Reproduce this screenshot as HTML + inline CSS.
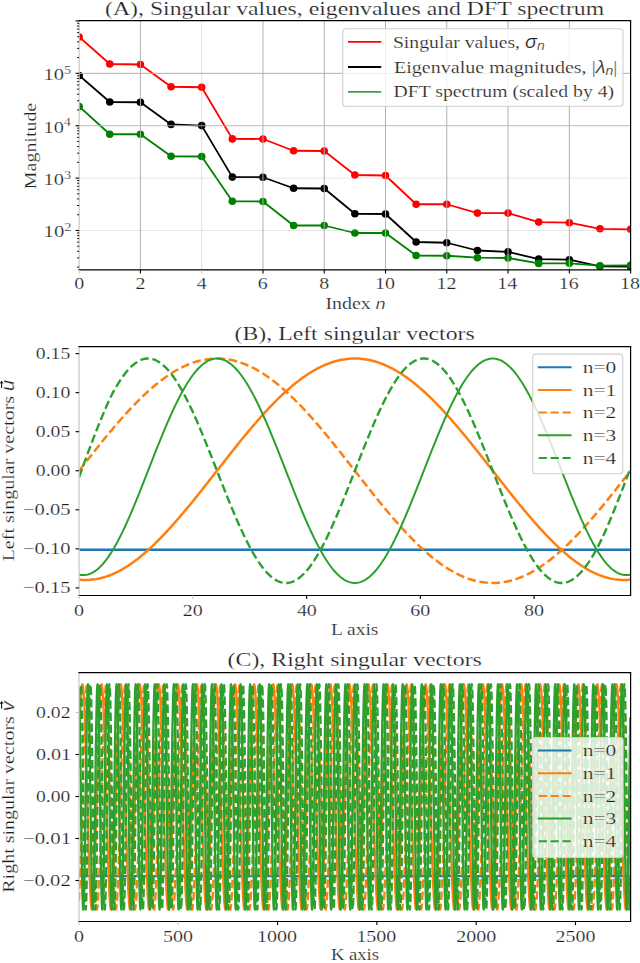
<!DOCTYPE html><html><head><meta charset="utf-8"><style>html,body{margin:0;padding:0;background:#fff;width:640px;height:963px;overflow:hidden}svg{display:block}text{font-family:'Liberation Serif', serif;fill:#1e1e1e;stroke:#fff;stroke-width:0.22px}</style></head><body>
<svg width="640" height="963" viewBox="0 0 640 963">
<defs><clipPath id="cA"><rect x="79.15" y="20.7" width="551.45" height="249.2"/></clipPath>
<clipPath id="cB"><rect x="79.1" y="346.6" width="551.5" height="248.9"/></clipPath>
<clipPath id="cC"><rect x="79" y="672.6" width="551.6" height="248.9"/></clipPath></defs>
<g clip-path="url(#cA)"><path d="M79.15 37 109.79 64 140.42 64.5 171.06 86.75 201.69 87.25 232.33 138.9 262.97 139 293.6 150.75 324.24 151 354.88 175 385.51 175.5 416.15 204.25 446.78 204.25 477.42 213.1 508.06 213.1 538.69 222.1 569.33 222.7 599.96 228.8 630.6 229.3" fill="none" stroke="#ff0000" stroke-width="1.8" stroke-linejoin="round" /><circle cx="79.15" cy="37" r="3.8" fill="#ff0000"/><circle cx="109.79" cy="64" r="3.8" fill="#ff0000"/><circle cx="140.42" cy="64.5" r="3.8" fill="#ff0000"/><circle cx="171.06" cy="86.75" r="3.8" fill="#ff0000"/><circle cx="201.69" cy="87.25" r="3.8" fill="#ff0000"/><circle cx="232.33" cy="138.9" r="3.8" fill="#ff0000"/><circle cx="262.97" cy="139" r="3.8" fill="#ff0000"/><circle cx="293.6" cy="150.75" r="3.8" fill="#ff0000"/><circle cx="324.24" cy="151" r="3.8" fill="#ff0000"/><circle cx="354.88" cy="175" r="3.8" fill="#ff0000"/><circle cx="385.51" cy="175.5" r="3.8" fill="#ff0000"/><circle cx="416.15" cy="204.25" r="3.8" fill="#ff0000"/><circle cx="446.78" cy="204.25" r="3.8" fill="#ff0000"/><circle cx="477.42" cy="213.1" r="3.8" fill="#ff0000"/><circle cx="508.06" cy="213.1" r="3.8" fill="#ff0000"/><circle cx="538.69" cy="222.1" r="3.8" fill="#ff0000"/><circle cx="569.33" cy="222.7" r="3.8" fill="#ff0000"/><circle cx="599.96" cy="228.8" r="3.8" fill="#ff0000"/><circle cx="630.6" cy="229.3" r="3.8" fill="#ff0000"/><path d="M79.15 75.5 109.79 102 140.42 102.25 171.06 124.4 201.69 125.6 232.33 177.1 262.97 177.25 293.6 188.25 324.24 188.5 354.88 213.75 385.51 214 416.15 242 446.78 242.75 477.42 250.5 508.06 251.9 538.69 259.1 569.33 259.7 599.96 266.3 630.6 266.6" fill="none" stroke="#000000" stroke-width="1.8" stroke-linejoin="round" /><circle cx="79.15" cy="75.5" r="3.8" fill="#000000"/><circle cx="109.79" cy="102" r="3.8" fill="#000000"/><circle cx="140.42" cy="102.25" r="3.8" fill="#000000"/><circle cx="171.06" cy="124.4" r="3.8" fill="#000000"/><circle cx="201.69" cy="125.6" r="3.8" fill="#000000"/><circle cx="232.33" cy="177.1" r="3.8" fill="#000000"/><circle cx="262.97" cy="177.25" r="3.8" fill="#000000"/><circle cx="293.6" cy="188.25" r="3.8" fill="#000000"/><circle cx="324.24" cy="188.5" r="3.8" fill="#000000"/><circle cx="354.88" cy="213.75" r="3.8" fill="#000000"/><circle cx="385.51" cy="214" r="3.8" fill="#000000"/><circle cx="416.15" cy="242" r="3.8" fill="#000000"/><circle cx="446.78" cy="242.75" r="3.8" fill="#000000"/><circle cx="477.42" cy="250.5" r="3.8" fill="#000000"/><circle cx="508.06" cy="251.9" r="3.8" fill="#000000"/><circle cx="538.69" cy="259.1" r="3.8" fill="#000000"/><circle cx="569.33" cy="259.7" r="3.8" fill="#000000"/><circle cx="599.96" cy="266.3" r="3.8" fill="#000000"/><circle cx="630.6" cy="266.6" r="3.8" fill="#000000"/><path d="M79.15 106.5 109.79 134.25 140.42 134.25 171.06 156.25 201.69 156.5 232.33 201.3 262.97 201.5 293.6 225.5 324.24 225.5 354.88 233 385.51 233 416.15 255.5 446.78 255.75 477.42 257.7 508.06 258 538.69 263.4 569.33 263.3 599.96 265.7 630.6 265.3" fill="none" stroke="#008000" stroke-width="1.8" stroke-linejoin="round" /><circle cx="79.15" cy="106.5" r="3.8" fill="#008000"/><circle cx="109.79" cy="134.25" r="3.8" fill="#008000"/><circle cx="140.42" cy="134.25" r="3.8" fill="#008000"/><circle cx="171.06" cy="156.25" r="3.8" fill="#008000"/><circle cx="201.69" cy="156.5" r="3.8" fill="#008000"/><circle cx="232.33" cy="201.3" r="3.8" fill="#008000"/><circle cx="262.97" cy="201.5" r="3.8" fill="#008000"/><circle cx="293.6" cy="225.5" r="3.8" fill="#008000"/><circle cx="324.24" cy="225.5" r="3.8" fill="#008000"/><circle cx="354.88" cy="233" r="3.8" fill="#008000"/><circle cx="385.51" cy="233" r="3.8" fill="#008000"/><circle cx="416.15" cy="255.5" r="3.8" fill="#008000"/><circle cx="446.78" cy="255.75" r="3.8" fill="#008000"/><circle cx="477.42" cy="257.7" r="3.8" fill="#008000"/><circle cx="508.06" cy="258" r="3.8" fill="#008000"/><circle cx="538.69" cy="263.4" r="3.8" fill="#008000"/><circle cx="569.33" cy="263.3" r="3.8" fill="#008000"/><circle cx="599.96" cy="265.7" r="3.8" fill="#008000"/><circle cx="630.6" cy="265.3" r="3.8" fill="#008000"/></g>
<g><line x1="140.42" y1="20.7" x2="140.42" y2="269.9" stroke="#b0b0b0" stroke-width="1" /><line x1="201.69" y1="20.7" x2="201.69" y2="269.9" stroke="#b0b0b0" stroke-width="1" stroke-opacity="0.4"/><line x1="262.97" y1="20.7" x2="262.97" y2="269.9" stroke="#b0b0b0" stroke-width="1" /><line x1="324.24" y1="20.7" x2="324.24" y2="269.9" stroke="#b0b0b0" stroke-width="1" /><line x1="385.51" y1="20.7" x2="385.51" y2="269.9" stroke="#b0b0b0" stroke-width="1" /><line x1="446.78" y1="20.7" x2="446.78" y2="269.9" stroke="#b0b0b0" stroke-width="1" /><line x1="508.06" y1="20.7" x2="508.06" y2="269.9" stroke="#b0b0b0" stroke-width="1" /><line x1="569.33" y1="20.7" x2="569.33" y2="269.9" stroke="#b0b0b0" stroke-width="1" /><line x1="79.15" y1="230.49" x2="630.6" y2="230.49" stroke="#b0b0b0" stroke-width="1" stroke-opacity="0.3"/><line x1="79.15" y1="178.11" x2="630.6" y2="178.11" stroke="#b0b0b0" stroke-width="1" stroke-opacity="0.3"/><line x1="79.15" y1="125.73" x2="630.6" y2="125.73" stroke="#b0b0b0" stroke-width="1" stroke-opacity="0.85"/><line x1="79.15" y1="73.35" x2="630.6" y2="73.35" stroke="#b0b0b0" stroke-width="1" stroke-opacity="1.0"/></g>
<line x1="79.15" y1="20.7" x2="79.15" y2="269.9" stroke="#c8c8c8" stroke-width="1.2" />
<line x1="78.55" y1="20.7" x2="631.2" y2="20.7" stroke="#000" stroke-width="1.2" />
<line x1="78.55" y1="269.9" x2="631.2" y2="269.9" stroke="#000" stroke-width="1.2" />
<line x1="630.6" y1="20.7" x2="630.6" y2="269.9" stroke="#000" stroke-width="1.2" />
<g><line x1="79.15" y1="269.9" x2="79.15" y2="273.5" stroke="#c8c8c8" stroke-width="1.1" /><line x1="140.42" y1="269.9" x2="140.42" y2="273.5" stroke="#000" stroke-width="1.1" /><line x1="201.69" y1="269.9" x2="201.69" y2="273.5" stroke="#c8c8c8" stroke-width="1.1" /><line x1="262.97" y1="269.9" x2="262.97" y2="273.5" stroke="#000" stroke-width="1.1" /><line x1="324.24" y1="269.9" x2="324.24" y2="273.5" stroke="#000" stroke-width="1.1" /><line x1="385.51" y1="269.9" x2="385.51" y2="273.5" stroke="#000" stroke-width="1.1" /><line x1="446.78" y1="269.9" x2="446.78" y2="273.5" stroke="#000" stroke-width="1.1" /><line x1="508.06" y1="269.9" x2="508.06" y2="273.5" stroke="#000" stroke-width="1.1" /><line x1="569.33" y1="269.9" x2="569.33" y2="273.5" stroke="#000" stroke-width="1.1" /><line x1="630.6" y1="269.9" x2="630.6" y2="273.5" stroke="#000" stroke-width="1.1" /><line x1="77.05" y1="267.1" x2="79.15" y2="267.1" stroke="#000" stroke-width="0.9" /><line x1="77.05" y1="257.88" x2="79.15" y2="257.88" stroke="#000" stroke-width="0.9" /><line x1="77.05" y1="251.33" x2="79.15" y2="251.33" stroke="#000" stroke-width="0.9" /><line x1="77.05" y1="246.26" x2="79.15" y2="246.26" stroke="#000" stroke-width="0.9" /><line x1="77.05" y1="242.11" x2="79.15" y2="242.11" stroke="#000" stroke-width="0.9" /><line x1="77.05" y1="238.6" x2="79.15" y2="238.6" stroke="#000" stroke-width="0.9" /><line x1="77.05" y1="235.57" x2="79.15" y2="235.57" stroke="#000" stroke-width="0.9" /><line x1="77.05" y1="232.89" x2="79.15" y2="232.89" stroke="#000" stroke-width="0.9" /><line x1="75.55" y1="230.49" x2="79.15" y2="230.49" stroke="#000" stroke-width="1.1" /><line x1="77.05" y1="214.72" x2="79.15" y2="214.72" stroke="#000" stroke-width="0.9" /><line x1="77.05" y1="205.5" x2="79.15" y2="205.5" stroke="#000" stroke-width="0.9" /><line x1="77.05" y1="198.95" x2="79.15" y2="198.95" stroke="#000" stroke-width="0.9" /><line x1="77.05" y1="193.88" x2="79.15" y2="193.88" stroke="#000" stroke-width="0.9" /><line x1="77.05" y1="189.73" x2="79.15" y2="189.73" stroke="#000" stroke-width="0.9" /><line x1="77.05" y1="186.22" x2="79.15" y2="186.22" stroke="#000" stroke-width="0.9" /><line x1="77.05" y1="183.19" x2="79.15" y2="183.19" stroke="#000" stroke-width="0.9" /><line x1="77.05" y1="180.51" x2="79.15" y2="180.51" stroke="#000" stroke-width="0.9" /><line x1="75.55" y1="178.11" x2="79.15" y2="178.11" stroke="#000" stroke-width="1.1" /><line x1="77.05" y1="162.34" x2="79.15" y2="162.34" stroke="#000" stroke-width="0.9" /><line x1="77.05" y1="153.12" x2="79.15" y2="153.12" stroke="#000" stroke-width="0.9" /><line x1="77.05" y1="146.57" x2="79.15" y2="146.57" stroke="#000" stroke-width="0.9" /><line x1="77.05" y1="141.5" x2="79.15" y2="141.5" stroke="#000" stroke-width="0.9" /><line x1="77.05" y1="137.35" x2="79.15" y2="137.35" stroke="#000" stroke-width="0.9" /><line x1="77.05" y1="133.84" x2="79.15" y2="133.84" stroke="#000" stroke-width="0.9" /><line x1="77.05" y1="130.81" x2="79.15" y2="130.81" stroke="#000" stroke-width="0.9" /><line x1="77.05" y1="128.13" x2="79.15" y2="128.13" stroke="#000" stroke-width="0.9" /><line x1="75.55" y1="125.73" x2="79.15" y2="125.73" stroke="#000" stroke-width="1.1" /><line x1="77.05" y1="109.96" x2="79.15" y2="109.96" stroke="#000" stroke-width="0.9" /><line x1="77.05" y1="100.74" x2="79.15" y2="100.74" stroke="#000" stroke-width="0.9" /><line x1="77.05" y1="94.19" x2="79.15" y2="94.19" stroke="#000" stroke-width="0.9" /><line x1="77.05" y1="89.12" x2="79.15" y2="89.12" stroke="#000" stroke-width="0.9" /><line x1="77.05" y1="84.97" x2="79.15" y2="84.97" stroke="#000" stroke-width="0.9" /><line x1="77.05" y1="81.46" x2="79.15" y2="81.46" stroke="#000" stroke-width="0.9" /><line x1="77.05" y1="78.43" x2="79.15" y2="78.43" stroke="#000" stroke-width="0.9" /><line x1="77.05" y1="75.75" x2="79.15" y2="75.75" stroke="#000" stroke-width="0.9" /><line x1="75.55" y1="73.35" x2="79.15" y2="73.35" stroke="#000" stroke-width="1.1" /><line x1="77.05" y1="57.58" x2="79.15" y2="57.58" stroke="#000" stroke-width="0.9" /><line x1="77.05" y1="48.36" x2="79.15" y2="48.36" stroke="#000" stroke-width="0.9" /><line x1="77.05" y1="41.81" x2="79.15" y2="41.81" stroke="#000" stroke-width="0.9" /><line x1="77.05" y1="36.74" x2="79.15" y2="36.74" stroke="#000" stroke-width="0.9" /><line x1="77.05" y1="32.59" x2="79.15" y2="32.59" stroke="#000" stroke-width="0.9" /><line x1="77.05" y1="29.08" x2="79.15" y2="29.08" stroke="#000" stroke-width="0.9" /><line x1="77.05" y1="26.05" x2="79.15" y2="26.05" stroke="#000" stroke-width="0.9" /><line x1="77.05" y1="23.37" x2="79.15" y2="23.37" stroke="#000" stroke-width="0.9" /><line x1="75.55" y1="20.97" x2="79.15" y2="20.97" stroke="#000" stroke-width="1.1" /></g>
<rect x="342.7" y="28.7" width="280.3" height="77.6" rx="3" ry="3" fill="#fff" fill-opacity="0.8" stroke="#d0d0d0" stroke-width="1.1"/>
<line x1="348" y1="41.9" x2="381.2" y2="41.9" stroke="#ff0000" stroke-width="1.9" />
<line x1="348" y1="67" x2="381.2" y2="67" stroke="#000000" stroke-width="1.9" />
<line x1="348" y1="91.9" x2="381.2" y2="91.9" stroke="#40a040" stroke-width="1.9" />
<g clip-path="url(#cB)"><path d="M79.1 549.79 80.94 549.79 82.78 549.79 84.61 549.79 86.45 549.79 88.29 549.79 90.13 549.79 91.97 549.79 93.81 549.79 95.64 549.79 97.48 549.79 99.32 549.79 101.16 549.79 103 549.79 104.84 549.79 106.67 549.79 108.51 549.79 110.35 549.79 112.19 549.79 114.03 549.79 115.87 549.79 117.7 549.79 119.54 549.79 121.38 549.79 123.22 549.79 125.06 549.79 126.9 549.79 128.73 549.79 130.57 549.79 132.41 549.79 134.25 549.79 136.09 549.79 137.93 549.79 139.76 549.79 141.6 549.79 143.44 549.79 145.28 549.79 147.12 549.79 148.96 549.79 150.8 549.79 152.63 549.79 154.47 549.79 156.31 549.79 158.15 549.79 159.99 549.79 161.82 549.79 163.66 549.79 165.5 549.79 167.34 549.79 169.18 549.79 171.02 549.79 172.86 549.79 174.69 549.79 176.53 549.79 178.37 549.79 180.21 549.79 182.05 549.79 183.88 549.79 185.72 549.79 187.56 549.79 189.4 549.79 191.24 549.79 193.08 549.79 194.91 549.79 196.75 549.79 198.59 549.79 200.43 549.79 202.27 549.79 204.11 549.79 205.94 549.79 207.78 549.79 209.62 549.79 211.46 549.79 213.3 549.79 215.14 549.79 216.97 549.79 218.81 549.79 220.65 549.79 222.49 549.79 224.33 549.79 226.17 549.79 228 549.79 229.84 549.79 231.68 549.79 233.52 549.79 235.36 549.79 237.2 549.79 239.03 549.79 240.87 549.79 242.71 549.79 244.55 549.79 246.39 549.79 248.23 549.79 250.06 549.79 251.9 549.79 253.74 549.79 255.58 549.79 257.42 549.79 259.26 549.79 261.1 549.79 262.93 549.79 264.77 549.79 266.61 549.79 268.45 549.79 270.29 549.79 272.12 549.79 273.96 549.79 275.8 549.79 277.64 549.79 279.48 549.79 281.32 549.79 283.15 549.79 284.99 549.79 286.83 549.79 288.67 549.79 290.51 549.79 292.35 549.79 294.19 549.79 296.02 549.79 297.86 549.79 299.7 549.79 301.54 549.79 303.38 549.79 305.21 549.79 307.05 549.79 308.89 549.79 310.73 549.79 312.57 549.79 314.41 549.79 316.25 549.79 318.08 549.79 319.92 549.79 321.76 549.79 323.6 549.79 325.44 549.79 327.27 549.79 329.11 549.79 330.95 549.79 332.79 549.79 334.63 549.79 336.47 549.79 338.3 549.79 340.14 549.79 341.98 549.79 343.82 549.79 345.66 549.79 347.5 549.79 349.34 549.79 351.17 549.79 353.01 549.79 354.85 549.79 356.69 549.79 358.53 549.79 360.37 549.79 362.2 549.79 364.04 549.79 365.88 549.79 367.72 549.79 369.56 549.79 371.39 549.79 373.23 549.79 375.07 549.79 376.91 549.79 378.75 549.79 380.59 549.79 382.43 549.79 384.26 549.79 386.1 549.79 387.94 549.79 389.78 549.79 391.62 549.79 393.45 549.79 395.29 549.79 397.13 549.79 398.97 549.79 400.81 549.79 402.65 549.79 404.49 549.79 406.32 549.79 408.16 549.79 410 549.79 411.84 549.79 413.68 549.79 415.51 549.79 417.35 549.79 419.19 549.79 421.03 549.79 422.87 549.79 424.71 549.79 426.54 549.79 428.38 549.79 430.22 549.79 432.06 549.79 433.9 549.79 435.74 549.79 437.58 549.79 439.41 549.79 441.25 549.79 443.09 549.79 444.93 549.79 446.77 549.79 448.61 549.79 450.44 549.79 452.28 549.79 454.12 549.79 455.96 549.79 457.8 549.79 459.63 549.79 461.47 549.79 463.31 549.79 465.15 549.79 466.99 549.79 468.83 549.79 470.66 549.79 472.5 549.79 474.34 549.79 476.18 549.79 478.02 549.79 479.86 549.79 481.69 549.79 483.53 549.79 485.37 549.79 487.21 549.79 489.05 549.79 490.89 549.79 492.73 549.79 494.56 549.79 496.4 549.79 498.24 549.79 500.08 549.79 501.92 549.79 503.75 549.79 505.59 549.79 507.43 549.79 509.27 549.79 511.11 549.79 512.95 549.79 514.78 549.79 516.62 549.79 518.46 549.79 520.3 549.79 522.14 549.79 523.98 549.79 525.82 549.79 527.65 549.79 529.49 549.79 531.33 549.79 533.17 549.79 535.01 549.79 536.85 549.79 538.68 549.79 540.52 549.79 542.36 549.79 544.2 549.79 546.04 549.79 547.88 549.79 549.71 549.79 551.55 549.79 553.39 549.79 555.23 549.79 557.07 549.79 558.9 549.79 560.74 549.79 562.58 549.79 564.42 549.79 566.26 549.79 568.1 549.79 569.93 549.79 571.77 549.79 573.61 549.79 575.45 549.79 577.29 549.79 579.13 549.79 580.97 549.79 582.8 549.79 584.64 549.79 586.48 549.79 588.32 549.79 590.16 549.79 592 549.79 593.83 549.79 595.67 549.79 597.51 549.79 599.35 549.79 601.19 549.79 603.02 549.79 604.86 549.79 606.7 549.79 608.54 549.79 610.38 549.79 612.22 549.79 614.06 549.79 615.89 549.79 617.73 549.79 619.57 549.79 621.41 549.79 623.25 549.79 625.09 549.79 626.92 549.79 628.76 549.79 630.6 549.79" fill="none" stroke="#1f77b4" stroke-width="2.4" stroke-linejoin="round"  stroke-linecap="butt"/><path d="M79.1 579.61 80.94 579.77 82.78 579.88 84.61 579.93 86.45 579.94 88.29 579.88 90.13 579.78 91.97 579.61 93.81 579.4 95.64 579.13 97.48 578.81 99.32 578.43 101.16 578 103 577.52 104.84 576.99 106.67 576.4 108.51 575.76 110.35 575.06 112.19 574.32 114.03 573.52 115.87 572.67 117.7 571.77 119.54 570.82 121.38 569.82 123.22 568.77 125.06 567.67 126.9 566.53 128.73 565.33 130.57 564.09 132.41 562.8 134.25 561.47 136.09 560.09 137.93 558.67 139.76 557.21 141.6 555.7 143.44 554.15 145.28 552.56 147.12 550.94 148.96 549.27 150.8 547.58 152.63 545.85 154.47 544.08 156.31 542.29 158.15 540.46 159.99 538.6 161.82 536.72 163.66 534.8 165.5 532.86 167.34 530.89 169.18 528.89 171.02 526.86 172.86 524.82 174.69 522.75 176.53 520.65 178.37 518.54 180.21 516.4 182.05 514.24 183.88 512.06 185.72 509.87 187.56 507.66 189.4 505.43 191.24 503.19 193.08 500.93 194.91 498.66 196.75 496.38 198.59 494.08 200.43 491.78 202.27 489.47 204.11 487.14 205.94 484.82 207.78 482.48 209.62 480.14 211.46 477.8 213.3 475.45 215.14 473.1 216.97 470.75 218.81 468.4 220.65 466.05 222.49 463.7 224.33 461.36 226.17 459.02 228 456.68 229.84 454.36 231.68 452.03 233.52 449.72 235.36 447.42 237.2 445.12 239.03 442.84 240.87 440.57 242.71 438.31 244.55 436.07 246.39 433.84 248.23 431.63 250.06 429.44 251.9 427.26 253.74 425.1 255.58 422.96 257.42 420.85 259.26 418.75 261.1 416.68 262.93 414.64 264.77 412.61 266.61 410.61 268.45 408.64 270.29 406.7 272.12 404.78 273.96 402.9 275.8 401.04 277.64 399.21 279.48 397.42 281.32 395.65 283.15 393.92 284.99 392.23 286.83 390.56 288.67 388.94 290.51 387.35 292.35 385.79 294.19 384.28 296.02 382.8 297.86 381.36 299.7 379.95 301.54 378.59 303.38 377.27 305.21 375.99 307.05 374.75 308.89 373.56 310.73 372.4 312.57 371.29 314.41 370.22 316.25 369.2 318.08 368.22 319.92 367.29 321.76 366.4 323.6 365.56 325.44 364.76 327.27 364.01 329.11 363.31 330.95 362.65 332.79 362.05 334.63 361.49 336.47 360.97 338.3 360.51 340.14 360.09 341.98 359.72 343.82 359.41 345.66 359.14 347.5 358.91 349.34 358.74 351.17 358.62 353.01 358.54 354.85 358.52 356.69 358.54 358.53 358.62 360.37 358.74 362.2 358.91 364.04 359.14 365.88 359.41 367.72 359.72 369.56 360.09 371.39 360.51 373.23 360.97 375.07 361.49 376.91 362.05 378.75 362.65 380.59 363.31 382.43 364.01 384.26 364.76 386.1 365.56 387.94 366.4 389.78 367.29 391.62 368.22 393.45 369.2 395.29 370.22 397.13 371.29 398.97 372.4 400.81 373.56 402.65 374.75 404.49 375.99 406.32 377.27 408.16 378.59 410 379.95 411.84 381.36 413.68 382.8 415.51 384.28 417.35 385.79 419.19 387.35 421.03 388.94 422.87 390.56 424.71 392.23 426.54 393.92 428.38 395.65 430.22 397.42 432.06 399.21 433.9 401.04 435.74 402.9 437.58 404.78 439.41 406.7 441.25 408.64 443.09 410.61 444.93 412.61 446.77 414.64 448.61 416.68 450.44 418.75 452.28 420.85 454.12 422.96 455.96 425.1 457.8 427.26 459.63 429.44 461.47 431.63 463.31 433.84 465.15 436.07 466.99 438.31 468.83 440.57 470.66 442.84 472.5 445.12 474.34 447.42 476.18 449.72 478.02 452.03 479.86 454.36 481.69 456.68 483.53 459.02 485.37 461.36 487.21 463.7 489.05 466.05 490.89 468.4 492.73 470.75 494.56 473.1 496.4 475.45 498.24 477.8 500.08 480.14 501.92 482.48 503.75 484.82 505.59 487.14 507.43 489.47 509.27 491.78 511.11 494.08 512.95 496.38 514.78 498.66 516.62 500.93 518.46 503.19 520.3 505.43 522.14 507.66 523.98 509.87 525.82 512.06 527.65 514.24 529.49 516.4 531.33 518.54 533.17 520.65 535.01 522.75 536.85 524.82 538.68 526.86 540.52 528.89 542.36 530.89 544.2 532.86 546.04 534.8 547.88 536.72 549.71 538.6 551.55 540.46 553.39 542.29 555.23 544.08 557.07 545.85 558.9 547.58 560.74 549.27 562.58 550.94 564.42 552.56 566.26 554.15 568.1 555.7 569.93 557.21 571.77 558.67 573.61 560.09 575.45 561.47 577.29 562.8 579.13 564.09 580.97 565.33 582.8 566.53 584.64 567.67 586.48 568.77 588.32 569.82 590.16 570.82 592 571.77 593.83 572.67 595.67 573.52 597.51 574.32 599.35 575.06 601.19 575.76 603.02 576.4 604.86 576.99 606.7 577.52 608.54 578 610.38 578.43 612.22 578.81 614.06 579.13 615.89 579.4 617.73 579.61 619.57 579.78 621.41 579.88 623.25 579.94 625.09 579.93 626.92 579.88 628.76 579.77 630.6 579.61" fill="none" stroke="#ff7f0e" stroke-width="2.5" stroke-linejoin="round"  stroke-linecap="butt"/><path d="M79.1 470.75 80.94 468.4 82.78 466.05 84.61 463.7 86.45 461.36 88.29 459.02 90.13 456.68 91.97 454.36 93.81 452.03 95.64 449.72 97.48 447.42 99.32 445.12 101.16 442.84 103 440.57 104.84 438.31 106.67 436.07 108.51 433.84 110.35 431.63 112.19 429.44 114.03 427.26 115.87 425.1 117.7 422.96 119.54 420.85 121.38 418.75 123.22 416.68 125.06 414.64 126.9 412.61 128.73 410.61 130.57 408.64 132.41 406.7 134.25 404.78 136.09 402.9 137.93 401.04 139.76 399.21 141.6 397.42 143.44 395.65 145.28 393.92 147.12 392.23 148.96 390.56 150.8 388.94 152.63 387.35 154.47 385.79 156.31 384.28 158.15 382.8 159.99 381.36 161.82 379.95 163.66 378.59 165.5 377.27 167.34 375.99 169.18 374.75 171.02 373.56 172.86 372.4 174.69 371.29 176.53 370.22 178.37 369.2 180.21 368.22 182.05 367.29 183.88 366.4 185.72 365.56 187.56 364.76 189.4 364.01 191.24 363.31 193.08 362.65 194.91 362.05 196.75 361.49 198.59 360.97 200.43 360.51 202.27 360.09 204.11 359.72 205.94 359.41 207.78 359.14 209.62 358.91 211.46 358.74 213.3 358.62 215.14 358.54 216.97 358.52 218.81 358.54 220.65 358.62 222.49 358.74 224.33 358.91 226.17 359.14 228 359.41 229.84 359.72 231.68 360.09 233.52 360.51 235.36 360.97 237.2 361.49 239.03 362.05 240.87 362.65 242.71 363.31 244.55 364.01 246.39 364.76 248.23 365.56 250.06 366.4 251.9 367.29 253.74 368.22 255.58 369.2 257.42 370.22 259.26 371.29 261.1 372.4 262.93 373.56 264.77 374.75 266.61 375.99 268.45 377.27 270.29 378.59 272.12 379.95 273.96 381.36 275.8 382.8 277.64 384.28 279.48 385.79 281.32 387.35 283.15 388.94 284.99 390.56 286.83 392.23 288.67 393.92 290.51 395.65 292.35 397.42 294.19 399.21 296.02 401.04 297.86 402.9 299.7 404.78 301.54 406.7 303.38 408.64 305.21 410.61 307.05 412.61 308.89 414.64 310.73 416.68 312.57 418.75 314.41 420.85 316.25 422.96 318.08 425.1 319.92 427.26 321.76 429.44 323.6 431.63 325.44 433.84 327.27 436.07 329.11 438.31 330.95 440.57 332.79 442.84 334.63 445.12 336.47 447.42 338.3 449.72 340.14 452.03 341.98 454.36 343.82 456.68 345.66 459.02 347.5 461.36 349.34 463.7 351.17 466.05 353.01 468.4 354.85 470.75 356.69 473.1 358.53 475.45 360.37 477.8 362.2 480.14 364.04 482.48 365.88 484.82 367.72 487.14 369.56 489.47 371.39 491.78 373.23 494.08 375.07 496.38 376.91 498.66 378.75 500.93 380.59 503.19 382.43 505.43 384.26 507.66 386.1 509.87 387.94 512.06 389.78 514.24 391.62 516.4 393.45 518.54 395.29 520.65 397.13 522.75 398.97 524.82 400.81 526.86 402.65 528.89 404.49 530.89 406.32 532.86 408.16 534.8 410 536.72 411.84 538.6 413.68 540.46 415.51 542.29 417.35 544.08 419.19 545.85 421.03 547.58 422.87 549.27 424.71 550.94 426.54 552.56 428.38 554.15 430.22 555.71 432.06 557.22 433.9 558.7 435.74 560.14 437.58 561.55 439.41 562.91 441.25 564.23 443.09 565.51 444.93 566.75 446.77 567.94 448.61 569.1 450.44 570.21 452.28 571.28 454.12 572.3 455.96 573.28 457.8 574.21 459.63 575.1 461.47 575.94 463.31 576.74 465.15 577.49 466.99 578.19 468.83 578.85 470.66 579.45 472.5 580.01 474.34 580.53 476.18 580.99 478.02 581.41 479.86 581.78 481.69 582.09 483.53 582.36 485.37 582.59 487.21 582.76 489.05 582.88 490.89 582.96 492.73 582.98 494.56 582.96 496.4 582.88 498.24 582.76 500.08 582.59 501.92 582.36 503.75 582.09 505.59 581.78 507.43 581.41 509.27 580.99 511.11 580.53 512.95 580.01 514.78 579.45 516.62 578.85 518.46 578.19 520.3 577.49 522.14 576.74 523.98 575.94 525.82 575.1 527.65 574.21 529.49 573.28 531.33 572.3 533.17 571.28 535.01 570.21 536.85 569.1 538.68 567.94 540.52 566.75 542.36 565.51 544.2 564.23 546.04 562.91 547.88 561.55 549.71 560.14 551.55 558.7 553.39 557.22 555.23 555.71 557.07 554.15 558.9 552.56 560.74 550.94 562.58 549.27 564.42 547.58 566.26 545.85 568.1 544.08 569.93 542.29 571.77 540.46 573.61 538.6 575.45 536.72 577.29 534.8 579.13 532.86 580.97 530.89 582.8 528.89 584.64 526.86 586.48 524.82 588.32 522.75 590.16 520.65 592 518.54 593.83 516.4 595.67 514.24 597.51 512.06 599.35 509.87 601.19 507.66 603.02 505.43 604.86 503.19 606.7 500.93 608.54 498.66 610.38 496.38 612.22 494.08 614.06 491.78 615.89 489.47 617.73 487.14 619.57 484.82 621.41 482.48 623.25 480.14 625.09 477.8 626.92 475.45 628.76 473.1 630.6 470.75" fill="none" stroke="#ff7f0e" stroke-width="2.5" stroke-linejoin="round" stroke-dasharray="8.5 3.7" stroke-linecap="butt"/><path d="M79.1 574.56 80.94 574.93 82.78 575.1 84.61 575.08 86.45 574.85 88.29 574.42 90.13 573.79 91.97 572.96 93.81 571.93 95.64 570.7 97.48 569.27 99.32 567.64 101.16 565.82 103 563.81 104.84 561.61 106.67 559.23 108.51 556.67 110.35 553.93 112.19 551.03 114.03 547.96 115.87 544.73 117.7 541.36 119.54 537.83 121.38 534.17 123.22 530.38 125.06 526.47 126.9 522.44 128.73 518.31 130.57 514.08 132.41 509.76 134.25 505.36 136.09 500.89 137.93 496.35 139.76 491.77 141.6 487.14 143.44 482.48 145.28 477.8 147.12 473.1 148.96 468.4 150.8 463.7 152.63 459.02 154.47 454.36 156.31 449.72 158.15 445.12 159.99 440.57 161.82 436.07 163.66 431.63 165.5 427.26 167.34 422.96 169.18 418.75 171.02 414.64 172.86 410.61 174.69 406.7 176.53 402.9 178.37 399.21 180.21 395.65 182.05 392.23 183.88 388.94 185.72 385.79 187.56 382.8 189.4 379.95 191.24 377.27 193.08 374.75 194.91 372.4 196.75 370.22 198.59 368.22 200.43 366.4 202.27 364.76 204.11 363.31 205.94 362.05 207.78 360.97 209.62 360.09 211.46 359.41 213.3 358.91 215.14 358.62 216.97 358.52 218.81 358.62 220.65 358.91 222.49 359.41 224.33 360.09 226.17 360.97 228 362.05 229.84 363.31 231.68 364.76 233.52 366.4 235.36 368.22 237.2 370.22 239.03 372.4 240.87 374.75 242.71 377.27 244.55 379.95 246.39 382.8 248.23 385.79 250.06 388.94 251.9 392.23 253.74 395.65 255.58 399.21 257.42 402.9 259.26 406.7 261.1 410.61 262.93 414.64 264.77 418.75 266.61 422.96 268.45 427.26 270.29 431.63 272.12 436.07 273.96 440.57 275.8 445.12 277.64 449.72 279.48 454.36 281.32 459.02 283.15 463.7 284.99 468.4 286.83 473.1 288.67 477.8 290.51 482.48 292.35 487.14 294.19 491.78 296.02 496.38 297.86 500.93 299.7 505.43 301.54 509.87 303.38 514.24 305.21 518.54 307.05 522.75 308.89 526.86 310.73 530.89 312.57 534.8 314.41 538.6 316.25 542.29 318.08 545.85 319.92 549.27 321.76 552.56 323.6 555.71 325.44 558.7 327.27 561.55 329.11 564.23 330.95 566.75 332.79 569.1 334.63 571.28 336.47 573.28 338.3 575.1 340.14 576.74 341.98 578.19 343.82 579.45 345.66 580.53 347.5 581.41 349.34 582.09 351.17 582.59 353.01 582.88 354.85 582.98 356.69 582.88 358.53 582.59 360.37 582.09 362.2 581.41 364.04 580.53 365.88 579.45 367.72 578.19 369.56 576.74 371.39 575.1 373.23 573.28 375.07 571.28 376.91 569.1 378.75 566.75 380.59 564.23 382.43 561.55 384.26 558.7 386.1 555.71 387.94 552.56 389.78 549.27 391.62 545.85 393.45 542.29 395.29 538.6 397.13 534.8 398.97 530.89 400.81 526.86 402.65 522.75 404.49 518.54 406.32 514.24 408.16 509.87 410 505.43 411.84 500.93 413.68 496.38 415.51 491.78 417.35 487.14 419.19 482.48 421.03 477.8 422.87 473.1 424.71 468.4 426.54 463.7 428.38 459.02 430.22 454.36 432.06 449.72 433.9 445.12 435.74 440.57 437.58 436.07 439.41 431.63 441.25 427.26 443.09 422.96 444.93 418.75 446.77 414.64 448.61 410.61 450.44 406.7 452.28 402.9 454.12 399.21 455.96 395.65 457.8 392.23 459.63 388.94 461.47 385.79 463.31 382.8 465.15 379.95 466.99 377.27 468.83 374.75 470.66 372.4 472.5 370.22 474.34 368.22 476.18 366.4 478.02 364.76 479.86 363.31 481.69 362.05 483.53 360.97 485.37 360.09 487.21 359.41 489.05 358.91 490.89 358.62 492.73 358.52 494.56 358.62 496.4 358.91 498.24 359.41 500.08 360.09 501.92 360.97 503.75 362.05 505.59 363.31 507.43 364.76 509.27 366.4 511.11 368.22 512.95 370.22 514.78 372.4 516.62 374.75 518.46 377.27 520.3 379.95 522.14 382.8 523.98 385.79 525.82 388.94 527.65 392.23 529.49 395.65 531.33 399.21 533.17 402.9 535.01 406.7 536.85 410.61 538.68 414.64 540.52 418.75 542.36 422.96 544.2 427.26 546.04 431.63 547.88 436.07 549.71 440.57 551.55 445.12 553.39 449.72 555.23 454.36 557.07 459.02 558.9 463.7 560.74 468.4 562.58 473.1 564.42 477.8 566.26 482.48 568.1 487.14 569.93 491.77 571.77 496.35 573.61 500.89 575.45 505.36 577.29 509.76 579.13 514.08 580.97 518.31 582.8 522.44 584.64 526.47 586.48 530.38 588.32 534.17 590.16 537.83 592 541.36 593.83 544.73 595.67 547.96 597.51 551.03 599.35 553.93 601.19 556.67 603.02 559.23 604.86 561.61 606.7 563.81 608.54 565.82 610.38 567.64 612.22 569.27 614.06 570.7 615.89 571.93 617.73 572.96 619.57 573.79 621.41 574.42 623.25 574.85 625.09 575.08 626.92 575.1 628.76 574.93 630.6 574.56" fill="none" stroke="#2ca02c" stroke-width="2" stroke-linejoin="round"  stroke-linecap="butt"/><path d="M79.1 477 80.94 471.95 82.78 466.91 84.61 461.89 86.45 456.89 88.29 451.93 90.13 447 91.97 442.13 93.81 437.31 95.64 432.56 97.48 427.88 99.32 423.28 101.16 418.77 103 414.35 104.84 410.03 106.67 405.82 108.51 401.73 110.35 397.76 112.19 393.92 114.03 390.56 115.87 387.35 117.7 384.28 119.54 381.36 121.38 378.59 123.22 375.99 125.06 373.56 126.9 371.29 128.73 369.2 130.57 367.29 132.41 365.56 134.25 364.01 136.09 362.65 137.93 361.49 139.76 360.51 141.6 359.72 143.44 359.14 145.28 358.74 147.12 358.54 148.96 358.54 150.8 358.74 152.63 359.14 154.47 359.72 156.31 360.51 158.15 361.49 159.99 362.65 161.82 364.01 163.66 365.56 165.5 367.29 167.34 369.2 169.18 371.29 171.02 373.56 172.86 375.99 174.69 378.59 176.53 381.36 178.37 384.28 180.21 387.35 182.05 390.56 183.88 393.92 185.72 397.42 187.56 401.04 189.4 404.78 191.24 408.64 193.08 412.61 194.91 416.68 196.75 420.85 198.59 425.1 200.43 429.44 202.27 433.84 204.11 438.31 205.94 442.84 207.78 447.42 209.62 452.03 211.46 456.68 213.3 461.36 215.14 466.05 216.97 470.75 218.81 475.45 220.65 480.14 222.49 484.82 224.33 489.47 226.17 494.08 228 498.66 229.84 503.19 231.68 507.66 233.52 512.06 235.36 516.4 237.2 520.65 239.03 524.82 240.87 528.89 242.71 532.86 244.55 536.72 246.39 540.46 248.23 544.08 250.06 547.58 251.9 550.94 253.74 554.15 255.58 557.22 257.42 560.14 259.26 562.91 261.1 565.51 262.93 567.94 264.77 570.21 266.61 572.3 268.45 574.21 270.29 575.94 272.12 577.49 273.96 578.85 275.8 580.01 277.64 580.99 279.48 581.78 281.32 582.36 283.15 582.76 284.99 582.96 286.83 582.96 288.67 582.76 290.51 582.36 292.35 581.78 294.19 580.99 296.02 580.01 297.86 578.85 299.7 577.49 301.54 575.94 303.38 574.21 305.21 572.3 307.05 570.21 308.89 567.94 310.73 565.51 312.57 562.91 314.41 560.14 316.25 557.22 318.08 554.15 319.92 550.94 321.76 547.58 323.6 544.08 325.44 540.46 327.27 536.72 329.11 532.86 330.95 528.89 332.79 524.82 334.63 520.65 336.47 516.4 338.3 512.06 340.14 507.66 341.98 503.19 343.82 498.66 345.66 494.08 347.5 489.47 349.34 484.82 351.17 480.14 353.01 475.45 354.85 470.75 356.69 466.05 358.53 461.36 360.37 456.68 362.2 452.03 364.04 447.42 365.88 442.84 367.72 438.31 369.56 433.84 371.39 429.44 373.23 425.1 375.07 420.85 376.91 416.68 378.75 412.61 380.59 408.64 382.43 404.78 384.26 401.04 386.1 397.42 387.94 393.92 389.78 390.56 391.62 387.35 393.45 384.28 395.29 381.36 397.13 378.59 398.97 375.99 400.81 373.56 402.65 371.29 404.49 369.2 406.32 367.29 408.16 365.56 410 364.01 411.84 362.65 413.68 361.49 415.51 360.51 417.35 359.72 419.19 359.14 421.03 358.74 422.87 358.54 424.71 358.54 426.54 358.74 428.38 359.14 430.22 359.72 432.06 360.51 433.9 361.49 435.74 362.65 437.58 364.01 439.41 365.56 441.25 367.29 443.09 369.2 444.93 371.29 446.77 373.56 448.61 375.99 450.44 378.59 452.28 381.36 454.12 384.28 455.96 387.35 457.8 390.56 459.63 393.92 461.47 397.42 463.31 401.04 465.15 404.78 466.99 408.64 468.83 412.61 470.66 416.68 472.5 420.85 474.34 425.1 476.18 429.44 478.02 433.84 479.86 438.31 481.69 442.84 483.53 447.42 485.37 452.03 487.21 456.68 489.05 461.36 490.89 466.05 492.73 470.75 494.56 475.45 496.4 480.14 498.24 484.82 500.08 489.47 501.92 494.08 503.75 498.66 505.59 503.19 507.43 507.66 509.27 512.06 511.11 516.4 512.95 520.65 514.78 524.82 516.62 528.89 518.46 532.86 520.3 536.72 522.14 540.46 523.98 544.08 525.82 547.58 527.65 550.94 529.49 554.15 531.33 557.22 533.17 560.14 535.01 562.91 536.85 565.51 538.68 567.94 540.52 570.21 542.36 572.3 544.2 574.21 546.04 575.94 547.88 577.49 549.71 578.85 551.55 580.01 553.39 580.99 555.23 581.78 557.07 582.36 558.9 582.76 560.74 582.96 562.58 582.96 564.42 582.76 566.26 582.36 568.1 581.78 569.93 580.99 571.77 580.01 573.61 578.85 575.45 577.49 577.29 575.94 579.13 574.21 580.97 572.3 582.8 570.21 584.64 567.94 586.48 565.51 588.32 562.91 590.16 560.14 592 557.22 593.83 554.15 595.67 550.94 597.51 547.58 599.35 543.91 601.19 540.11 603.02 536.2 604.86 532.16 606.7 528.02 608.54 523.78 610.38 519.44 612.22 515.01 614.06 510.5 615.89 505.92 617.73 501.28 619.57 496.58 621.41 491.83 623.25 487.04 625.09 482.21 626.92 477.36 628.76 472.5 630.6 467.63" fill="none" stroke="#2ca02c" stroke-width="2.4" stroke-linejoin="round" stroke-dasharray="8.5 3.7" stroke-linecap="butt"/></g>
<line x1="79.1" y1="346.6" x2="79.1" y2="595.5" stroke="#c8c8c8" stroke-width="1.2" />
<line x1="78.5" y1="346.6" x2="631.2" y2="346.6" stroke="#000" stroke-width="1.2" />
<line x1="78.5" y1="595.5" x2="631.2" y2="595.5" stroke="#000" stroke-width="1.2" />
<line x1="630.6" y1="346.6" x2="630.6" y2="595.5" stroke="#000" stroke-width="1.2" />
<g><line x1="79.1" y1="595.5" x2="79.1" y2="599.1" stroke="#c8c8c8" stroke-width="1.1" /><line x1="192.85" y1="595.5" x2="192.85" y2="599.1" stroke="#c8c8c8" stroke-width="1.1" /><line x1="306.6" y1="595.5" x2="306.6" y2="599.1" stroke="#000" stroke-width="1.1" /><line x1="420.35" y1="595.5" x2="420.35" y2="599.1" stroke="#000" stroke-width="1.1" /><line x1="534.1" y1="595.5" x2="534.1" y2="599.1" stroke="#000" stroke-width="1.1" /><line x1="75.5" y1="353.6" x2="79.1" y2="353.6" stroke="#000" stroke-width="1.1" /><line x1="75.5" y1="392.65" x2="79.1" y2="392.65" stroke="#000" stroke-width="1.1" /><line x1="75.5" y1="431.7" x2="79.1" y2="431.7" stroke="#000" stroke-width="1.1" /><line x1="75.5" y1="470.75" x2="79.1" y2="470.75" stroke="#000" stroke-width="1.1" /><line x1="75.5" y1="509.8" x2="79.1" y2="509.8" stroke="#000" stroke-width="1.1" /><line x1="75.5" y1="548.85" x2="79.1" y2="548.85" stroke="#000" stroke-width="1.1" /><line x1="75.5" y1="587.9" x2="79.1" y2="587.9" stroke="#000" stroke-width="1.1" /></g>
<rect x="532.75" y="354.1" width="90" height="119.65" rx="3" ry="3" fill="#fff" fill-opacity="0.8" stroke="#d0d0d0" stroke-width="1.1"/>
<line x1="537.8" y1="367.25" x2="571.6" y2="367.25" stroke="#1f77b4" stroke-width="2" />
<line x1="537.8" y1="389.9" x2="571.6" y2="389.9" stroke="#ff7f0e" stroke-width="2" />
<line x1="538.7" y1="412.6" x2="570.9" y2="412.6" stroke="#ff7f0e" stroke-width="2" stroke-dasharray="8.2 3.7"/>
<line x1="537.8" y1="435.3" x2="571.6" y2="435.3" stroke="#2ca02c" stroke-width="2" />
<line x1="538.7" y1="458" x2="570.9" y2="458" stroke="#2ca02c" stroke-width="2" stroke-dasharray="8.2 3.7"/>
<g clip-path="url(#cC)"><path d="M79 876.22 630.6 876.22" fill="none" stroke="#1f77b4" stroke-width="2.3" stroke-linejoin="round" /><path d="M78.9 753.46 79.1 746.76 79.3 740.27 79.5 734.02 79.69 728.04 79.89 722.36 80.09 717 80.29 711.98 80.49 707.32 80.69 703.05 80.89 699.18 81.09 695.72 81.28 692.7 81.48 690.13 81.68 688.01 81.88 686.36 82.08 685.19 82.28 684.49 82.48 684.27 82.67 684.54 82.87 685.28 83.07 686.51 83.27 688.21 83.47 690.37 83.67 692.99 83.87 696.05 84.06 699.55 84.26 703.46 84.46 707.77 84.66 712.47 84.86 717.52 85.06 722.92 85.26 728.63 85.46 734.63 85.65 740.91 85.85 747.42 86.05 754.14 86.25 761.05 86.45 768.11 86.65 775.29 86.85 782.56 87.04 789.9 87.24 797.27 87.44 804.63 87.64 811.97 87.84 819.23 88.04 826.41 88.24 833.45 88.43 840.34 88.63 847.04 88.83 853.53 89.03 859.78 89.23 865.76 89.43 871.44 89.63 876.8 89.83 881.82 90.02 886.48 90.22 890.75 90.42 894.62 90.62 898.08 90.82 901.1 91.02 903.67 91.22 905.79 91.41 907.44 91.61 908.61 91.81 909.31 92.01 909.53 92.21 909.26 92.41 908.52 92.61 907.29 92.8 905.59 93 903.43 93.2 900.81 93.4 897.75 93.6 894.25 93.8 890.34 94 886.03 94.2 881.33 94.39 876.28 94.59 870.88 94.79 865.17 94.99 859.17 95.19 852.89 95.39 846.38 95.59 839.66 95.78 832.75 95.98 825.69 96.18 818.51 96.38 811.24 96.58 803.9 96.78 796.53 96.98 789.17 97.17 781.83 97.37 774.57 97.57 767.39 97.77 760.35 97.97 753.46 98.17 746.76 98.37 740.27 98.57 734.02 98.76 728.04 98.96 722.36 99.16 717 99.36 711.98 99.56 707.32 99.76 703.05 99.96 699.18 100.15 695.72 100.35 692.7 100.55 690.13 100.75 688.01 100.95 686.36 101.15 685.19 101.35 684.49 101.54 684.27 101.74 684.54 101.94 685.28 102.14 686.51 102.34 688.21 102.54 690.37 102.74 692.99 102.94 696.05 103.13 699.55 103.33 703.46 103.53 707.77 103.73 712.47 103.93 717.52 104.13 722.92 104.33 728.63 104.52 734.63 104.72 740.91 104.92 747.42 105.12 754.14 105.32 761.05 105.52 768.11 105.72 775.29 105.92 782.56 106.11 789.9 106.31 797.27 106.51 804.63 106.71 811.97 106.91 819.23 107.11 826.41 107.31 833.45 107.5 840.34 107.7 847.04 107.9 853.53 108.1 859.78 108.3 865.76 108.5 871.44 108.7 876.8 108.89 881.82 109.09 886.48 109.29 890.75 109.49 894.62 109.69 898.08 109.89 901.1 110.09 903.67 110.29 905.79 110.48 907.44 110.68 908.61 110.88 909.31 111.08 909.53 111.28 909.26 111.48 908.52 111.68 907.29 111.87 905.59 112.07 903.43 112.27 900.81 112.47 897.75 112.67 894.25 112.87 890.34 113.07 886.03 113.26 881.33 113.46 876.28 113.66 870.88 113.86 865.17 114.06 859.17 114.26 852.89 114.46 846.38 114.66 839.66 114.85 832.75 115.05 825.69 115.25 818.51 115.45 811.24 115.65 803.9 115.85 796.53 116.05 789.17 116.24 781.83 116.44 774.57 116.64 767.39 116.84 760.35 117.04 753.46 117.24 746.76 117.44 740.27 117.63 734.02 117.83 728.04 118.03 722.36 118.23 717 118.43 711.98 118.63 707.32 118.83 703.05 119.03 699.18 119.22 695.72 119.42 692.7 119.62 690.13 119.82 688.01 120.02 686.36 120.22 685.19 120.42 684.49 120.61 684.27 120.81 684.54 121.01 685.28 121.21 686.51 121.41 688.21 121.61 690.37 121.81 692.99 122 696.05 122.2 699.55 122.4 703.46 122.6 707.77 122.8 712.47 123 717.52 123.2 722.92 123.4 728.63 123.59 734.63 123.79 740.91 123.99 747.42 124.19 754.14 124.39 761.05 124.59 768.11 124.79 775.29 124.98 782.56 125.18 789.9 125.38 797.27 125.58 804.63 125.78 811.97 125.98 819.23 126.18 826.41 126.37 833.45 126.57 840.34 126.77 847.04 126.97 853.53 127.17 859.78 127.37 865.76 127.57 871.44 127.77 876.8 127.96 881.82 128.16 886.48 128.36 890.75 128.56 894.62 128.76 898.08 128.96 901.1 129.16 903.67 129.35 905.79 129.55 907.44 129.75 908.61 129.95 909.31 130.15 909.53 130.35 909.26 130.55 908.52 130.75 907.29 130.94 905.59 131.14 903.43 131.34 900.81 131.54 897.75 131.74 894.25 131.94 890.34 132.14 886.03 132.33 881.33 132.53 876.28 132.73 870.88 132.93 865.17 133.13 859.17 133.33 852.89 133.53 846.38 133.72 839.66 133.92 832.75 134.12 825.69 134.32 818.51 134.52 811.24 134.72 803.9 134.92 796.53 135.12 789.17 135.31 781.83 135.51 774.57 135.71 767.39 135.91 760.35 136.11 753.46 136.31 746.76 136.51 740.27 136.7 734.02 136.9 728.04 137.1 722.36 137.3 717 137.5 711.98 137.7 707.32 137.9 703.05 138.09 699.18 138.29 695.72 138.49 692.7 138.69 690.13 138.89 688.01 139.09 686.36 139.29 685.19 139.49 684.49 139.68 684.27 139.88 684.54 140.08 685.28 140.28 686.51 140.48 688.21 140.68 690.37 140.88 692.99 141.07 696.05 141.27 699.55 141.47 703.46 141.67 707.77 141.87 712.47 142.07 717.52 142.27 722.92 142.46 728.63 142.66 734.63 142.86 740.91 143.06 747.42 143.26 754.14 143.46 761.05 143.66 768.11 143.86 775.29 144.05 782.56 144.25 789.9 144.45 797.27 144.65 804.63 144.85 811.97 145.05 819.23 145.25 826.41 145.44 833.45 145.64 840.34 145.84 847.04 146.04 853.53 146.24 859.78 146.44 865.76 146.64 871.44 146.83 876.8 147.03 881.82 147.23 886.48 147.43 890.75 147.63 894.62 147.83 898.08 148.03 901.1 148.23 903.67 148.42 905.79 148.62 907.44 148.82 908.61 149.02 909.31 149.22 909.53 149.42 909.26 149.62 908.52 149.81 907.29 150.01 905.59 150.21 903.43 150.41 900.81 150.61 897.75 150.81 894.25 151.01 890.34 151.2 886.03 151.4 881.33 151.6 876.28 151.8 870.88 152 865.17 152.2 859.17 152.4 852.89 152.6 846.38 152.79 839.66 152.99 832.75 153.19 825.69 153.39 818.51 153.59 811.24 153.79 803.9 153.99 796.53 154.18 789.17 154.38 781.83 154.58 774.57 154.78 767.39 154.98 760.35 155.18 753.46 155.38 746.76 155.58 740.27 155.77 734.02 155.97 728.04 156.17 722.36 156.37 717 156.57 711.98 156.77 707.32 156.97 703.05 157.16 699.18 157.36 695.72 157.56 692.7 157.76 690.13 157.96 688.01 158.16 686.36 158.36 685.19 158.55 684.49 158.75 684.27 158.95 684.54 159.15 685.28 159.35 686.51 159.55 688.21 159.75 690.37 159.95 692.99 160.14 696.05 160.34 699.55 160.54 703.46 160.74 707.77 160.94 712.47 161.14 717.52 161.34 722.92 161.53 728.63 161.73 734.63 161.93 740.91 162.13 747.42 162.33 754.14 162.53 761.05 162.73 768.11 162.92 775.29 163.12 782.56 163.32 789.9 163.52 797.27 163.72 804.63 163.92 811.97 164.12 819.23 164.32 826.41 164.51 833.45 164.71 840.34 164.91 847.04 165.11 853.53 165.31 859.78 165.51 865.76 165.71 871.44 165.9 876.8 166.1 881.82 166.3 886.48 166.5 890.75 166.7 894.62 166.9 898.08 167.1 901.1 167.29 903.67 167.49 905.79 167.69 907.44 167.89 908.61 168.09 909.31 168.29 909.53 168.49 909.26 168.69 908.52 168.88 907.29 169.08 905.59 169.28 903.43 169.48 900.81 169.68 897.75 169.88 894.25 170.08 890.34 170.27 886.03 170.47 881.33 170.67 876.28 170.87 870.88 171.07 865.17 171.27 859.17 171.47 852.89 171.66 846.38 171.86 839.66 172.06 832.75 172.26 825.69 172.46 818.51 172.66 811.24 172.86 803.9 173.06 796.53 173.25 789.17 173.45 781.83 173.65 774.57 173.85 767.39 174.05 760.35 174.25 753.46 174.45 746.76 174.64 740.27 174.84 734.02 175.04 728.04 175.24 722.36 175.44 717 175.64 711.98 175.84 707.32 176.03 703.05 176.23 699.18 176.43 695.72 176.63 692.7 176.83 690.13 177.03 688.01 177.23 686.36 177.43 685.19 177.62 684.49 177.82 684.27 178.02 684.54 178.22 685.28 178.42 686.51 178.62 688.21 178.82 690.37 179.01 692.99 179.21 696.05 179.41 699.55 179.61 703.46 179.81 707.77 180.01 712.47 180.21 717.52 180.41 722.92 180.6 728.63 180.8 734.63 181 740.91 181.2 747.42 181.4 754.14 181.6 761.05 181.8 768.11 181.99 775.29 182.19 782.56 182.39 789.9 182.59 797.27 182.79 804.63 182.99 811.97 183.19 819.23 183.38 826.41 183.58 833.45 183.78 840.34 183.98 847.04 184.18 853.53 184.38 859.78 184.58 865.76 184.78 871.44 184.97 876.8 185.17 881.82 185.37 886.48 185.57 890.75 185.77 894.62 185.97 898.08 186.17 901.1 186.36 903.67 186.56 905.79 186.76 907.44 186.96 908.61 187.16 909.31 187.36 909.53 187.56 909.26 187.75 908.52 187.95 907.29 188.15 905.59 188.35 903.43 188.55 900.81 188.75 897.75 188.95 894.25 189.15 890.34 189.34 886.03 189.54 881.33 189.74 876.28 189.94 870.88 190.14 865.17 190.34 859.17 190.54 852.89 190.73 846.38 190.93 839.66 191.13 832.75 191.33 825.69 191.53 818.51 191.73 811.24 191.93 803.9 192.12 796.53 192.32 789.17 192.52 781.83 192.72 774.57 192.92 767.39 193.12 760.35 193.32 753.46 193.52 746.76 193.71 740.27 193.91 734.02 194.11 728.04 194.31 722.36 194.51 717 194.71 711.98 194.91 707.32 195.1 703.05 195.3 699.18 195.5 695.72 195.7 692.7 195.9 690.13 196.1 688.01 196.3 686.36 196.49 685.19 196.69 684.49 196.89 684.27 197.09 684.54 197.29 685.28 197.49 686.51 197.69 688.21 197.89 690.37 198.08 692.99 198.28 696.05 198.48 699.55 198.68 703.46 198.88 707.77 199.08 712.47 199.28 717.52 199.47 722.92 199.67 728.63 199.87 734.63 200.07 740.91 200.27 747.42 200.47 754.14 200.67 761.05 200.86 768.11 201.06 775.29 201.26 782.56 201.46 789.9 201.66 797.27 201.86 804.63 202.06 811.97 202.26 819.23 202.45 826.41 202.65 833.45 202.85 840.34 203.05 847.04 203.25 853.53 203.45 859.78 203.65 865.76 203.84 871.44 204.04 876.8 204.24 881.82 204.44 886.48 204.64 890.75 204.84 894.62 205.04 898.08 205.24 901.1 205.43 903.67 205.63 905.79 205.83 907.44 206.03 908.61 206.23 909.31 206.43 909.53 206.63 909.26 206.82 908.52 207.02 907.29 207.22 905.59 207.42 903.43 207.62 900.81 207.82 897.75 208.02 894.25 208.21 890.34 208.41 886.03 208.61 881.33 208.81 876.28 209.01 870.88 209.21 865.17 209.41 859.17 209.61 852.89 209.8 846.38 210 839.66 210.2 832.75 210.4 825.69 210.6 818.51 210.8 811.24 211 803.9 211.19 796.53 211.39 789.17 211.59 781.83 211.79 774.57 211.99 767.39 212.19 760.35 212.39 753.46 212.58 746.76 212.78 740.27 212.98 734.02 213.18 728.04 213.38 722.36 213.58 717 213.78 711.98 213.98 707.32 214.17 703.05 214.37 699.18 214.57 695.72 214.77 692.7 214.97 690.13 215.17 688.01 215.37 686.36 215.56 685.19 215.76 684.49 215.96 684.27 216.16 684.54 216.36 685.28 216.56 686.51 216.76 688.21 216.95 690.37 217.15 692.99 217.35 696.05 217.55 699.55 217.75 703.46 217.95 707.77 218.15 712.47 218.35 717.52 218.54 722.92 218.74 728.63 218.94 734.63 219.14 740.91 219.34 747.42 219.54 754.14 219.74 761.05 219.93 768.11 220.13 775.29 220.33 782.56 220.53 789.9 220.73 797.27 220.93 804.63 221.13 811.97 221.32 819.23 221.52 826.41 221.72 833.45 221.92 840.34 222.12 847.04 222.32 853.53 222.52 859.78 222.72 865.76 222.91 871.44 223.11 876.8 223.31 881.82 223.51 886.48 223.71 890.75 223.91 894.62 224.11 898.08 224.3 901.1 224.5 903.67 224.7 905.79 224.9 907.44 225.1 908.61 225.3 909.31 225.5 909.53 225.69 909.26 225.89 908.52 226.09 907.29 226.29 905.59 226.49 903.43 226.69 900.81 226.89 897.75 227.09 894.25 227.28 890.34 227.48 886.03 227.68 881.33 227.88 876.28 228.08 870.88 228.28 865.17 228.48 859.17 228.67 852.89 228.87 846.38 229.07 839.66 229.27 832.75 229.47 825.69 229.67 818.51 229.87 811.24 230.07 803.9 230.26 796.53 230.46 789.17 230.66 781.83 230.86 774.57 231.06 767.39 231.26 760.35 231.46 753.46 231.65 746.76 231.85 740.27 232.05 734.02 232.25 728.04 232.45 722.36 232.65 717 232.85 711.98 233.04 707.32 233.24 703.05 233.44 699.18 233.64 695.72 233.84 692.7 234.04 690.13 234.24 688.01 234.44 686.36 234.63 685.19 234.83 684.49 235.03 684.27 235.23 684.54 235.43 685.28 235.63 686.51 235.83 688.21 236.02 690.37 236.22 692.99 236.42 696.05 236.62 699.55 236.82 703.46 237.02 707.77 237.22 712.47 237.41 717.52 237.61 722.92 237.81 728.63 238.01 734.63 238.21 740.91 238.41 747.42 238.61 754.14 238.81 761.05 239 768.11 239.2 775.29 239.4 782.56 239.6 789.9 239.8 797.27 240 804.63 240.2 811.97 240.39 819.23 240.59 826.41 240.79 833.45 240.99 840.34 241.19 847.04 241.39 853.53 241.59 859.78 241.78 865.76 241.98 871.44 242.18 876.8 242.38 881.82 242.58 886.48 242.78 890.75 242.98 894.62 243.18 898.08 243.37 901.1 243.57 903.67 243.77 905.79 243.97 907.44 244.17 908.61 244.37 909.31 244.57 909.53 244.76 909.26 244.96 908.52 245.16 907.29 245.36 905.59 245.56 903.43 245.76 900.81 245.96 897.75 246.15 894.25 246.35 890.34 246.55 886.03 246.75 881.33 246.95 876.28 247.15 870.88 247.35 865.17 247.55 859.17 247.74 852.89 247.94 846.38 248.14 839.66 248.34 832.75 248.54 825.69 248.74 818.51 248.94 811.24 249.13 803.9 249.33 796.53 249.53 789.17 249.73 781.83 249.93 774.57 250.13 767.39 250.33 760.35 250.52 753.46 250.72 746.76 250.92 740.27 251.12 734.02 251.32 728.04 251.52 722.36 251.72 717 251.92 711.98 252.11 707.32 252.31 703.05 252.51 699.18 252.71 695.72 252.91 692.7 253.11 690.13 253.31 688.01 253.5 686.36 253.7 685.19 253.9 684.49 254.1 684.27 254.3 684.54 254.5 685.28 254.7 686.51 254.9 688.21 255.09 690.37 255.29 692.99 255.49 696.05 255.69 699.55 255.89 703.46 256.09 707.77 256.29 712.47 256.48 717.52 256.68 722.92 256.88 728.63 257.08 734.63 257.28 740.91 257.48 747.42 257.68 754.14 257.87 761.05 258.07 768.11 258.27 775.29 258.47 782.56 258.67 789.9 258.87 797.27 259.07 804.63 259.27 811.97 259.46 819.23 259.66 826.41 259.86 833.45 260.06 840.34 260.26 847.04 260.46 853.53 260.66 859.78 260.85 865.76 261.05 871.44 261.25 876.8 261.45 881.82 261.65 886.48 261.85 890.75 262.05 894.62 262.24 898.08 262.44 901.1 262.64 903.67 262.84 905.79 263.04 907.44 263.24 908.61 263.44 909.31 263.64 909.53 263.83 909.26 264.03 908.52 264.23 907.29 264.43 905.59 264.63 903.43 264.83 900.81 265.03 897.75 265.22 894.25 265.42 890.34 265.62 886.03 265.82 881.33 266.02 876.28 266.22 870.88 266.42 865.17 266.61 859.17 266.81 852.89 267.01 846.38 267.21 839.66 267.41 832.75 267.61 825.69 267.81 818.51 268.01 811.24 268.2 803.9 268.4 796.53 268.6 789.17 268.8 781.83 269 774.57 269.2 767.39 269.4 760.35 269.59 753.46 269.79 746.76 269.99 740.27 270.19 734.02 270.39 728.04 270.59 722.36 270.79 717 270.98 711.98 271.18 707.32 271.38 703.05 271.58 699.18 271.78 695.72 271.98 692.7 272.18 690.13 272.38 688.01 272.57 686.36 272.77 685.19 272.97 684.49 273.17 684.27 273.37 684.54 273.57 685.28 273.77 686.51 273.96 688.21 274.16 690.37 274.36 692.99 274.56 696.05 274.76 699.55 274.96 703.46 275.16 707.77 275.35 712.47 275.55 717.52 275.75 722.92 275.95 728.63 276.15 734.63 276.35 740.91 276.55 747.42 276.75 754.14 276.94 761.05 277.14 768.11 277.34 775.29 277.54 782.56 277.74 789.9 277.94 797.27 278.14 804.63 278.33 811.97 278.53 819.23 278.73 826.41 278.93 833.45 279.13 840.34 279.33 847.04 279.53 853.53 279.73 859.78 279.92 865.76 280.12 871.44 280.32 876.8 280.52 881.82 280.72 886.48 280.92 890.75 281.12 894.62 281.31 898.08 281.51 901.1 281.71 903.67 281.91 905.79 282.11 907.44 282.31 908.61 282.51 909.31 282.7 909.53 282.9 909.26 283.1 908.52 283.3 907.29 283.5 905.59 283.7 903.43 283.9 900.81 284.1 897.75 284.29 894.25 284.49 890.34 284.69 886.03 284.89 881.33 285.09 876.28 285.29 870.88 285.49 865.17 285.68 859.17 285.88 852.89 286.08 846.38 286.28 839.66 286.48 832.75 286.68 825.69 286.88 818.51 287.07 811.24 287.27 803.9 287.47 796.53 287.67 789.17 287.87 781.83 288.07 774.57 288.27 767.39 288.47 760.35 288.66 753.46 288.86 746.76 289.06 740.27 289.26 734.02 289.46 728.04 289.66 722.36 289.86 717 290.05 711.98 290.25 707.32 290.45 703.05 290.65 699.18 290.85 695.72 291.05 692.7 291.25 690.13 291.44 688.01 291.64 686.36 291.84 685.19 292.04 684.49 292.24 684.27 292.44 684.54 292.64 685.28 292.84 686.51 293.03 688.21 293.23 690.37 293.43 692.99 293.63 696.05 293.83 699.55 294.03 703.46 294.23 707.77 294.42 712.47 294.62 717.52 294.82 722.92 295.02 728.63 295.22 734.63 295.42 740.91 295.62 747.42 295.81 754.14 296.01 761.05 296.21 768.11 296.41 775.29 296.61 782.56 296.81 789.9 297.01 797.27 297.21 804.63 297.4 811.97 297.6 819.23 297.8 826.41 298 833.45 298.2 840.34 298.4 847.04 298.6 853.53 298.79 859.78 298.99 865.76 299.19 871.44 299.39 876.8 299.59 881.82 299.79 886.48 299.99 890.75 300.18 894.62 300.38 898.08 300.58 901.1 300.78 903.67 300.98 905.79 301.18 907.44 301.38 908.61 301.58 909.31 301.77 909.53 301.97 909.26 302.17 908.52 302.37 907.29 302.57 905.59 302.77 903.43 302.97 900.81 303.16 897.75 303.36 894.25 303.56 890.34 303.76 886.03 303.96 881.33 304.16 876.28 304.36 870.88 304.56 865.17 304.75 859.17 304.95 852.89 305.15 846.38 305.35 839.66 305.55 832.75 305.75 825.69 305.95 818.51 306.14 811.24 306.34 803.9 306.54 796.53 306.74 789.17 306.94 781.83 307.14 774.57 307.34 767.39 307.53 760.35 307.73 753.46 307.93 746.76 308.13 740.27 308.33 734.02 308.53 728.04 308.73 722.36 308.93 717 309.12 711.98 309.32 707.32 309.52 703.05 309.72 699.18 309.92 695.72 310.12 692.7 310.32 690.13 310.51 688.01 310.71 686.36 310.91 685.19 311.11 684.49 311.31 684.27 311.51 684.54 311.71 685.28 311.9 686.51 312.1 688.21 312.3 690.37 312.5 692.99 312.7 696.05 312.9 699.55 313.1 703.46 313.3 707.77 313.49 712.47 313.69 717.52 313.89 722.92 314.09 728.63 314.29 734.63 314.49 740.91 314.69 747.42 314.88 754.14 315.08 761.05 315.28 768.11 315.48 775.29 315.68 782.56 315.88 789.9 316.08 797.27 316.27 804.63 316.47 811.97 316.67 819.23 316.87 826.41 317.07 833.45 317.27 840.34 317.47 847.04 317.67 853.53 317.86 859.78 318.06 865.76 318.26 871.44 318.46 876.8 318.66 881.82 318.86 886.48 319.06 890.75 319.25 894.62 319.45 898.08 319.65 901.1 319.85 903.67 320.05 905.79 320.25 907.44 320.45 908.61 320.64 909.31 320.84 909.53 321.04 909.26 321.24 908.52 321.44 907.29 321.64 905.59 321.84 903.43 322.04 900.81 322.23 897.75 322.43 894.25 322.63 890.34 322.83 886.03 323.03 881.33 323.23 876.28 323.43 870.88 323.62 865.17 323.82 859.17 324.02 852.89 324.22 846.38 324.42 839.66 324.62 832.75 324.82 825.69 325.01 818.51 325.21 811.24 325.41 803.9 325.61 796.53 325.81 789.17 326.01 781.83 326.21 774.57 326.41 767.39 326.6 760.35 326.8 753.46 327 746.76 327.2 740.27 327.4 734.02 327.6 728.04 327.8 722.36 327.99 717 328.19 711.98 328.39 707.32 328.59 703.05 328.79 699.18 328.99 695.72 329.19 692.7 329.39 690.13 329.58 688.01 329.78 686.36 329.98 685.19 330.18 684.49 330.38 684.27 330.58 684.54 330.78 685.28 330.97 686.51 331.17 688.21 331.37 690.37 331.57 692.99 331.77 696.05 331.97 699.55 332.17 703.46 332.36 707.77 332.56 712.47 332.76 717.52 332.96 722.92 333.16 728.63 333.36 734.63 333.56 740.91 333.76 747.42 333.95 754.14 334.15 761.05 334.35 768.11 334.55 775.29 334.75 782.56 334.95 789.9 335.15 797.27 335.34 804.63 335.54 811.97 335.74 819.23 335.94 826.41 336.14 833.45 336.34 840.34 336.54 847.04 336.73 853.53 336.93 859.78 337.13 865.76 337.33 871.44 337.53 876.8 337.73 881.82 337.93 886.48 338.13 890.75 338.32 894.62 338.52 898.08 338.72 901.1 338.92 903.67 339.12 905.79 339.32 907.44 339.52 908.61 339.71 909.31 339.91 909.53 340.11 909.26 340.31 908.52 340.51 907.29 340.71 905.59 340.91 903.43 341.1 900.81 341.3 897.75 341.5 894.25 341.7 890.34 341.9 886.03 342.1 881.33 342.3 876.28 342.5 870.88 342.69 865.17 342.89 859.17 343.09 852.89 343.29 846.38 343.49 839.66 343.69 832.75 343.89 825.69 344.08 818.51 344.28 811.24 344.48 803.9 344.68 796.53 344.88 789.17 345.08 781.83 345.28 774.57 345.47 767.39 345.67 760.35 345.87 753.46 346.07 746.76 346.27 740.27 346.47 734.02 346.67 728.04 346.87 722.36 347.06 717 347.26 711.98 347.46 707.32 347.66 703.05 347.86 699.18 348.06 695.72 348.26 692.7 348.45 690.13 348.65 688.01 348.85 686.36 349.05 685.19 349.25 684.49 349.45 684.27 349.65 684.54 349.84 685.28 350.04 686.51 350.24 688.21 350.44 690.37 350.64 692.99 350.84 696.05 351.04 699.55 351.24 703.46 351.43 707.77 351.63 712.47 351.83 717.52 352.03 722.92 352.23 728.63 352.43 734.63 352.63 740.91 352.82 747.42 353.02 754.14 353.22 761.05 353.42 768.11 353.62 775.29 353.82 782.56 354.02 789.9 354.22 797.27 354.41 804.63 354.61 811.97 354.81 819.23 355.01 826.41 355.21 833.45 355.41 840.34 355.61 847.04 355.8 853.53 356 859.78 356.2 865.76 356.4 871.44 356.6 876.8 356.8 881.82 357 886.48 357.19 890.75 357.39 894.62 357.59 898.08 357.79 901.1 357.99 903.67 358.19 905.79 358.39 907.44 358.59 908.61 358.78 909.31 358.98 909.53 359.18 909.26 359.38 908.52 359.58 907.29 359.78 905.59 359.98 903.43 360.17 900.81 360.37 897.75 360.57 894.25 360.77 890.34 360.97 886.03 361.17 881.33 361.37 876.28 361.56 870.88 361.76 865.17 361.96 859.17 362.16 852.89 362.36 846.38 362.56 839.66 362.76 832.75 362.96 825.69 363.15 818.51 363.35 811.24 363.55 803.9 363.75 796.53 363.95 789.17 364.15 781.83 364.35 774.57 364.54 767.39 364.74 760.35 364.94 753.46 365.14 746.76 365.34 740.27 365.54 734.02 365.74 728.04 365.93 722.36 366.13 717 366.33 711.98 366.53 707.32 366.73 703.05 366.93 699.18 367.13 695.72 367.33 692.7 367.52 690.13 367.72 688.01 367.92 686.36 368.12 685.19 368.32 684.49 368.52 684.27 368.72 684.54 368.91 685.28 369.11 686.51 369.31 688.21 369.51 690.37 369.71 692.99 369.91 696.05 370.11 699.55 370.3 703.46 370.5 707.77 370.7 712.47 370.9 717.52 371.1 722.92 371.3 728.63 371.5 734.63 371.7 740.91 371.89 747.42 372.09 754.14 372.29 761.05 372.49 768.11 372.69 775.29 372.89 782.56 373.09 789.9 373.28 797.27 373.48 804.63 373.68 811.97 373.88 819.23 374.08 826.41 374.28 833.45 374.48 840.34 374.67 847.04 374.87 853.53 375.07 859.78 375.27 865.76 375.47 871.44 375.67 876.8 375.87 881.82 376.07 886.48 376.26 890.75 376.46 894.62 376.66 898.08 376.86 901.1 377.06 903.67 377.26 905.79 377.46 907.44 377.65 908.61 377.85 909.31 378.05 909.53 378.25 909.26 378.45 908.52 378.65 907.29 378.85 905.59 379.05 903.43 379.24 900.81 379.44 897.75 379.64 894.25 379.84 890.34 380.04 886.03 380.24 881.33 380.44 876.28 380.63 870.88 380.83 865.17 381.03 859.17 381.23 852.89 381.43 846.38 381.63 839.66 381.83 832.75 382.02 825.69 382.22 818.51 382.42 811.24 382.62 803.9 382.82 796.53 383.02 789.17 383.22 781.83 383.42 774.57 383.61 767.39 383.81 760.35 384.01 753.46 384.21 746.76 384.41 740.27 384.61 734.02 384.81 728.04 385 722.36 385.2 717 385.4 711.98 385.6 707.32 385.8 703.05 386 699.18 386.2 695.72 386.39 692.7 386.59 690.13 386.79 688.01 386.99 686.36 387.19 685.19 387.39 684.49 387.59 684.27 387.79 684.54 387.98 685.28 388.18 686.51 388.38 688.21 388.58 690.37 388.78 692.99 388.98 696.05 389.18 699.55 389.37 703.46 389.57 707.77 389.77 712.47 389.97 717.52 390.17 722.92 390.37 728.63 390.57 734.63 390.76 740.91 390.96 747.42 391.16 754.14 391.36 761.05 391.56 768.11 391.76 775.29 391.96 782.56 392.16 789.9 392.35 797.27 392.55 804.63 392.75 811.97 392.95 819.23 393.15 826.41 393.35 833.45 393.55 840.34 393.74 847.04 393.94 853.53 394.14 859.78 394.34 865.76 394.54 871.44 394.74 876.8 394.94 881.82 395.13 886.48 395.33 890.75 395.53 894.62 395.73 898.08 395.93 901.1 396.13 903.67 396.33 905.79 396.53 907.44 396.72 908.61 396.92 909.31 397.12 909.53 397.32 909.26 397.52 908.52 397.72 907.29 397.92 905.59 398.11 903.43 398.31 900.81 398.51 897.75 398.71 894.25 398.91 890.34 399.11 886.03 399.31 881.33 399.5 876.28 399.7 870.88 399.9 865.17 400.1 859.17 400.3 852.89 400.5 846.38 400.7 839.66 400.9 832.75 401.09 825.69 401.29 818.51 401.49 811.24 401.69 803.9 401.89 796.53 402.09 789.17 402.29 781.83 402.48 774.57 402.68 767.39 402.88 760.35 403.08 753.46 403.28 746.76 403.48 740.27 403.68 734.02 403.88 728.04 404.07 722.36 404.27 717 404.47 711.98 404.67 707.32 404.87 703.05 405.07 699.18 405.27 695.72 405.46 692.7 405.66 690.13 405.86 688.01 406.06 686.36 406.26 685.19 406.46 684.49 406.66 684.27 406.85 684.54 407.05 685.28 407.25 686.51 407.45 688.21 407.65 690.37 407.85 692.99 408.05 696.05 408.25 699.55 408.44 703.46 408.64 707.77 408.84 712.47 409.04 717.52 409.24 722.92 409.44 728.63 409.64 734.63 409.83 740.91 410.03 747.42 410.23 754.14 410.43 761.05 410.63 768.11 410.83 775.29 411.03 782.56 411.22 789.9 411.42 797.27 411.62 804.63 411.82 811.97 412.02 819.23 412.22 826.41 412.42 833.45 412.62 840.34 412.81 847.04 413.01 853.53 413.21 859.78 413.41 865.76 413.61 871.44 413.81 876.8 414.01 881.82 414.2 886.48 414.4 890.75 414.6 894.62 414.8 898.08 415 901.1 415.2 903.67 415.4 905.79 415.59 907.44 415.79 908.61 415.99 909.31 416.19 909.53 416.39 909.26 416.59 908.52 416.79 907.29 416.99 905.59 417.18 903.43 417.38 900.81 417.58 897.75 417.78 894.25 417.98 890.34 418.18 886.03 418.38 881.33 418.57 876.28 418.77 870.88 418.97 865.17 419.17 859.17 419.37 852.89 419.57 846.38 419.77 839.66 419.96 832.75 420.16 825.69 420.36 818.51 420.56 811.24 420.76 803.9 420.96 796.53 421.16 789.17 421.36 781.83 421.55 774.57 421.75 767.39 421.95 760.35 422.15 753.46 422.35 746.76 422.55 740.27 422.75 734.02 422.94 728.04 423.14 722.36 423.34 717 423.54 711.98 423.74 707.32 423.94 703.05 424.14 699.18 424.33 695.72 424.53 692.7 424.73 690.13 424.93 688.01 425.13 686.36 425.33 685.19 425.53 684.49 425.73 684.27 425.92 684.54 426.12 685.28 426.32 686.51 426.52 688.21 426.72 690.37 426.92 692.99 427.12 696.05 427.31 699.55 427.51 703.46 427.71 707.77 427.91 712.47 428.11 717.52 428.31 722.92 428.51 728.63 428.71 734.63 428.9 740.91 429.1 747.42 429.3 754.14 429.5 761.05 429.7 768.11 429.9 775.29 430.1 782.56 430.29 789.9 430.49 797.27 430.69 804.63 430.89 811.97 431.09 819.23 431.29 826.41 431.49 833.45 431.68 840.34 431.88 847.04 432.08 853.53 432.28 859.78 432.48 865.76 432.68 871.44 432.88 876.8 433.08 881.82 433.27 886.48 433.47 890.75 433.67 894.62 433.87 898.08 434.07 901.1 434.27 903.67 434.47 905.79 434.66 907.44 434.86 908.61 435.06 909.31 435.26 909.53 435.46 909.26 435.66 908.52 435.86 907.29 436.05 905.59 436.25 903.43 436.45 900.81 436.65 897.75 436.85 894.25 437.05 890.34 437.25 886.03 437.45 881.33 437.64 876.28 437.84 870.88 438.04 865.17 438.24 859.17 438.44 852.89 438.64 846.38 438.84 839.66 439.03 832.75 439.23 825.69 439.43 818.51 439.63 811.24 439.83 803.9 440.03 796.53 440.23 789.17 440.42 781.83 440.62 774.57 440.82 767.39 441.02 760.35 441.22 753.46 441.42 746.76 441.62 740.27 441.82 734.02 442.01 728.04 442.21 722.36 442.41 717 442.61 711.98 442.81 707.32 443.01 703.05 443.21 699.18 443.4 695.72 443.6 692.7 443.8 690.13 444 688.01 444.2 686.36 444.4 685.19 444.6 684.49 444.79 684.27 444.99 684.54 445.19 685.28 445.39 686.51 445.59 688.21 445.79 690.37 445.99 692.99 446.19 696.05 446.38 699.55 446.58 703.46 446.78 707.77 446.98 712.47 447.18 717.52 447.38 722.92 447.58 728.63 447.77 734.63 447.97 740.91 448.17 747.42 448.37 754.14 448.57 761.05 448.77 768.11 448.97 775.29 449.16 782.56 449.36 789.9 449.56 797.27 449.76 804.63 449.96 811.97 450.16 819.23 450.36 826.41 450.56 833.45 450.75 840.34 450.95 847.04 451.15 853.53 451.35 859.78 451.55 865.76 451.75 871.44 451.95 876.8 452.14 881.82 452.34 886.48 452.54 890.75 452.74 894.62 452.94 898.08 453.14 901.1 453.34 903.67 453.54 905.79 453.73 907.44 453.93 908.61 454.13 909.31 454.33 909.53 454.53 909.26 454.73 908.52 454.93 907.29 455.12 905.59 455.32 903.43 455.52 900.81 455.72 897.75 455.92 894.25 456.12 890.34 456.32 886.03 456.51 881.33 456.71 876.28 456.91 870.88 457.11 865.17 457.31 859.17 457.51 852.89 457.71 846.38 457.91 839.66 458.1 832.75 458.3 825.69 458.5 818.51 458.7 811.24 458.9 803.9 459.1 796.53 459.3 789.17 459.49 781.83 459.69 774.57 459.89 767.39 460.09 760.35 460.29 753.46 460.49 746.76 460.69 740.27 460.88 734.02 461.08 728.04 461.28 722.36 461.48 717 461.68 711.98 461.88 707.32 462.08 703.05 462.28 699.18 462.47 695.72 462.67 692.7 462.87 690.13 463.07 688.01 463.27 686.36 463.47 685.19 463.67 684.49 463.86 684.27 464.06 684.54 464.26 685.28 464.46 686.51 464.66 688.21 464.86 690.37 465.06 692.99 465.25 696.05 465.45 699.55 465.65 703.46 465.85 707.77 466.05 712.47 466.25 717.52 466.45 722.92 466.65 728.63 466.84 734.63 467.04 740.91 467.24 747.42 467.44 754.14 467.64 761.05 467.84 768.11 468.04 775.29 468.23 782.56 468.43 789.9 468.63 797.27 468.83 804.63 469.03 811.97 469.23 819.23 469.43 826.41 469.62 833.45 469.82 840.34 470.02 847.04 470.22 853.53 470.42 859.78 470.62 865.76 470.82 871.44 471.02 876.8 471.21 881.82 471.41 886.48 471.61 890.75 471.81 894.62 472.01 898.08 472.21 901.1 472.41 903.67 472.6 905.79 472.8 907.44 473 908.61 473.2 909.31 473.4 909.53 473.6 909.26 473.8 908.52 473.99 907.29 474.19 905.59 474.39 903.43 474.59 900.81 474.79 897.75 474.99 894.25 475.19 890.34 475.39 886.03 475.58 881.33 475.78 876.28 475.98 870.88 476.18 865.17 476.38 859.17 476.58 852.89 476.78 846.38 476.97 839.66 477.17 832.75 477.37 825.69 477.57 818.51 477.77 811.24 477.97 803.9 478.17 796.53 478.37 789.17 478.56 781.83 478.76 774.57 478.96 767.39 479.16 760.35 479.36 753.46 479.56 746.76 479.76 740.27 479.95 734.02 480.15 728.04 480.35 722.36 480.55 717 480.75 711.98 480.95 707.32 481.15 703.05 481.34 699.18 481.54 695.72 481.74 692.7 481.94 690.13 482.14 688.01 482.34 686.36 482.54 685.19 482.74 684.49 482.93 684.27 483.13 684.54 483.33 685.28 483.53 686.51 483.73 688.21 483.93 690.37 484.13 692.99 484.32 696.05 484.52 699.55 484.72 703.46 484.92 707.77 485.12 712.47 485.32 717.52 485.52 722.92 485.71 728.63 485.91 734.63 486.11 740.91 486.31 747.42 486.51 754.14 486.71 761.05 486.91 768.11 487.11 775.29 487.3 782.56 487.5 789.9 487.7 797.27 487.9 804.63 488.1 811.97 488.3 819.23 488.5 826.41 488.69 833.45 488.89 840.34 489.09 847.04 489.29 853.53 489.49 859.78 489.69 865.76 489.89 871.44 490.08 876.8 490.28 881.82 490.48 886.48 490.68 890.75 490.88 894.62 491.08 898.08 491.28 901.1 491.48 903.67 491.67 905.79 491.87 907.44 492.07 908.61 492.27 909.31 492.47 909.53 492.67 909.26 492.87 908.52 493.06 907.29 493.26 905.59 493.46 903.43 493.66 900.81 493.86 897.75 494.06 894.25 494.26 890.34 494.45 886.03 494.65 881.33 494.85 876.28 495.05 870.88 495.25 865.17 495.45 859.17 495.65 852.89 495.85 846.38 496.04 839.66 496.24 832.75 496.44 825.69 496.64 818.51 496.84 811.24 497.04 803.9 497.24 796.53 497.43 789.17 497.63 781.83 497.83 774.57 498.03 767.39 498.23 760.35 498.43 753.46 498.63 746.76 498.82 740.27 499.02 734.02 499.22 728.04 499.42 722.36 499.62 717 499.82 711.98 500.02 707.32 500.22 703.05 500.41 699.18 500.61 695.72 500.81 692.7 501.01 690.13 501.21 688.01 501.41 686.36 501.61 685.19 501.8 684.49 502 684.27 502.2 684.54 502.4 685.28 502.6 686.51 502.8 688.21 503 690.37 503.2 692.99 503.39 696.05 503.59 699.55 503.79 703.46 503.99 707.77 504.19 712.47 504.39 717.52 504.59 722.92 504.78 728.63 504.98 734.63 505.18 740.91 505.38 747.42 505.58 754.14 505.78 761.05 505.98 768.11 506.17 775.29 506.37 782.56 506.57 789.9 506.77 797.27 506.97 804.63 507.17 811.97 507.37 819.23 507.57 826.41 507.76 833.45 507.96 840.34 508.16 847.04 508.36 853.53 508.56 859.78 508.76 865.76 508.96 871.44 509.15 876.8 509.35 881.82 509.55 886.48 509.75 890.75 509.95 894.62 510.15 898.08 510.35 901.1 510.54 903.67 510.74 905.79 510.94 907.44 511.14 908.61 511.34 909.31 511.54 909.53 511.74 909.26 511.94 908.52 512.13 907.29 512.33 905.59 512.53 903.43 512.73 900.81 512.93 897.75 513.13 894.25 513.33 890.34 513.52 886.03 513.72 881.33 513.92 876.28 514.12 870.88 514.32 865.17 514.52 859.17 514.72 852.89 514.91 846.38 515.11 839.66 515.31 832.75 515.51 825.69 515.71 818.51 515.91 811.24 516.11 803.9 516.31 796.53 516.5 789.17 516.7 781.83 516.9 774.57 517.1 767.39 517.3 760.35 517.5 753.46 517.7 746.76 517.89 740.27 518.09 734.02 518.29 728.04 518.49 722.36 518.69 717 518.89 711.98 519.09 707.32 519.28 703.05 519.48 699.18 519.68 695.72 519.88 692.7 520.08 690.13 520.28 688.01 520.48 686.36 520.68 685.19 520.87 684.49 521.07 684.27 521.27 684.54 521.47 685.28 521.67 686.51 521.87 688.21 522.07 690.37 522.26 692.99 522.46 696.05 522.66 699.55 522.86 703.46 523.06 707.77 523.26 712.47 523.46 717.52 523.65 722.92 523.85 728.63 524.05 734.63 524.25 740.91 524.45 747.42 524.65 754.14 524.85 761.05 525.05 768.11 525.24 775.29 525.44 782.56 525.64 789.9 525.84 797.27 526.04 804.63 526.24 811.97 526.44 819.23 526.63 826.41 526.83 833.45 527.03 840.34 527.23 847.04 527.43 853.53 527.63 859.78 527.83 865.76 528.03 871.44 528.22 876.8 528.42 881.82 528.62 886.48 528.82 890.75 529.02 894.62 529.22 898.08 529.42 901.1 529.61 903.67 529.81 905.79 530.01 907.44 530.21 908.61 530.41 909.31 530.61 909.53 530.81 909.26 531 908.52 531.2 907.29 531.4 905.59 531.6 903.43 531.8 900.81 532 897.75 532.2 894.25 532.4 890.34 532.59 886.03 532.79 881.33 532.99 876.28 533.19 870.88 533.39 865.17 533.59 859.17 533.79 852.89 533.98 846.38 534.18 839.66 534.38 832.75 534.58 825.69 534.78 818.51 534.98 811.24 535.18 803.9 535.37 796.53 535.57 789.17 535.77 781.83 535.97 774.57 536.17 767.39 536.37 760.35 536.57 753.46 536.77 746.76 536.96 740.27 537.16 734.02 537.36 728.04 537.56 722.36 537.76 717 537.96 711.98 538.16 707.32 538.35 703.05 538.55 699.18 538.75 695.72 538.95 692.7 539.15 690.13 539.35 688.01 539.55 686.36 539.74 685.19 539.94 684.49 540.14 684.27 540.34 684.54 540.54 685.28 540.74 686.51 540.94 688.21 541.14 690.37 541.33 692.99 541.53 696.05 541.73 699.55 541.93 703.46 542.13 707.77 542.33 712.47 542.53 717.52 542.72 722.92 542.92 728.63 543.12 734.63 543.32 740.91 543.52 747.42 543.72 754.14 543.92 761.05 544.11 768.11 544.31 775.29 544.51 782.56 544.71 789.9 544.91 797.27 545.11 804.63 545.31 811.97 545.51 819.23 545.7 826.41 545.9 833.45 546.1 840.34 546.3 847.04 546.5 853.53 546.7 859.78 546.9 865.76 547.09 871.44 547.29 876.8 547.49 881.82 547.69 886.48 547.89 890.75 548.09 894.62 548.29 898.08 548.48 901.1 548.68 903.67 548.88 905.79 549.08 907.44 549.28 908.61 549.48 909.31 549.68 909.53 549.88 909.26 550.07 908.52 550.27 907.29 550.47 905.59 550.67 903.43 550.87 900.81 551.07 897.75 551.27 894.25 551.46 890.34 551.66 886.03 551.86 881.33 552.06 876.28 552.26 870.88 552.46 865.17 552.66 859.17 552.86 852.89 553.05 846.38 553.25 839.66 553.45 832.75 553.65 825.69 553.85 818.51 554.05 811.24 554.25 803.9 554.44 796.53 554.64 789.17 554.84 781.83 555.04 774.57 555.24 767.39 555.44 760.35 555.64 753.46 555.83 746.76 556.03 740.27 556.23 734.02 556.43 728.04 556.63 722.36 556.83 717 557.03 711.98 557.23 707.32 557.42 703.05 557.62 699.18 557.82 695.72 558.02 692.7 558.22 690.13 558.42 688.01 558.62 686.36 558.81 685.19 559.01 684.49 559.21 684.27 559.41 684.54 559.61 685.28 559.81 686.51 560.01 688.21 560.2 690.37 560.4 692.99 560.6 696.05 560.8 699.55 561 703.46 561.2 707.77 561.4 712.47 561.6 717.52 561.79 722.92 561.99 728.63 562.19 734.63 562.39 740.91 562.59 747.42 562.79 754.14 562.99 761.05 563.18 768.11 563.38 775.29 563.58 782.56 563.78 789.9 563.98 797.27 564.18 804.63 564.38 811.97 564.57 819.23 564.77 826.41 564.97 833.45 565.17 840.34 565.37 847.04 565.57 853.53 565.77 859.78 565.97 865.76 566.16 871.44 566.36 876.8 566.56 881.82 566.76 886.48 566.96 890.75 567.16 894.62 567.36 898.08 567.55 901.1 567.75 903.67 567.95 905.79 568.15 907.44 568.35 908.61 568.55 909.31 568.75 909.53 568.94 909.26 569.14 908.52 569.34 907.29 569.54 905.59 569.74 903.43 569.94 900.81 570.14 897.75 570.34 894.25 570.53 890.34 570.73 886.03 570.93 881.33 571.13 876.28 571.33 870.88 571.53 865.17 571.73 859.17 571.92 852.89 572.12 846.38 572.32 839.66 572.52 832.75 572.72 825.69 572.92 818.51 573.12 811.24 573.31 803.9 573.51 796.53 573.71 789.17 573.91 781.83 574.11 774.57 574.31 767.39 574.51 760.35 574.71 753.46 574.9 746.76 575.1 740.27 575.3 734.02 575.5 728.04 575.7 722.36 575.9 717 576.1 711.98 576.29 707.32 576.49 703.05 576.69 699.18 576.89 695.72 577.09 692.7 577.29 690.13 577.49 688.01 577.69 686.36 577.88 685.19 578.08 684.49 578.28 684.27 578.48 684.54 578.68 685.28 578.88 686.51 579.08 688.21 579.27 690.37 579.47 692.99 579.67 696.05 579.87 699.55 580.07 703.46 580.27 707.77 580.47 712.47 580.66 717.52 580.86 722.92 581.06 728.63 581.26 734.63 581.46 740.91 581.66 747.42 581.86 754.14 582.06 761.05 582.25 768.11 582.45 775.29 582.65 782.56 582.85 789.9 583.05 797.27 583.25 804.63 583.45 811.97 583.64 819.23 583.84 826.41 584.04 833.45 584.24 840.34 584.44 847.04 584.64 853.53 584.84 859.78 585.03 865.76 585.23 871.44 585.43 876.8 585.63 881.82 585.83 886.48 586.03 890.75 586.23 894.62 586.43 898.08 586.62 901.1 586.82 903.67 587.02 905.79 587.22 907.44 587.42 908.61 587.62 909.31 587.82 909.53 588.01 909.26 588.21 908.52 588.41 907.29 588.61 905.59 588.81 903.43 589.01 900.81 589.21 897.75 589.4 894.25 589.6 890.34 589.8 886.03 590 881.33 590.2 876.28 590.4 870.88 590.6 865.17 590.8 859.17 590.99 852.89 591.19 846.38 591.39 839.66 591.59 832.75 591.79 825.69 591.99 818.51 592.19 811.24 592.38 803.9 592.58 796.53 592.78 789.17 592.98 781.83 593.18 774.57 593.38 767.39 593.58 760.35 593.77 753.46 593.97 746.76 594.17 740.27 594.37 734.02 594.57 728.04 594.77 722.36 594.97 717 595.17 711.98 595.36 707.32 595.56 703.05 595.76 699.18 595.96 695.72 596.16 692.7 596.36 690.13 596.56 688.01 596.75 686.36 596.95 685.19 597.15 684.49 597.35 684.27 597.55 684.54 597.75 685.28 597.95 686.51 598.14 688.21 598.34 690.37 598.54 692.99 598.74 696.05 598.94 699.55 599.14 703.46 599.34 707.77 599.54 712.47 599.73 717.52 599.93 722.92 600.13 728.63 600.33 734.63 600.53 740.91 600.73 747.42 600.93 754.14 601.12 761.05 601.32 768.11 601.52 775.29 601.72 782.56 601.92 789.9 602.12 797.27 602.32 804.63 602.52 811.97 602.71 819.23 602.91 826.41 603.11 833.45 603.31 840.34 603.51 847.04 603.71 853.53 603.91 859.78 604.1 865.76 604.3 871.44 604.5 876.8 604.7 881.82 604.9 886.48 605.1 890.75 605.3 894.62 605.49 898.08 605.69 901.1 605.89 903.67 606.09 905.79 606.29 907.44 606.49 908.61 606.69 909.31 606.89 909.53 607.08 909.26 607.28 908.52 607.48 907.29 607.68 905.59 607.88 903.43 608.08 900.81 608.28 897.75 608.47 894.25 608.67 890.34 608.87 886.03 609.07 881.33 609.27 876.28 609.47 870.88 609.67 865.17 609.86 859.17 610.06 852.89 610.26 846.38 610.46 839.66 610.66 832.75 610.86 825.69 611.06 818.51 611.26 811.24 611.45 803.9 611.65 796.53 611.85 789.17 612.05 781.83 612.25 774.57 612.45 767.39 612.65 760.35 612.84 753.46 613.04 746.76 613.24 740.27 613.44 734.02 613.64 728.04 613.84 722.36 614.04 717 614.23 711.98 614.43 707.32 614.63 703.05 614.83 699.18 615.03 695.72 615.23 692.7 615.43 690.13 615.63 688.01 615.82 686.36 616.02 685.19 616.22 684.49 616.42 684.27 616.62 684.54 616.82 685.28 617.02 686.51 617.21 688.21 617.41 690.37 617.61 692.99 617.81 696.05 618.01 699.55 618.21 703.46 618.41 707.77 618.6 712.47 618.8 717.52 619 722.92 619.2 728.63 619.4 734.63 619.6 740.91 619.8 747.42 620 754.14 620.19 761.05 620.39 768.11 620.59 775.29 620.79 782.56 620.99 789.9 621.19 797.27 621.39 804.63 621.58 811.97 621.78 819.23 621.98 826.41 622.18 833.45 622.38 840.34 622.58 847.04 622.78 853.53 622.97 859.78 623.17 865.76 623.37 871.44 623.57 876.8 623.77 881.82 623.97 886.48 624.17 890.75 624.37 894.62 624.56 898.08 624.76 901.1 624.96 903.67 625.16 905.79 625.36 907.44 625.56 908.61 625.76 909.31 625.95 909.53 626.15 909.26 626.35 908.52 626.55 907.29 626.75 905.59 626.95 903.43 627.15 900.81 627.35 897.75 627.54 894.25 627.74 890.34 627.94 886.03 628.14 881.33 628.34 876.28 628.54 870.88 628.74 865.17 628.93 859.17 629.13 852.89 629.33 846.38 629.53 839.66 629.73 832.75 629.93 825.69 630.13 818.51 630.32 811.24" fill="none" stroke="#ff7f0e" stroke-width="2.3" stroke-linejoin="round" /><path d="M78.9 900.81 79.1 897.75 79.3 894.25 79.5 890.34 79.69 886.03 79.89 881.33 80.09 876.28 80.29 870.88 80.49 865.17 80.69 859.17 80.89 852.89 81.09 846.38 81.28 839.66 81.48 832.75 81.68 825.69 81.88 818.51 82.08 811.24 82.28 803.9 82.48 796.53 82.67 789.17 82.87 781.83 83.07 774.57 83.27 767.39 83.47 760.35 83.67 753.46 83.87 746.76 84.06 740.27 84.26 734.02 84.46 728.04 84.66 722.36 84.86 717 85.06 711.98 85.26 707.32 85.46 703.05 85.65 699.18 85.85 695.72 86.05 692.7 86.25 690.13 86.45 688.01 86.65 686.36 86.85 685.19 87.04 684.49 87.24 684.27 87.44 684.54 87.64 685.28 87.84 686.51 88.04 688.21 88.24 690.37 88.43 692.99 88.63 696.05 88.83 699.55 89.03 703.46 89.23 707.77 89.43 712.47 89.63 717.52 89.83 722.92 90.02 728.63 90.22 734.63 90.42 740.91 90.62 747.42 90.82 754.14 91.02 761.05 91.22 768.11 91.41 775.29 91.61 782.56 91.81 789.9 92.01 797.27 92.21 804.63 92.41 811.97 92.61 819.23 92.8 826.41 93 833.45 93.2 840.34 93.4 847.04 93.6 853.53 93.8 859.78 94 865.76 94.2 871.44 94.39 876.8 94.59 881.82 94.79 886.48 94.99 890.75 95.19 894.62 95.39 898.08 95.59 901.1 95.78 903.67 95.98 905.79 96.18 907.44 96.38 908.61 96.58 909.31 96.78 909.53 96.98 909.26 97.17 908.52 97.37 907.29 97.57 905.59 97.77 903.43 97.97 900.81 98.17 897.75 98.37 894.25 98.57 890.34 98.76 886.03 98.96 881.33 99.16 876.28 99.36 870.88 99.56 865.17 99.76 859.17 99.96 852.89 100.15 846.38 100.35 839.66 100.55 832.75 100.75 825.69 100.95 818.51 101.15 811.24 101.35 803.9 101.54 796.53 101.74 789.17 101.94 781.83 102.14 774.57 102.34 767.39 102.54 760.35 102.74 753.46 102.94 746.76 103.13 740.27 103.33 734.02 103.53 728.04 103.73 722.36 103.93 717 104.13 711.98 104.33 707.32 104.52 703.05 104.72 699.18 104.92 695.72 105.12 692.7 105.32 690.13 105.52 688.01 105.72 686.36 105.92 685.19 106.11 684.49 106.31 684.27 106.51 684.54 106.71 685.28 106.91 686.51 107.11 688.21 107.31 690.37 107.5 692.99 107.7 696.05 107.9 699.55 108.1 703.46 108.3 707.77 108.5 712.47 108.7 717.52 108.89 722.92 109.09 728.63 109.29 734.63 109.49 740.91 109.69 747.42 109.89 754.14 110.09 761.05 110.29 768.11 110.48 775.29 110.68 782.56 110.88 789.9 111.08 797.27 111.28 804.63 111.48 811.97 111.68 819.23 111.87 826.41 112.07 833.45 112.27 840.34 112.47 847.04 112.67 853.53 112.87 859.78 113.07 865.76 113.26 871.44 113.46 876.8 113.66 881.82 113.86 886.48 114.06 890.75 114.26 894.62 114.46 898.08 114.66 901.1 114.85 903.67 115.05 905.79 115.25 907.44 115.45 908.61 115.65 909.31 115.85 909.53 116.05 909.26 116.24 908.52 116.44 907.29 116.64 905.59 116.84 903.43 117.04 900.81 117.24 897.75 117.44 894.25 117.63 890.34 117.83 886.03 118.03 881.33 118.23 876.28 118.43 870.88 118.63 865.17 118.83 859.17 119.03 852.89 119.22 846.38 119.42 839.66 119.62 832.75 119.82 825.69 120.02 818.51 120.22 811.24 120.42 803.9 120.61 796.53 120.81 789.17 121.01 781.83 121.21 774.57 121.41 767.39 121.61 760.35 121.81 753.46 122 746.76 122.2 740.27 122.4 734.02 122.6 728.04 122.8 722.36 123 717 123.2 711.98 123.4 707.32 123.59 703.05 123.79 699.18 123.99 695.72 124.19 692.7 124.39 690.13 124.59 688.01 124.79 686.36 124.98 685.19 125.18 684.49 125.38 684.27 125.58 684.54 125.78 685.28 125.98 686.51 126.18 688.21 126.37 690.37 126.57 692.99 126.77 696.05 126.97 699.55 127.17 703.46 127.37 707.77 127.57 712.47 127.77 717.52 127.96 722.92 128.16 728.63 128.36 734.63 128.56 740.91 128.76 747.42 128.96 754.14 129.16 761.05 129.35 768.11 129.55 775.29 129.75 782.56 129.95 789.9 130.15 797.27 130.35 804.63 130.55 811.97 130.75 819.23 130.94 826.41 131.14 833.45 131.34 840.34 131.54 847.04 131.74 853.53 131.94 859.78 132.14 865.76 132.33 871.44 132.53 876.8 132.73 881.82 132.93 886.48 133.13 890.75 133.33 894.62 133.53 898.08 133.72 901.1 133.92 903.67 134.12 905.79 134.32 907.44 134.52 908.61 134.72 909.31 134.92 909.53 135.12 909.26 135.31 908.52 135.51 907.29 135.71 905.59 135.91 903.43 136.11 900.81 136.31 897.75 136.51 894.25 136.7 890.34 136.9 886.03 137.1 881.33 137.3 876.28 137.5 870.88 137.7 865.17 137.9 859.17 138.09 852.89 138.29 846.38 138.49 839.66 138.69 832.75 138.89 825.69 139.09 818.51 139.29 811.24 139.49 803.9 139.68 796.53 139.88 789.17 140.08 781.83 140.28 774.57 140.48 767.39 140.68 760.35 140.88 753.46 141.07 746.76 141.27 740.27 141.47 734.02 141.67 728.04 141.87 722.36 142.07 717 142.27 711.98 142.46 707.32 142.66 703.05 142.86 699.18 143.06 695.72 143.26 692.7 143.46 690.13 143.66 688.01 143.86 686.36 144.05 685.19 144.25 684.49 144.45 684.27 144.65 684.54 144.85 685.28 145.05 686.51 145.25 688.21 145.44 690.37 145.64 692.99 145.84 696.05 146.04 699.55 146.24 703.46 146.44 707.77 146.64 712.47 146.83 717.52 147.03 722.92 147.23 728.63 147.43 734.63 147.63 740.91 147.83 747.42 148.03 754.14 148.23 761.05 148.42 768.11 148.62 775.29 148.82 782.56 149.02 789.9 149.22 797.27 149.42 804.63 149.62 811.97 149.81 819.23 150.01 826.41 150.21 833.45 150.41 840.34 150.61 847.04 150.81 853.53 151.01 859.78 151.2 865.76 151.4 871.44 151.6 876.8 151.8 881.82 152 886.48 152.2 890.75 152.4 894.62 152.6 898.08 152.79 901.1 152.99 903.67 153.19 905.79 153.39 907.44 153.59 908.61 153.79 909.31 153.99 909.53 154.18 909.26 154.38 908.52 154.58 907.29 154.78 905.59 154.98 903.43 155.18 900.81 155.38 897.75 155.58 894.25 155.77 890.34 155.97 886.03 156.17 881.33 156.37 876.28 156.57 870.88 156.77 865.17 156.97 859.17 157.16 852.89 157.36 846.38 157.56 839.66 157.76 832.75 157.96 825.69 158.16 818.51 158.36 811.24 158.55 803.9 158.75 796.53 158.95 789.17 159.15 781.83 159.35 774.57 159.55 767.39 159.75 760.35 159.95 753.46 160.14 746.76 160.34 740.27 160.54 734.02 160.74 728.04 160.94 722.36 161.14 717 161.34 711.98 161.53 707.32 161.73 703.05 161.93 699.18 162.13 695.72 162.33 692.7 162.53 690.13 162.73 688.01 162.92 686.36 163.12 685.19 163.32 684.49 163.52 684.27 163.72 684.54 163.92 685.28 164.12 686.51 164.32 688.21 164.51 690.37 164.71 692.99 164.91 696.05 165.11 699.55 165.31 703.46 165.51 707.77 165.71 712.47 165.9 717.52 166.1 722.92 166.3 728.63 166.5 734.63 166.7 740.91 166.9 747.42 167.1 754.14 167.29 761.05 167.49 768.11 167.69 775.29 167.89 782.56 168.09 789.9 168.29 797.27 168.49 804.63 168.69 811.97 168.88 819.23 169.08 826.41 169.28 833.45 169.48 840.34 169.68 847.04 169.88 853.53 170.08 859.78 170.27 865.76 170.47 871.44 170.67 876.8 170.87 881.82 171.07 886.48 171.27 890.75 171.47 894.62 171.66 898.08 171.86 901.1 172.06 903.67 172.26 905.79 172.46 907.44 172.66 908.61 172.86 909.31 173.06 909.53 173.25 909.26 173.45 908.52 173.65 907.29 173.85 905.59 174.05 903.43 174.25 900.81 174.45 897.75 174.64 894.25 174.84 890.34 175.04 886.03 175.24 881.33 175.44 876.28 175.64 870.88 175.84 865.17 176.03 859.17 176.23 852.89 176.43 846.38 176.63 839.66 176.83 832.75 177.03 825.69 177.23 818.51 177.43 811.24 177.62 803.9 177.82 796.53 178.02 789.17 178.22 781.83 178.42 774.57 178.62 767.39 178.82 760.35 179.01 753.46 179.21 746.76 179.41 740.27 179.61 734.02 179.81 728.04 180.01 722.36 180.21 717 180.41 711.98 180.6 707.32 180.8 703.05 181 699.18 181.2 695.72 181.4 692.7 181.6 690.13 181.8 688.01 181.99 686.36 182.19 685.19 182.39 684.49 182.59 684.27 182.79 684.54 182.99 685.28 183.19 686.51 183.38 688.21 183.58 690.37 183.78 692.99 183.98 696.05 184.18 699.55 184.38 703.46 184.58 707.77 184.78 712.47 184.97 717.52 185.17 722.92 185.37 728.63 185.57 734.63 185.77 740.91 185.97 747.42 186.17 754.14 186.36 761.05 186.56 768.11 186.76 775.29 186.96 782.56 187.16 789.9 187.36 797.27 187.56 804.63 187.75 811.97 187.95 819.23 188.15 826.41 188.35 833.45 188.55 840.34 188.75 847.04 188.95 853.53 189.15 859.78 189.34 865.76 189.54 871.44 189.74 876.8 189.94 881.82 190.14 886.48 190.34 890.75 190.54 894.62 190.73 898.08 190.93 901.1 191.13 903.67 191.33 905.79 191.53 907.44 191.73 908.61 191.93 909.31 192.12 909.53 192.32 909.26 192.52 908.52 192.72 907.29 192.92 905.59 193.12 903.43 193.32 900.81 193.52 897.75 193.71 894.25 193.91 890.34 194.11 886.03 194.31 881.33 194.51 876.28 194.71 870.88 194.91 865.17 195.1 859.17 195.3 852.89 195.5 846.38 195.7 839.66 195.9 832.75 196.1 825.69 196.3 818.51 196.49 811.24 196.69 803.9 196.89 796.53 197.09 789.17 197.29 781.83 197.49 774.57 197.69 767.39 197.89 760.35 198.08 753.46 198.28 746.76 198.48 740.27 198.68 734.02 198.88 728.04 199.08 722.36 199.28 717 199.47 711.98 199.67 707.32 199.87 703.05 200.07 699.18 200.27 695.72 200.47 692.7 200.67 690.13 200.86 688.01 201.06 686.36 201.26 685.19 201.46 684.49 201.66 684.27 201.86 684.54 202.06 685.28 202.26 686.51 202.45 688.21 202.65 690.37 202.85 692.99 203.05 696.05 203.25 699.55 203.45 703.46 203.65 707.77 203.84 712.47 204.04 717.52 204.24 722.92 204.44 728.63 204.64 734.63 204.84 740.91 205.04 747.42 205.24 754.14 205.43 761.05 205.63 768.11 205.83 775.29 206.03 782.56 206.23 789.9 206.43 797.27 206.63 804.63 206.82 811.97 207.02 819.23 207.22 826.41 207.42 833.45 207.62 840.34 207.82 847.04 208.02 853.53 208.21 859.78 208.41 865.76 208.61 871.44 208.81 876.8 209.01 881.82 209.21 886.48 209.41 890.75 209.61 894.62 209.8 898.08 210 901.1 210.2 903.67 210.4 905.79 210.6 907.44 210.8 908.61 211 909.31 211.19 909.53 211.39 909.26 211.59 908.52 211.79 907.29 211.99 905.59 212.19 903.43 212.39 900.81 212.58 897.75 212.78 894.25 212.98 890.34 213.18 886.03 213.38 881.33 213.58 876.28 213.78 870.88 213.98 865.17 214.17 859.17 214.37 852.89 214.57 846.38 214.77 839.66 214.97 832.75 215.17 825.69 215.37 818.51 215.56 811.24 215.76 803.9 215.96 796.53 216.16 789.17 216.36 781.83 216.56 774.57 216.76 767.39 216.95 760.35 217.15 753.46 217.35 746.76 217.55 740.27 217.75 734.02 217.95 728.04 218.15 722.36 218.35 717 218.54 711.98 218.74 707.32 218.94 703.05 219.14 699.18 219.34 695.72 219.54 692.7 219.74 690.13 219.93 688.01 220.13 686.36 220.33 685.19 220.53 684.49 220.73 684.27 220.93 684.54 221.13 685.28 221.32 686.51 221.52 688.21 221.72 690.37 221.92 692.99 222.12 696.05 222.32 699.55 222.52 703.46 222.72 707.77 222.91 712.47 223.11 717.52 223.31 722.92 223.51 728.63 223.71 734.63 223.91 740.91 224.11 747.42 224.3 754.14 224.5 761.05 224.7 768.11 224.9 775.29 225.1 782.56 225.3 789.9 225.5 797.27 225.69 804.63 225.89 811.97 226.09 819.23 226.29 826.41 226.49 833.45 226.69 840.34 226.89 847.04 227.09 853.53 227.28 859.78 227.48 865.76 227.68 871.44 227.88 876.8 228.08 881.82 228.28 886.48 228.48 890.75 228.67 894.62 228.87 898.08 229.07 901.1 229.27 903.67 229.47 905.79 229.67 907.44 229.87 908.61 230.07 909.31 230.26 909.53 230.46 909.26 230.66 908.52 230.86 907.29 231.06 905.59 231.26 903.43 231.46 900.81 231.65 897.75 231.85 894.25 232.05 890.34 232.25 886.03 232.45 881.33 232.65 876.28 232.85 870.88 233.04 865.17 233.24 859.17 233.44 852.89 233.64 846.38 233.84 839.66 234.04 832.75 234.24 825.69 234.44 818.51 234.63 811.24 234.83 803.9 235.03 796.53 235.23 789.17 235.43 781.83 235.63 774.57 235.83 767.39 236.02 760.35 236.22 753.46 236.42 746.76 236.62 740.27 236.82 734.02 237.02 728.04 237.22 722.36 237.41 717 237.61 711.98 237.81 707.32 238.01 703.05 238.21 699.18 238.41 695.72 238.61 692.7 238.81 690.13 239 688.01 239.2 686.36 239.4 685.19 239.6 684.49 239.8 684.27 240 684.54 240.2 685.28 240.39 686.51 240.59 688.21 240.79 690.37 240.99 692.99 241.19 696.05 241.39 699.55 241.59 703.46 241.78 707.77 241.98 712.47 242.18 717.52 242.38 722.92 242.58 728.63 242.78 734.63 242.98 740.91 243.18 747.42 243.37 754.14 243.57 761.05 243.77 768.11 243.97 775.29 244.17 782.56 244.37 789.9 244.57 797.27 244.76 804.63 244.96 811.97 245.16 819.23 245.36 826.41 245.56 833.45 245.76 840.34 245.96 847.04 246.15 853.53 246.35 859.78 246.55 865.76 246.75 871.44 246.95 876.8 247.15 881.82 247.35 886.48 247.55 890.75 247.74 894.62 247.94 898.08 248.14 901.1 248.34 903.67 248.54 905.79 248.74 907.44 248.94 908.61 249.13 909.31 249.33 909.53 249.53 909.26 249.73 908.52 249.93 907.29 250.13 905.59 250.33 903.43 250.52 900.81 250.72 897.75 250.92 894.25 251.12 890.34 251.32 886.03 251.52 881.33 251.72 876.28 251.92 870.88 252.11 865.17 252.31 859.17 252.51 852.89 252.71 846.38 252.91 839.66 253.11 832.75 253.31 825.69 253.5 818.51 253.7 811.24 253.9 803.9 254.1 796.53 254.3 789.17 254.5 781.83 254.7 774.57 254.9 767.39 255.09 760.35 255.29 753.46 255.49 746.76 255.69 740.27 255.89 734.02 256.09 728.04 256.29 722.36 256.48 717 256.68 711.98 256.88 707.32 257.08 703.05 257.28 699.18 257.48 695.72 257.68 692.7 257.87 690.13 258.07 688.01 258.27 686.36 258.47 685.19 258.67 684.49 258.87 684.27 259.07 684.54 259.27 685.28 259.46 686.51 259.66 688.21 259.86 690.37 260.06 692.99 260.26 696.05 260.46 699.55 260.66 703.46 260.85 707.77 261.05 712.47 261.25 717.52 261.45 722.92 261.65 728.63 261.85 734.63 262.05 740.91 262.24 747.42 262.44 754.14 262.64 761.05 262.84 768.11 263.04 775.29 263.24 782.56 263.44 789.9 263.64 797.27 263.83 804.63 264.03 811.97 264.23 819.23 264.43 826.41 264.63 833.45 264.83 840.34 265.03 847.04 265.22 853.53 265.42 859.78 265.62 865.76 265.82 871.44 266.02 876.8 266.22 881.82 266.42 886.48 266.61 890.75 266.81 894.62 267.01 898.08 267.21 901.1 267.41 903.67 267.61 905.79 267.81 907.44 268.01 908.61 268.2 909.31 268.4 909.53 268.6 909.26 268.8 908.52 269 907.29 269.2 905.59 269.4 903.43 269.59 900.81 269.79 897.75 269.99 894.25 270.19 890.34 270.39 886.03 270.59 881.33 270.79 876.28 270.98 870.88 271.18 865.17 271.38 859.17 271.58 852.89 271.78 846.38 271.98 839.66 272.18 832.75 272.38 825.69 272.57 818.51 272.77 811.24 272.97 803.9 273.17 796.53 273.37 789.17 273.57 781.83 273.77 774.57 273.96 767.39 274.16 760.35 274.36 753.46 274.56 746.76 274.76 740.27 274.96 734.02 275.16 728.04 275.35 722.36 275.55 717 275.75 711.98 275.95 707.32 276.15 703.05 276.35 699.18 276.55 695.72 276.75 692.7 276.94 690.13 277.14 688.01 277.34 686.36 277.54 685.19 277.74 684.49 277.94 684.27 278.14 684.54 278.33 685.28 278.53 686.51 278.73 688.21 278.93 690.37 279.13 692.99 279.33 696.05 279.53 699.55 279.73 703.46 279.92 707.77 280.12 712.47 280.32 717.52 280.52 722.92 280.72 728.63 280.92 734.63 281.12 740.91 281.31 747.42 281.51 754.14 281.71 761.05 281.91 768.11 282.11 775.29 282.31 782.56 282.51 789.9 282.7 797.27 282.9 804.63 283.1 811.97 283.3 819.23 283.5 826.41 283.7 833.45 283.9 840.34 284.1 847.04 284.29 853.53 284.49 859.78 284.69 865.76 284.89 871.44 285.09 876.8 285.29 881.82 285.49 886.48 285.68 890.75 285.88 894.62 286.08 898.08 286.28 901.1 286.48 903.67 286.68 905.79 286.88 907.44 287.07 908.61 287.27 909.31 287.47 909.53 287.67 909.26 287.87 908.52 288.07 907.29 288.27 905.59 288.47 903.43 288.66 900.81 288.86 897.75 289.06 894.25 289.26 890.34 289.46 886.03 289.66 881.33 289.86 876.28 290.05 870.88 290.25 865.17 290.45 859.17 290.65 852.89 290.85 846.38 291.05 839.66 291.25 832.75 291.44 825.69 291.64 818.51 291.84 811.24 292.04 803.9 292.24 796.53 292.44 789.17 292.64 781.83 292.84 774.57 293.03 767.39 293.23 760.35 293.43 753.46 293.63 746.76 293.83 740.27 294.03 734.02 294.23 728.04 294.42 722.36 294.62 717 294.82 711.98 295.02 707.32 295.22 703.05 295.42 699.18 295.62 695.72 295.81 692.7 296.01 690.13 296.21 688.01 296.41 686.36 296.61 685.19 296.81 684.49 297.01 684.27 297.21 684.54 297.4 685.28 297.6 686.51 297.8 688.21 298 690.37 298.2 692.99 298.4 696.05 298.6 699.55 298.79 703.46 298.99 707.77 299.19 712.47 299.39 717.52 299.59 722.92 299.79 728.63 299.99 734.63 300.18 740.91 300.38 747.42 300.58 754.14 300.78 761.05 300.98 768.11 301.18 775.29 301.38 782.56 301.58 789.9 301.77 797.27 301.97 804.63 302.17 811.97 302.37 819.23 302.57 826.41 302.77 833.45 302.97 840.34 303.16 847.04 303.36 853.53 303.56 859.78 303.76 865.76 303.96 871.44 304.16 876.8 304.36 881.82 304.56 886.48 304.75 890.75 304.95 894.62 305.15 898.08 305.35 901.1 305.55 903.67 305.75 905.79 305.95 907.44 306.14 908.61 306.34 909.31 306.54 909.53 306.74 909.26 306.94 908.52 307.14 907.29 307.34 905.59 307.53 903.43 307.73 900.81 307.93 897.75 308.13 894.25 308.33 890.34 308.53 886.03 308.73 881.33 308.93 876.28 309.12 870.88 309.32 865.17 309.52 859.17 309.72 852.89 309.92 846.38 310.12 839.66 310.32 832.75 310.51 825.69 310.71 818.51 310.91 811.24 311.11 803.9 311.31 796.53 311.51 789.17 311.71 781.83 311.9 774.57 312.1 767.39 312.3 760.35 312.5 753.46 312.7 746.76 312.9 740.27 313.1 734.02 313.3 728.04 313.49 722.36 313.69 717 313.89 711.98 314.09 707.32 314.29 703.05 314.49 699.18 314.69 695.72 314.88 692.7 315.08 690.13 315.28 688.01 315.48 686.36 315.68 685.19 315.88 684.49 316.08 684.27 316.27 684.54 316.47 685.28 316.67 686.51 316.87 688.21 317.07 690.37 317.27 692.99 317.47 696.05 317.67 699.55 317.86 703.46 318.06 707.77 318.26 712.47 318.46 717.52 318.66 722.92 318.86 728.63 319.06 734.63 319.25 740.91 319.45 747.42 319.65 754.14 319.85 761.05 320.05 768.11 320.25 775.29 320.45 782.56 320.64 789.9 320.84 797.27 321.04 804.63 321.24 811.97 321.44 819.23 321.64 826.41 321.84 833.45 322.04 840.34 322.23 847.04 322.43 853.53 322.63 859.78 322.83 865.76 323.03 871.44 323.23 876.8 323.43 881.82 323.62 886.48 323.82 890.75 324.02 894.62 324.22 898.08 324.42 901.1 324.62 903.67 324.82 905.79 325.01 907.44 325.21 908.61 325.41 909.31 325.61 909.53 325.81 909.26 326.01 908.52 326.21 907.29 326.41 905.59 326.6 903.43 326.8 900.81 327 897.75 327.2 894.25 327.4 890.34 327.6 886.03 327.8 881.33 327.99 876.28 328.19 870.88 328.39 865.17 328.59 859.17 328.79 852.89 328.99 846.38 329.19 839.66 329.39 832.75 329.58 825.69 329.78 818.51 329.98 811.24 330.18 803.9 330.38 796.53 330.58 789.17 330.78 781.83 330.97 774.57 331.17 767.39 331.37 760.35 331.57 753.46 331.77 746.76 331.97 740.27 332.17 734.02 332.36 728.04 332.56 722.36 332.76 717 332.96 711.98 333.16 707.32 333.36 703.05 333.56 699.18 333.76 695.72 333.95 692.7 334.15 690.13 334.35 688.01 334.55 686.36 334.75 685.19 334.95 684.49 335.15 684.27 335.34 684.54 335.54 685.28 335.74 686.51 335.94 688.21 336.14 690.37 336.34 692.99 336.54 696.05 336.73 699.55 336.93 703.46 337.13 707.77 337.33 712.47 337.53 717.52 337.73 722.92 337.93 728.63 338.13 734.63 338.32 740.91 338.52 747.42 338.72 754.14 338.92 761.05 339.12 768.11 339.32 775.29 339.52 782.56 339.71 789.9 339.91 797.27 340.11 804.63 340.31 811.97 340.51 819.23 340.71 826.41 340.91 833.45 341.1 840.34 341.3 847.04 341.5 853.53 341.7 859.78 341.9 865.76 342.1 871.44 342.3 876.8 342.5 881.82 342.69 886.48 342.89 890.75 343.09 894.62 343.29 898.08 343.49 901.1 343.69 903.67 343.89 905.79 344.08 907.44 344.28 908.61 344.48 909.31 344.68 909.53 344.88 909.26 345.08 908.52 345.28 907.29 345.47 905.59 345.67 903.43 345.87 900.81 346.07 897.75 346.27 894.25 346.47 890.34 346.67 886.03 346.87 881.33 347.06 876.28 347.26 870.88 347.46 865.17 347.66 859.17 347.86 852.89 348.06 846.38 348.26 839.66 348.45 832.75 348.65 825.69 348.85 818.51 349.05 811.24 349.25 803.9 349.45 796.53 349.65 789.17 349.84 781.83 350.04 774.57 350.24 767.39 350.44 760.35 350.64 753.46 350.84 746.76 351.04 740.27 351.24 734.02 351.43 728.04 351.63 722.36 351.83 717 352.03 711.98 352.23 707.32 352.43 703.05 352.63 699.18 352.82 695.72 353.02 692.7 353.22 690.13 353.42 688.01 353.62 686.36 353.82 685.19 354.02 684.49 354.22 684.27 354.41 684.54 354.61 685.28 354.81 686.51 355.01 688.21 355.21 690.37 355.41 692.99 355.61 696.05 355.8 699.55 356 703.46 356.2 707.77 356.4 712.47 356.6 717.52 356.8 722.92 357 728.63 357.19 734.63 357.39 740.91 357.59 747.42 357.79 754.14 357.99 761.05 358.19 768.11 358.39 775.29 358.59 782.56 358.78 789.9 358.98 797.27 359.18 804.63 359.38 811.97 359.58 819.23 359.78 826.41 359.98 833.45 360.17 840.34 360.37 847.04 360.57 853.53 360.77 859.78 360.97 865.76 361.17 871.44 361.37 876.8 361.56 881.82 361.76 886.48 361.96 890.75 362.16 894.62 362.36 898.08 362.56 901.1 362.76 903.67 362.96 905.79 363.15 907.44 363.35 908.61 363.55 909.31 363.75 909.53 363.95 909.26 364.15 908.52 364.35 907.29 364.54 905.59 364.74 903.43 364.94 900.81 365.14 897.75 365.34 894.25 365.54 890.34 365.74 886.03 365.93 881.33 366.13 876.28 366.33 870.88 366.53 865.17 366.73 859.17 366.93 852.89 367.13 846.38 367.33 839.66 367.52 832.75 367.72 825.69 367.92 818.51 368.12 811.24 368.32 803.9 368.52 796.53 368.72 789.17 368.91 781.83 369.11 774.57 369.31 767.39 369.51 760.35 369.71 753.46 369.91 746.76 370.11 740.27 370.3 734.02 370.5 728.04 370.7 722.36 370.9 717 371.1 711.98 371.3 707.32 371.5 703.05 371.7 699.18 371.89 695.72 372.09 692.7 372.29 690.13 372.49 688.01 372.69 686.36 372.89 685.19 373.09 684.49 373.28 684.27 373.48 684.54 373.68 685.28 373.88 686.51 374.08 688.21 374.28 690.37 374.48 692.99 374.67 696.05 374.87 699.55 375.07 703.46 375.27 707.77 375.47 712.47 375.67 717.52 375.87 722.92 376.07 728.63 376.26 734.63 376.46 740.91 376.66 747.42 376.86 754.14 377.06 761.05 377.26 768.11 377.46 775.29 377.65 782.56 377.85 789.9 378.05 797.27 378.25 804.63 378.45 811.97 378.65 819.23 378.85 826.41 379.05 833.45 379.24 840.34 379.44 847.04 379.64 853.53 379.84 859.78 380.04 865.76 380.24 871.44 380.44 876.8 380.63 881.82 380.83 886.48 381.03 890.75 381.23 894.62 381.43 898.08 381.63 901.1 381.83 903.67 382.02 905.79 382.22 907.44 382.42 908.61 382.62 909.31 382.82 909.53 383.02 909.26 383.22 908.52 383.42 907.29 383.61 905.59 383.81 903.43 384.01 900.81 384.21 897.75 384.41 894.25 384.61 890.34 384.81 886.03 385 881.33 385.2 876.28 385.4 870.88 385.6 865.17 385.8 859.17 386 852.89 386.2 846.38 386.39 839.66 386.59 832.75 386.79 825.69 386.99 818.51 387.19 811.24 387.39 803.9 387.59 796.53 387.79 789.17 387.98 781.83 388.18 774.57 388.38 767.39 388.58 760.35 388.78 753.46 388.98 746.76 389.18 740.27 389.37 734.02 389.57 728.04 389.77 722.36 389.97 717 390.17 711.98 390.37 707.32 390.57 703.05 390.76 699.18 390.96 695.72 391.16 692.7 391.36 690.13 391.56 688.01 391.76 686.36 391.96 685.19 392.16 684.49 392.35 684.27 392.55 684.54 392.75 685.28 392.95 686.51 393.15 688.21 393.35 690.37 393.55 692.99 393.74 696.05 393.94 699.55 394.14 703.46 394.34 707.77 394.54 712.47 394.74 717.52 394.94 722.92 395.13 728.63 395.33 734.63 395.53 740.91 395.73 747.42 395.93 754.14 396.13 761.05 396.33 768.11 396.53 775.29 396.72 782.56 396.92 789.9 397.12 797.27 397.32 804.63 397.52 811.97 397.72 819.23 397.92 826.41 398.11 833.45 398.31 840.34 398.51 847.04 398.71 853.53 398.91 859.78 399.11 865.76 399.31 871.44 399.5 876.8 399.7 881.82 399.9 886.48 400.1 890.75 400.3 894.62 400.5 898.08 400.7 901.1 400.9 903.67 401.09 905.79 401.29 907.44 401.49 908.61 401.69 909.31 401.89 909.53 402.09 909.26 402.29 908.52 402.48 907.29 402.68 905.59 402.88 903.43 403.08 900.81 403.28 897.75 403.48 894.25 403.68 890.34 403.88 886.03 404.07 881.33 404.27 876.28 404.47 870.88 404.67 865.17 404.87 859.17 405.07 852.89 405.27 846.38 405.46 839.66 405.66 832.75 405.86 825.69 406.06 818.51 406.26 811.24 406.46 803.9 406.66 796.53 406.85 789.17 407.05 781.83 407.25 774.57 407.45 767.39 407.65 760.35 407.85 753.46 408.05 746.76 408.25 740.27 408.44 734.02 408.64 728.04 408.84 722.36 409.04 717 409.24 711.98 409.44 707.32 409.64 703.05 409.83 699.18 410.03 695.72 410.23 692.7 410.43 690.13 410.63 688.01 410.83 686.36 411.03 685.19 411.22 684.49 411.42 684.27 411.62 684.54 411.82 685.28 412.02 686.51 412.22 688.21 412.42 690.37 412.62 692.99 412.81 696.05 413.01 699.55 413.21 703.46 413.41 707.77 413.61 712.47 413.81 717.52 414.01 722.92 414.2 728.63 414.4 734.63 414.6 740.91 414.8 747.42 415 754.14 415.2 761.05 415.4 768.11 415.59 775.29 415.79 782.56 415.99 789.9 416.19 797.27 416.39 804.63 416.59 811.97 416.79 819.23 416.99 826.41 417.18 833.45 417.38 840.34 417.58 847.04 417.78 853.53 417.98 859.78 418.18 865.76 418.38 871.44 418.57 876.8 418.77 881.82 418.97 886.48 419.17 890.75 419.37 894.62 419.57 898.08 419.77 901.1 419.96 903.67 420.16 905.79 420.36 907.44 420.56 908.61 420.76 909.31 420.96 909.53 421.16 909.26 421.36 908.52 421.55 907.29 421.75 905.59 421.95 903.43 422.15 900.81 422.35 897.75 422.55 894.25 422.75 890.34 422.94 886.03 423.14 881.33 423.34 876.28 423.54 870.88 423.74 865.17 423.94 859.17 424.14 852.89 424.33 846.38 424.53 839.66 424.73 832.75 424.93 825.69 425.13 818.51 425.33 811.24 425.53 803.9 425.73 796.53 425.92 789.17 426.12 781.83 426.32 774.57 426.52 767.39 426.72 760.35 426.92 753.46 427.12 746.76 427.31 740.27 427.51 734.02 427.71 728.04 427.91 722.36 428.11 717 428.31 711.98 428.51 707.32 428.71 703.05 428.9 699.18 429.1 695.72 429.3 692.7 429.5 690.13 429.7 688.01 429.9 686.36 430.1 685.19 430.29 684.49 430.49 684.27 430.69 684.54 430.89 685.28 431.09 686.51 431.29 688.21 431.49 690.37 431.68 692.99 431.88 696.05 432.08 699.55 432.28 703.46 432.48 707.77 432.68 712.47 432.88 717.52 433.08 722.92 433.27 728.63 433.47 734.63 433.67 740.91 433.87 747.42 434.07 754.14 434.27 761.05 434.47 768.11 434.66 775.29 434.86 782.56 435.06 789.9 435.26 797.27 435.46 804.63 435.66 811.97 435.86 819.23 436.05 826.41 436.25 833.45 436.45 840.34 436.65 847.04 436.85 853.53 437.05 859.78 437.25 865.76 437.45 871.44 437.64 876.8 437.84 881.82 438.04 886.48 438.24 890.75 438.44 894.62 438.64 898.08 438.84 901.1 439.03 903.67 439.23 905.79 439.43 907.44 439.63 908.61 439.83 909.31 440.03 909.53 440.23 909.26 440.42 908.52 440.62 907.29 440.82 905.59 441.02 903.43 441.22 900.81 441.42 897.75 441.62 894.25 441.82 890.34 442.01 886.03 442.21 881.33 442.41 876.28 442.61 870.88 442.81 865.17 443.01 859.17 443.21 852.89 443.4 846.38 443.6 839.66 443.8 832.75 444 825.69 444.2 818.51 444.4 811.24 444.6 803.9 444.79 796.53 444.99 789.17 445.19 781.83 445.39 774.57 445.59 767.39 445.79 760.35 445.99 753.46 446.19 746.76 446.38 740.27 446.58 734.02 446.78 728.04 446.98 722.36 447.18 717 447.38 711.98 447.58 707.32 447.77 703.05 447.97 699.18 448.17 695.72 448.37 692.7 448.57 690.13 448.77 688.01 448.97 686.36 449.16 685.19 449.36 684.49 449.56 684.27 449.76 684.54 449.96 685.28 450.16 686.51 450.36 688.21 450.56 690.37 450.75 692.99 450.95 696.05 451.15 699.55 451.35 703.46 451.55 707.77 451.75 712.47 451.95 717.52 452.14 722.92 452.34 728.63 452.54 734.63 452.74 740.91 452.94 747.42 453.14 754.14 453.34 761.05 453.54 768.11 453.73 775.29 453.93 782.56 454.13 789.9 454.33 797.27 454.53 804.63 454.73 811.97 454.93 819.23 455.12 826.41 455.32 833.45 455.52 840.34 455.72 847.04 455.92 853.53 456.12 859.78 456.32 865.76 456.51 871.44 456.71 876.8 456.91 881.82 457.11 886.48 457.31 890.75 457.51 894.62 457.71 898.08 457.91 901.1 458.1 903.67 458.3 905.79 458.5 907.44 458.7 908.61 458.9 909.31 459.1 909.53 459.3 909.26 459.49 908.52 459.69 907.29 459.89 905.59 460.09 903.43 460.29 900.81 460.49 897.75 460.69 894.25 460.88 890.34 461.08 886.03 461.28 881.33 461.48 876.28 461.68 870.88 461.88 865.17 462.08 859.17 462.28 852.89 462.47 846.38 462.67 839.66 462.87 832.75 463.07 825.69 463.27 818.51 463.47 811.24 463.67 803.9 463.86 796.53 464.06 789.17 464.26 781.83 464.46 774.57 464.66 767.39 464.86 760.35 465.06 753.46 465.25 746.76 465.45 740.27 465.65 734.02 465.85 728.04 466.05 722.36 466.25 717 466.45 711.98 466.65 707.32 466.84 703.05 467.04 699.18 467.24 695.72 467.44 692.7 467.64 690.13 467.84 688.01 468.04 686.36 468.23 685.19 468.43 684.49 468.63 684.27 468.83 684.54 469.03 685.28 469.23 686.51 469.43 688.21 469.62 690.37 469.82 692.99 470.02 696.05 470.22 699.55 470.42 703.46 470.62 707.77 470.82 712.47 471.02 717.52 471.21 722.92 471.41 728.63 471.61 734.63 471.81 740.91 472.01 747.42 472.21 754.14 472.41 761.05 472.6 768.11 472.8 775.29 473 782.56 473.2 789.9 473.4 797.27 473.6 804.63 473.8 811.97 473.99 819.23 474.19 826.41 474.39 833.45 474.59 840.34 474.79 847.04 474.99 853.53 475.19 859.78 475.39 865.76 475.58 871.44 475.78 876.8 475.98 881.82 476.18 886.48 476.38 890.75 476.58 894.62 476.78 898.08 476.97 901.1 477.17 903.67 477.37 905.79 477.57 907.44 477.77 908.61 477.97 909.31 478.17 909.53 478.37 909.26 478.56 908.52 478.76 907.29 478.96 905.59 479.16 903.43 479.36 900.81 479.56 897.75 479.76 894.25 479.95 890.34 480.15 886.03 480.35 881.33 480.55 876.28 480.75 870.88 480.95 865.17 481.15 859.17 481.34 852.89 481.54 846.38 481.74 839.66 481.94 832.75 482.14 825.69 482.34 818.51 482.54 811.24 482.74 803.9 482.93 796.53 483.13 789.17 483.33 781.83 483.53 774.57 483.73 767.39 483.93 760.35 484.13 753.46 484.32 746.76 484.52 740.27 484.72 734.02 484.92 728.04 485.12 722.36 485.32 717 485.52 711.98 485.71 707.32 485.91 703.05 486.11 699.18 486.31 695.72 486.51 692.7 486.71 690.13 486.91 688.01 487.11 686.36 487.3 685.19 487.5 684.49 487.7 684.27 487.9 684.54 488.1 685.28 488.3 686.51 488.5 688.21 488.69 690.37 488.89 692.99 489.09 696.05 489.29 699.55 489.49 703.46 489.69 707.77 489.89 712.47 490.08 717.52 490.28 722.92 490.48 728.63 490.68 734.63 490.88 740.91 491.08 747.42 491.28 754.14 491.48 761.05 491.67 768.11 491.87 775.29 492.07 782.56 492.27 789.9 492.47 797.27 492.67 804.63 492.87 811.97 493.06 819.23 493.26 826.41 493.46 833.45 493.66 840.34 493.86 847.04 494.06 853.53 494.26 859.78 494.45 865.76 494.65 871.44 494.85 876.8 495.05 881.82 495.25 886.48 495.45 890.75 495.65 894.62 495.85 898.08 496.04 901.1 496.24 903.67 496.44 905.79 496.64 907.44 496.84 908.61 497.04 909.31 497.24 909.53 497.43 909.26 497.63 908.52 497.83 907.29 498.03 905.59 498.23 903.43 498.43 900.81 498.63 897.75 498.82 894.25 499.02 890.34 499.22 886.03 499.42 881.33 499.62 876.28 499.82 870.88 500.02 865.17 500.22 859.17 500.41 852.89 500.61 846.38 500.81 839.66 501.01 832.75 501.21 825.69 501.41 818.51 501.61 811.24 501.8 803.9 502 796.53 502.2 789.17 502.4 781.83 502.6 774.57 502.8 767.39 503 760.35 503.2 753.46 503.39 746.76 503.59 740.27 503.79 734.02 503.99 728.04 504.19 722.36 504.39 717 504.59 711.98 504.78 707.32 504.98 703.05 505.18 699.18 505.38 695.72 505.58 692.7 505.78 690.13 505.98 688.01 506.17 686.36 506.37 685.19 506.57 684.49 506.77 684.27 506.97 684.54 507.17 685.28 507.37 686.51 507.57 688.21 507.76 690.37 507.96 692.99 508.16 696.05 508.36 699.55 508.56 703.46 508.76 707.77 508.96 712.47 509.15 717.52 509.35 722.92 509.55 728.63 509.75 734.63 509.95 740.91 510.15 747.42 510.35 754.14 510.54 761.05 510.74 768.11 510.94 775.29 511.14 782.56 511.34 789.9 511.54 797.27 511.74 804.63 511.94 811.97 512.13 819.23 512.33 826.41 512.53 833.45 512.73 840.34 512.93 847.04 513.13 853.53 513.33 859.78 513.52 865.76 513.72 871.44 513.92 876.8 514.12 881.82 514.32 886.48 514.52 890.75 514.72 894.62 514.91 898.08 515.11 901.1 515.31 903.67 515.51 905.79 515.71 907.44 515.91 908.61 516.11 909.31 516.31 909.53 516.5 909.26 516.7 908.52 516.9 907.29 517.1 905.59 517.3 903.43 517.5 900.81 517.7 897.75 517.89 894.25 518.09 890.34 518.29 886.03 518.49 881.33 518.69 876.28 518.89 870.88 519.09 865.17 519.28 859.17 519.48 852.89 519.68 846.38 519.88 839.66 520.08 832.75 520.28 825.69 520.48 818.51 520.68 811.24 520.87 803.9 521.07 796.53 521.27 789.17 521.47 781.83 521.67 774.57 521.87 767.39 522.07 760.35 522.26 753.46 522.46 746.76 522.66 740.27 522.86 734.02 523.06 728.04 523.26 722.36 523.46 717 523.65 711.98 523.85 707.32 524.05 703.05 524.25 699.18 524.45 695.72 524.65 692.7 524.85 690.13 525.05 688.01 525.24 686.36 525.44 685.19 525.64 684.49 525.84 684.27 526.04 684.54 526.24 685.28 526.44 686.51 526.63 688.21 526.83 690.37 527.03 692.99 527.23 696.05 527.43 699.55 527.63 703.46 527.83 707.77 528.03 712.47 528.22 717.52 528.42 722.92 528.62 728.63 528.82 734.63 529.02 740.91 529.22 747.42 529.42 754.14 529.61 761.05 529.81 768.11 530.01 775.29 530.21 782.56 530.41 789.9 530.61 797.27 530.81 804.63 531 811.97 531.2 819.23 531.4 826.41 531.6 833.45 531.8 840.34 532 847.04 532.2 853.53 532.4 859.78 532.59 865.76 532.79 871.44 532.99 876.8 533.19 881.82 533.39 886.48 533.59 890.75 533.79 894.62 533.98 898.08 534.18 901.1 534.38 903.67 534.58 905.79 534.78 907.44 534.98 908.61 535.18 909.31 535.37 909.53 535.57 909.26 535.77 908.52 535.97 907.29 536.17 905.59 536.37 903.43 536.57 900.81 536.77 897.75 536.96 894.25 537.16 890.34 537.36 886.03 537.56 881.33 537.76 876.28 537.96 870.88 538.16 865.17 538.35 859.17 538.55 852.89 538.75 846.38 538.95 839.66 539.15 832.75 539.35 825.69 539.55 818.51 539.74 811.24 539.94 803.9 540.14 796.53 540.34 789.17 540.54 781.83 540.74 774.57 540.94 767.39 541.14 760.35 541.33 753.46 541.53 746.76 541.73 740.27 541.93 734.02 542.13 728.04 542.33 722.36 542.53 717 542.72 711.98 542.92 707.32 543.12 703.05 543.32 699.18 543.52 695.72 543.72 692.7 543.92 690.13 544.11 688.01 544.31 686.36 544.51 685.19 544.71 684.49 544.91 684.27 545.11 684.54 545.31 685.28 545.51 686.51 545.7 688.21 545.9 690.37 546.1 692.99 546.3 696.05 546.5 699.55 546.7 703.46 546.9 707.77 547.09 712.47 547.29 717.52 547.49 722.92 547.69 728.63 547.89 734.63 548.09 740.91 548.29 747.42 548.48 754.14 548.68 761.05 548.88 768.11 549.08 775.29 549.28 782.56 549.48 789.9 549.68 797.27 549.88 804.63 550.07 811.97 550.27 819.23 550.47 826.41 550.67 833.45 550.87 840.34 551.07 847.04 551.27 853.53 551.46 859.78 551.66 865.76 551.86 871.44 552.06 876.8 552.26 881.82 552.46 886.48 552.66 890.75 552.86 894.62 553.05 898.08 553.25 901.1 553.45 903.67 553.65 905.79 553.85 907.44 554.05 908.61 554.25 909.31 554.44 909.53 554.64 909.26 554.84 908.52 555.04 907.29 555.24 905.59 555.44 903.43 555.64 900.81 555.83 897.75 556.03 894.25 556.23 890.34 556.43 886.03 556.63 881.33 556.83 876.28 557.03 870.88 557.23 865.17 557.42 859.17 557.62 852.89 557.82 846.38 558.02 839.66 558.22 832.75 558.42 825.69 558.62 818.51 558.81 811.24 559.01 803.9 559.21 796.53 559.41 789.17 559.61 781.83 559.81 774.57 560.01 767.39 560.2 760.35 560.4 753.46 560.6 746.76 560.8 740.27 561 734.02 561.2 728.04 561.4 722.36 561.6 717 561.79 711.98 561.99 707.32 562.19 703.05 562.39 699.18 562.59 695.72 562.79 692.7 562.99 690.13 563.18 688.01 563.38 686.36 563.58 685.19 563.78 684.49 563.98 684.27 564.18 684.54 564.38 685.28 564.57 686.51 564.77 688.21 564.97 690.37 565.17 692.99 565.37 696.05 565.57 699.55 565.77 703.46 565.97 707.77 566.16 712.47 566.36 717.52 566.56 722.92 566.76 728.63 566.96 734.63 567.16 740.91 567.36 747.42 567.55 754.14 567.75 761.05 567.95 768.11 568.15 775.29 568.35 782.56 568.55 789.9 568.75 797.27 568.94 804.63 569.14 811.97 569.34 819.23 569.54 826.41 569.74 833.45 569.94 840.34 570.14 847.04 570.34 853.53 570.53 859.78 570.73 865.76 570.93 871.44 571.13 876.8 571.33 881.82 571.53 886.48 571.73 890.75 571.92 894.62 572.12 898.08 572.32 901.1 572.52 903.67 572.72 905.79 572.92 907.44 573.12 908.61 573.31 909.31 573.51 909.53 573.71 909.26 573.91 908.52 574.11 907.29 574.31 905.59 574.51 903.43 574.71 900.81 574.9 897.75 575.1 894.25 575.3 890.34 575.5 886.03 575.7 881.33 575.9 876.28 576.1 870.88 576.29 865.17 576.49 859.17 576.69 852.89 576.89 846.38 577.09 839.66 577.29 832.75 577.49 825.69 577.69 818.51 577.88 811.24 578.08 803.9 578.28 796.53 578.48 789.17 578.68 781.83 578.88 774.57 579.08 767.39 579.27 760.35 579.47 753.46 579.67 746.76 579.87 740.27 580.07 734.02 580.27 728.04 580.47 722.36 580.66 717 580.86 711.98 581.06 707.32 581.26 703.05 581.46 699.18 581.66 695.72 581.86 692.7 582.06 690.13 582.25 688.01 582.45 686.36 582.65 685.19 582.85 684.49 583.05 684.27 583.25 684.54 583.45 685.28 583.64 686.51 583.84 688.21 584.04 690.37 584.24 692.99 584.44 696.05 584.64 699.55 584.84 703.46 585.03 707.77 585.23 712.47 585.43 717.52 585.63 722.92 585.83 728.63 586.03 734.63 586.23 740.91 586.43 747.42 586.62 754.14 586.82 761.05 587.02 768.11 587.22 775.29 587.42 782.56 587.62 789.9 587.82 797.27 588.01 804.63 588.21 811.97 588.41 819.23 588.61 826.41 588.81 833.45 589.01 840.34 589.21 847.04 589.4 853.53 589.6 859.78 589.8 865.76 590 871.44 590.2 876.8 590.4 881.82 590.6 886.48 590.8 890.75 590.99 894.62 591.19 898.08 591.39 901.1 591.59 903.67 591.79 905.79 591.99 907.44 592.19 908.61 592.38 909.31 592.58 909.53 592.78 909.26 592.98 908.52 593.18 907.29 593.38 905.59 593.58 903.43 593.77 900.81 593.97 897.75 594.17 894.25 594.37 890.34 594.57 886.03 594.77 881.33 594.97 876.28 595.17 870.88 595.36 865.17 595.56 859.17 595.76 852.89 595.96 846.38 596.16 839.66 596.36 832.75 596.56 825.69 596.75 818.51 596.95 811.24 597.15 803.9 597.35 796.53 597.55 789.17 597.75 781.83 597.95 774.57 598.14 767.39 598.34 760.35 598.54 753.46 598.74 746.76 598.94 740.27 599.14 734.02 599.34 728.04 599.54 722.36 599.73 717 599.93 711.98 600.13 707.32 600.33 703.05 600.53 699.18 600.73 695.72 600.93 692.7 601.12 690.13 601.32 688.01 601.52 686.36 601.72 685.19 601.92 684.49 602.12 684.27 602.32 684.54 602.52 685.28 602.71 686.51 602.91 688.21 603.11 690.37 603.31 692.99 603.51 696.05 603.71 699.55 603.91 703.46 604.1 707.77 604.3 712.47 604.5 717.52 604.7 722.92 604.9 728.63 605.1 734.63 605.3 740.91 605.49 747.42 605.69 754.14 605.89 761.05 606.09 768.11 606.29 775.29 606.49 782.56 606.69 789.9 606.89 797.27 607.08 804.63 607.28 811.97 607.48 819.23 607.68 826.41 607.88 833.45 608.08 840.34 608.28 847.04 608.47 853.53 608.67 859.78 608.87 865.76 609.07 871.44 609.27 876.8 609.47 881.82 609.67 886.48 609.86 890.75 610.06 894.62 610.26 898.08 610.46 901.1 610.66 903.67 610.86 905.79 611.06 907.44 611.26 908.61 611.45 909.31 611.65 909.53 611.85 909.26 612.05 908.52 612.25 907.29 612.45 905.59 612.65 903.43 612.84 900.81 613.04 897.75 613.24 894.25 613.44 890.34 613.64 886.03 613.84 881.33 614.04 876.28 614.23 870.88 614.43 865.17 614.63 859.17 614.83 852.89 615.03 846.38 615.23 839.66 615.43 832.75 615.63 825.69 615.82 818.51 616.02 811.24 616.22 803.9 616.42 796.53 616.62 789.17 616.82 781.83 617.02 774.57 617.21 767.39 617.41 760.35 617.61 753.46 617.81 746.76 618.01 740.27 618.21 734.02 618.41 728.04 618.6 722.36 618.8 717 619 711.98 619.2 707.32 619.4 703.05 619.6 699.18 619.8 695.72 620 692.7 620.19 690.13 620.39 688.01 620.59 686.36 620.79 685.19 620.99 684.49 621.19 684.27 621.39 684.54 621.58 685.28 621.78 686.51 621.98 688.21 622.18 690.37 622.38 692.99 622.58 696.05 622.78 699.55 622.97 703.46 623.17 707.77 623.37 712.47 623.57 717.52 623.77 722.92 623.97 728.63 624.17 734.63 624.37 740.91 624.56 747.42 624.76 754.14 624.96 761.05 625.16 768.11 625.36 775.29 625.56 782.56 625.76 789.9 625.95 797.27 626.15 804.63 626.35 811.97 626.55 819.23 626.75 826.41 626.95 833.45 627.15 840.34 627.35 847.04 627.54 853.53 627.74 859.78 627.94 865.76 628.14 871.44 628.34 876.8 628.54 881.82 628.74 886.48 628.93 890.75 629.13 894.62 629.33 898.08 629.53 901.1 629.73 903.67 629.93 905.79 630.13 907.44 630.32 908.61" fill="none" stroke="#ff7f0e" stroke-width="2.3" stroke-linejoin="round" stroke-dasharray="8.5 3.7"/><path d="M78.9 688.11 79.1 692.85 79.3 699.36 79.5 707.55 79.69 717.26 79.89 728.34 80.09 740.59 80.29 753.8 80.49 767.75 80.69 782.2 80.89 796.9 81.09 811.6 81.28 826.05 81.48 840 81.68 853.21 81.88 865.46 82.08 876.54 82.28 886.25 82.48 894.44 82.67 900.95 82.87 905.69 83.07 908.56 83.27 909.53 83.47 908.56 83.67 905.69 83.87 900.95 84.06 894.44 84.26 886.25 84.46 876.54 84.66 865.46 84.86 853.21 85.06 840 85.26 826.05 85.46 811.6 85.65 796.9 85.85 782.2 86.05 767.75 86.25 753.8 86.45 740.59 86.65 728.34 86.85 717.26 87.04 707.55 87.24 699.36 87.44 692.85 87.64 688.11 87.84 685.24 88.04 684.27 88.24 685.24 88.43 688.11 88.63 692.85 88.83 699.36 89.03 707.55 89.23 717.26 89.43 728.34 89.63 740.59 89.83 753.8 90.02 767.75 90.22 782.2 90.42 796.9 90.62 811.6 90.82 826.05 91.02 840 91.22 853.21 91.41 865.46 91.61 876.54 91.81 886.25 92.01 894.44 92.21 900.95 92.41 905.69 92.61 908.56 92.8 909.53 93 908.56 93.2 905.69 93.4 900.95 93.6 894.44 93.8 886.25 94 876.54 94.2 865.46 94.39 853.21 94.59 840 94.79 826.05 94.99 811.6 95.19 796.9 95.39 782.2 95.59 767.75 95.78 753.8 95.98 740.59 96.18 728.34 96.38 717.26 96.58 707.55 96.78 699.36 96.98 692.85 97.17 688.11 97.37 685.24 97.57 684.27 97.77 685.24 97.97 688.11 98.17 692.85 98.37 699.36 98.57 707.55 98.76 717.26 98.96 728.34 99.16 740.59 99.36 753.8 99.56 767.75 99.76 782.2 99.96 796.9 100.15 811.6 100.35 826.05 100.55 840 100.75 853.21 100.95 865.46 101.15 876.54 101.35 886.25 101.54 894.44 101.74 900.95 101.94 905.69 102.14 908.56 102.34 909.53 102.54 908.56 102.74 905.69 102.94 900.95 103.13 894.44 103.33 886.25 103.53 876.54 103.73 865.46 103.93 853.21 104.13 840 104.33 826.05 104.52 811.6 104.72 796.9 104.92 782.2 105.12 767.75 105.32 753.8 105.52 740.59 105.72 728.34 105.92 717.26 106.11 707.55 106.31 699.36 106.51 692.85 106.71 688.11 106.91 685.24 107.11 684.27 107.31 685.24 107.5 688.11 107.7 692.85 107.9 699.36 108.1 707.55 108.3 717.26 108.5 728.34 108.7 740.59 108.89 753.8 109.09 767.75 109.29 782.2 109.49 796.9 109.69 811.6 109.89 826.05 110.09 840 110.29 853.21 110.48 865.46 110.68 876.54 110.88 886.25 111.08 894.44 111.28 900.95 111.48 905.69 111.68 908.56 111.87 909.53 112.07 908.56 112.27 905.69 112.47 900.95 112.67 894.44 112.87 886.25 113.07 876.54 113.26 865.46 113.46 853.21 113.66 840 113.86 826.05 114.06 811.6 114.26 796.9 114.46 782.2 114.66 767.75 114.85 753.8 115.05 740.59 115.25 728.34 115.45 717.26 115.65 707.55 115.85 699.36 116.05 692.85 116.24 688.11 116.44 685.24 116.64 684.27 116.84 685.24 117.04 688.11 117.24 692.85 117.44 699.36 117.63 707.55 117.83 717.26 118.03 728.34 118.23 740.59 118.43 753.8 118.63 767.75 118.83 782.2 119.03 796.9 119.22 811.6 119.42 826.05 119.62 840 119.82 853.21 120.02 865.46 120.22 876.54 120.42 886.25 120.61 894.44 120.81 900.95 121.01 905.69 121.21 908.56 121.41 909.53 121.61 908.56 121.81 905.69 122 900.95 122.2 894.44 122.4 886.25 122.6 876.54 122.8 865.46 123 853.21 123.2 840 123.4 826.05 123.59 811.6 123.79 796.9 123.99 782.2 124.19 767.75 124.39 753.8 124.59 740.59 124.79 728.34 124.98 717.26 125.18 707.55 125.38 699.36 125.58 692.85 125.78 688.11 125.98 685.24 126.18 684.27 126.37 685.24 126.57 688.11 126.77 692.85 126.97 699.36 127.17 707.55 127.37 717.26 127.57 728.34 127.77 740.59 127.96 753.8 128.16 767.75 128.36 782.2 128.56 796.9 128.76 811.6 128.96 826.05 129.16 840 129.35 853.21 129.55 865.46 129.75 876.54 129.95 886.25 130.15 894.44 130.35 900.95 130.55 905.69 130.75 908.56 130.94 909.53 131.14 908.56 131.34 905.69 131.54 900.95 131.74 894.44 131.94 886.25 132.14 876.54 132.33 865.46 132.53 853.21 132.73 840 132.93 826.05 133.13 811.6 133.33 796.9 133.53 782.2 133.72 767.75 133.92 753.8 134.12 740.59 134.32 728.34 134.52 717.26 134.72 707.55 134.92 699.36 135.12 692.85 135.31 688.11 135.51 685.24 135.71 684.27 135.91 685.24 136.11 688.11 136.31 692.85 136.51 699.36 136.7 707.55 136.9 717.26 137.1 728.34 137.3 740.59 137.5 753.8 137.7 767.75 137.9 782.2 138.09 796.9 138.29 811.6 138.49 826.05 138.69 840 138.89 853.21 139.09 865.46 139.29 876.54 139.49 886.25 139.68 894.44 139.88 900.95 140.08 905.69 140.28 908.56 140.48 909.53 140.68 908.56 140.88 905.69 141.07 900.95 141.27 894.44 141.47 886.25 141.67 876.54 141.87 865.46 142.07 853.21 142.27 840 142.46 826.05 142.66 811.6 142.86 796.9 143.06 782.2 143.26 767.75 143.46 753.8 143.66 740.59 143.86 728.34 144.05 717.26 144.25 707.55 144.45 699.36 144.65 692.85 144.85 688.11 145.05 685.24 145.25 684.27 145.44 685.24 145.64 688.11 145.84 692.85 146.04 699.36 146.24 707.55 146.44 717.26 146.64 728.34 146.83 740.59 147.03 753.8 147.23 767.75 147.43 782.2 147.63 796.9 147.83 811.6 148.03 826.05 148.23 840 148.42 853.21 148.62 865.46 148.82 876.54 149.02 886.25 149.22 894.44 149.42 900.95 149.62 905.69 149.81 908.56 150.01 909.53 150.21 908.56 150.41 905.69 150.61 900.95 150.81 894.44 151.01 886.25 151.2 876.54 151.4 865.46 151.6 853.21 151.8 840 152 826.05 152.2 811.6 152.4 796.9 152.6 782.2 152.79 767.75 152.99 753.8 153.19 740.59 153.39 728.34 153.59 717.26 153.79 707.55 153.99 699.36 154.18 692.85 154.38 688.11 154.58 685.24 154.78 684.27 154.98 685.24 155.18 688.11 155.38 692.85 155.58 699.36 155.77 707.55 155.97 717.26 156.17 728.34 156.37 740.59 156.57 753.8 156.77 767.75 156.97 782.2 157.16 796.9 157.36 811.6 157.56 826.05 157.76 840 157.96 853.21 158.16 865.46 158.36 876.54 158.55 886.25 158.75 894.44 158.95 900.95 159.15 905.69 159.35 908.56 159.55 909.53 159.75 908.56 159.95 905.69 160.14 900.95 160.34 894.44 160.54 886.25 160.74 876.54 160.94 865.46 161.14 853.21 161.34 840 161.53 826.05 161.73 811.6 161.93 796.9 162.13 782.2 162.33 767.75 162.53 753.8 162.73 740.59 162.92 728.34 163.12 717.26 163.32 707.55 163.52 699.36 163.72 692.85 163.92 688.11 164.12 685.24 164.32 684.27 164.51 685.24 164.71 688.11 164.91 692.85 165.11 699.36 165.31 707.55 165.51 717.26 165.71 728.34 165.9 740.59 166.1 753.8 166.3 767.75 166.5 782.2 166.7 796.9 166.9 811.6 167.1 826.05 167.29 840 167.49 853.21 167.69 865.46 167.89 876.54 168.09 886.25 168.29 894.44 168.49 900.95 168.69 905.69 168.88 908.56 169.08 909.53 169.28 908.56 169.48 905.69 169.68 900.95 169.88 894.44 170.08 886.25 170.27 876.54 170.47 865.46 170.67 853.21 170.87 840 171.07 826.05 171.27 811.6 171.47 796.9 171.66 782.2 171.86 767.75 172.06 753.8 172.26 740.59 172.46 728.34 172.66 717.26 172.86 707.55 173.06 699.36 173.25 692.85 173.45 688.11 173.65 685.24 173.85 684.27 174.05 685.24 174.25 688.11 174.45 692.85 174.64 699.36 174.84 707.55 175.04 717.26 175.24 728.34 175.44 740.59 175.64 753.8 175.84 767.75 176.03 782.2 176.23 796.9 176.43 811.6 176.63 826.05 176.83 840 177.03 853.21 177.23 865.46 177.43 876.54 177.62 886.25 177.82 894.44 178.02 900.95 178.22 905.69 178.42 908.56 178.62 909.53 178.82 908.56 179.01 905.69 179.21 900.95 179.41 894.44 179.61 886.25 179.81 876.54 180.01 865.46 180.21 853.21 180.41 840 180.6 826.05 180.8 811.6 181 796.9 181.2 782.2 181.4 767.75 181.6 753.8 181.8 740.59 181.99 728.34 182.19 717.26 182.39 707.55 182.59 699.36 182.79 692.85 182.99 688.11 183.19 685.24 183.38 684.27 183.58 685.24 183.78 688.11 183.98 692.85 184.18 699.36 184.38 707.55 184.58 717.26 184.78 728.34 184.97 740.59 185.17 753.8 185.37 767.75 185.57 782.2 185.77 796.9 185.97 811.6 186.17 826.05 186.36 840 186.56 853.21 186.76 865.46 186.96 876.54 187.16 886.25 187.36 894.44 187.56 900.95 187.75 905.69 187.95 908.56 188.15 909.53 188.35 908.56 188.55 905.69 188.75 900.95 188.95 894.44 189.15 886.25 189.34 876.54 189.54 865.46 189.74 853.21 189.94 840 190.14 826.05 190.34 811.6 190.54 796.9 190.73 782.2 190.93 767.75 191.13 753.8 191.33 740.59 191.53 728.34 191.73 717.26 191.93 707.55 192.12 699.36 192.32 692.85 192.52 688.11 192.72 685.24 192.92 684.27 193.12 685.24 193.32 688.11 193.52 692.85 193.71 699.36 193.91 707.55 194.11 717.26 194.31 728.34 194.51 740.59 194.71 753.8 194.91 767.75 195.1 782.2 195.3 796.9 195.5 811.6 195.7 826.05 195.9 840 196.1 853.21 196.3 865.46 196.49 876.54 196.69 886.25 196.89 894.44 197.09 900.95 197.29 905.69 197.49 908.56 197.69 909.53 197.89 908.56 198.08 905.69 198.28 900.95 198.48 894.44 198.68 886.25 198.88 876.54 199.08 865.46 199.28 853.21 199.47 840 199.67 826.05 199.87 811.6 200.07 796.9 200.27 782.2 200.47 767.75 200.67 753.8 200.86 740.59 201.06 728.34 201.26 717.26 201.46 707.55 201.66 699.36 201.86 692.85 202.06 688.11 202.26 685.24 202.45 684.27 202.65 685.24 202.85 688.11 203.05 692.85 203.25 699.36 203.45 707.55 203.65 717.26 203.84 728.34 204.04 740.59 204.24 753.8 204.44 767.75 204.64 782.2 204.84 796.9 205.04 811.6 205.24 826.05 205.43 840 205.63 853.21 205.83 865.46 206.03 876.54 206.23 886.25 206.43 894.44 206.63 900.95 206.82 905.69 207.02 908.56 207.22 909.53 207.42 908.56 207.62 905.69 207.82 900.95 208.02 894.44 208.21 886.25 208.41 876.54 208.61 865.46 208.81 853.21 209.01 840 209.21 826.05 209.41 811.6 209.61 796.9 209.8 782.2 210 767.75 210.2 753.8 210.4 740.59 210.6 728.34 210.8 717.26 211 707.55 211.19 699.36 211.39 692.85 211.59 688.11 211.79 685.24 211.99 684.27 212.19 685.24 212.39 688.11 212.58 692.85 212.78 699.36 212.98 707.55 213.18 717.26 213.38 728.34 213.58 740.59 213.78 753.8 213.98 767.75 214.17 782.2 214.37 796.9 214.57 811.6 214.77 826.05 214.97 840 215.17 853.21 215.37 865.46 215.56 876.54 215.76 886.25 215.96 894.44 216.16 900.95 216.36 905.69 216.56 908.56 216.76 909.53 216.95 908.56 217.15 905.69 217.35 900.95 217.55 894.44 217.75 886.25 217.95 876.54 218.15 865.46 218.35 853.21 218.54 840 218.74 826.05 218.94 811.6 219.14 796.9 219.34 782.2 219.54 767.75 219.74 753.8 219.93 740.59 220.13 728.34 220.33 717.26 220.53 707.55 220.73 699.36 220.93 692.85 221.13 688.11 221.32 685.24 221.52 684.27 221.72 685.24 221.92 688.11 222.12 692.85 222.32 699.36 222.52 707.55 222.72 717.26 222.91 728.34 223.11 740.59 223.31 753.8 223.51 767.75 223.71 782.2 223.91 796.9 224.11 811.6 224.3 826.05 224.5 840 224.7 853.21 224.9 865.46 225.1 876.54 225.3 886.25 225.5 894.44 225.69 900.95 225.89 905.69 226.09 908.56 226.29 909.53 226.49 908.56 226.69 905.69 226.89 900.95 227.09 894.44 227.28 886.25 227.48 876.54 227.68 865.46 227.88 853.21 228.08 840 228.28 826.05 228.48 811.6 228.67 796.9 228.87 782.2 229.07 767.75 229.27 753.8 229.47 740.59 229.67 728.34 229.87 717.26 230.07 707.55 230.26 699.36 230.46 692.85 230.66 688.11 230.86 685.24 231.06 684.27 231.26 685.24 231.46 688.11 231.65 692.85 231.85 699.36 232.05 707.55 232.25 717.26 232.45 728.34 232.65 740.59 232.85 753.8 233.04 767.75 233.24 782.2 233.44 796.9 233.64 811.6 233.84 826.05 234.04 840 234.24 853.21 234.44 865.46 234.63 876.54 234.83 886.25 235.03 894.44 235.23 900.95 235.43 905.69 235.63 908.56 235.83 909.53 236.02 908.56 236.22 905.69 236.42 900.95 236.62 894.44 236.82 886.25 237.02 876.54 237.22 865.46 237.41 853.21 237.61 840 237.81 826.05 238.01 811.6 238.21 796.9 238.41 782.2 238.61 767.75 238.81 753.8 239 740.59 239.2 728.34 239.4 717.26 239.6 707.55 239.8 699.36 240 692.85 240.2 688.11 240.39 685.24 240.59 684.27 240.79 685.24 240.99 688.11 241.19 692.85 241.39 699.36 241.59 707.55 241.78 717.26 241.98 728.34 242.18 740.59 242.38 753.8 242.58 767.75 242.78 782.2 242.98 796.9 243.18 811.6 243.37 826.05 243.57 840 243.77 853.21 243.97 865.46 244.17 876.54 244.37 886.25 244.57 894.44 244.76 900.95 244.96 905.69 245.16 908.56 245.36 909.53 245.56 908.56 245.76 905.69 245.96 900.95 246.15 894.44 246.35 886.25 246.55 876.54 246.75 865.46 246.95 853.21 247.15 840 247.35 826.05 247.55 811.6 247.74 796.9 247.94 782.2 248.14 767.75 248.34 753.8 248.54 740.59 248.74 728.34 248.94 717.26 249.13 707.55 249.33 699.36 249.53 692.85 249.73 688.11 249.93 685.24 250.13 684.27 250.33 685.24 250.52 688.11 250.72 692.85 250.92 699.36 251.12 707.55 251.32 717.26 251.52 728.34 251.72 740.59 251.92 753.8 252.11 767.75 252.31 782.2 252.51 796.9 252.71 811.6 252.91 826.05 253.11 840 253.31 853.21 253.5 865.46 253.7 876.54 253.9 886.25 254.1 894.44 254.3 900.95 254.5 905.69 254.7 908.56 254.9 909.53 255.09 908.56 255.29 905.69 255.49 900.95 255.69 894.44 255.89 886.25 256.09 876.54 256.29 865.46 256.48 853.21 256.68 840 256.88 826.05 257.08 811.6 257.28 796.9 257.48 782.2 257.68 767.75 257.87 753.8 258.07 740.59 258.27 728.34 258.47 717.26 258.67 707.55 258.87 699.36 259.07 692.85 259.27 688.11 259.46 685.24 259.66 684.27 259.86 685.24 260.06 688.11 260.26 692.85 260.46 699.36 260.66 707.55 260.85 717.26 261.05 728.34 261.25 740.59 261.45 753.8 261.65 767.75 261.85 782.2 262.05 796.9 262.24 811.6 262.44 826.05 262.64 840 262.84 853.21 263.04 865.46 263.24 876.54 263.44 886.25 263.64 894.44 263.83 900.95 264.03 905.69 264.23 908.56 264.43 909.53 264.63 908.56 264.83 905.69 265.03 900.95 265.22 894.44 265.42 886.25 265.62 876.54 265.82 865.46 266.02 853.21 266.22 840 266.42 826.05 266.61 811.6 266.81 796.9 267.01 782.2 267.21 767.75 267.41 753.8 267.61 740.59 267.81 728.34 268.01 717.26 268.2 707.55 268.4 699.36 268.6 692.85 268.8 688.11 269 685.24 269.2 684.27 269.4 685.24 269.59 688.11 269.79 692.85 269.99 699.36 270.19 707.55 270.39 717.26 270.59 728.34 270.79 740.59 270.98 753.8 271.18 767.75 271.38 782.2 271.58 796.9 271.78 811.6 271.98 826.05 272.18 840 272.38 853.21 272.57 865.46 272.77 876.54 272.97 886.25 273.17 894.44 273.37 900.95 273.57 905.69 273.77 908.56 273.96 909.53 274.16 908.56 274.36 905.69 274.56 900.95 274.76 894.44 274.96 886.25 275.16 876.54 275.35 865.46 275.55 853.21 275.75 840 275.95 826.05 276.15 811.6 276.35 796.9 276.55 782.2 276.75 767.75 276.94 753.8 277.14 740.59 277.34 728.34 277.54 717.26 277.74 707.55 277.94 699.36 278.14 692.85 278.33 688.11 278.53 685.24 278.73 684.27 278.93 685.24 279.13 688.11 279.33 692.85 279.53 699.36 279.73 707.55 279.92 717.26 280.12 728.34 280.32 740.59 280.52 753.8 280.72 767.75 280.92 782.2 281.12 796.9 281.31 811.6 281.51 826.05 281.71 840 281.91 853.21 282.11 865.46 282.31 876.54 282.51 886.25 282.7 894.44 282.9 900.95 283.1 905.69 283.3 908.56 283.5 909.53 283.7 908.56 283.9 905.69 284.1 900.95 284.29 894.44 284.49 886.25 284.69 876.54 284.89 865.46 285.09 853.21 285.29 840 285.49 826.05 285.68 811.6 285.88 796.9 286.08 782.2 286.28 767.75 286.48 753.8 286.68 740.59 286.88 728.34 287.07 717.26 287.27 707.55 287.47 699.36 287.67 692.85 287.87 688.11 288.07 685.24 288.27 684.27 288.47 685.24 288.66 688.11 288.86 692.85 289.06 699.36 289.26 707.55 289.46 717.26 289.66 728.34 289.86 740.59 290.05 753.8 290.25 767.75 290.45 782.2 290.65 796.9 290.85 811.6 291.05 826.05 291.25 840 291.44 853.21 291.64 865.46 291.84 876.54 292.04 886.25 292.24 894.44 292.44 900.95 292.64 905.69 292.84 908.56 293.03 909.53 293.23 908.56 293.43 905.69 293.63 900.95 293.83 894.44 294.03 886.25 294.23 876.54 294.42 865.46 294.62 853.21 294.82 840 295.02 826.05 295.22 811.6 295.42 796.9 295.62 782.2 295.81 767.75 296.01 753.8 296.21 740.59 296.41 728.34 296.61 717.26 296.81 707.55 297.01 699.36 297.21 692.85 297.4 688.11 297.6 685.24 297.8 684.27 298 685.24 298.2 688.11 298.4 692.85 298.6 699.36 298.79 707.55 298.99 717.26 299.19 728.34 299.39 740.59 299.59 753.8 299.79 767.75 299.99 782.2 300.18 796.9 300.38 811.6 300.58 826.05 300.78 840 300.98 853.21 301.18 865.46 301.38 876.54 301.58 886.25 301.77 894.44 301.97 900.95 302.17 905.69 302.37 908.56 302.57 909.53 302.77 908.56 302.97 905.69 303.16 900.95 303.36 894.44 303.56 886.25 303.76 876.54 303.96 865.46 304.16 853.21 304.36 840 304.56 826.05 304.75 811.6 304.95 796.9 305.15 782.2 305.35 767.75 305.55 753.8 305.75 740.59 305.95 728.34 306.14 717.26 306.34 707.55 306.54 699.36 306.74 692.85 306.94 688.11 307.14 685.24 307.34 684.27 307.53 685.24 307.73 688.11 307.93 692.85 308.13 699.36 308.33 707.55 308.53 717.26 308.73 728.34 308.93 740.59 309.12 753.8 309.32 767.75 309.52 782.2 309.72 796.9 309.92 811.6 310.12 826.05 310.32 840 310.51 853.21 310.71 865.46 310.91 876.54 311.11 886.25 311.31 894.44 311.51 900.95 311.71 905.69 311.9 908.56 312.1 909.53 312.3 908.56 312.5 905.69 312.7 900.95 312.9 894.44 313.1 886.25 313.3 876.54 313.49 865.46 313.69 853.21 313.89 840 314.09 826.05 314.29 811.6 314.49 796.9 314.69 782.2 314.88 767.75 315.08 753.8 315.28 740.59 315.48 728.34 315.68 717.26 315.88 707.55 316.08 699.36 316.27 692.85 316.47 688.11 316.67 685.24 316.87 684.27 317.07 685.24 317.27 688.11 317.47 692.85 317.67 699.36 317.86 707.55 318.06 717.26 318.26 728.34 318.46 740.59 318.66 753.8 318.86 767.75 319.06 782.2 319.25 796.9 319.45 811.6 319.65 826.05 319.85 840 320.05 853.21 320.25 865.46 320.45 876.54 320.64 886.25 320.84 894.44 321.04 900.95 321.24 905.69 321.44 908.56 321.64 909.53 321.84 908.56 322.04 905.69 322.23 900.95 322.43 894.44 322.63 886.25 322.83 876.54 323.03 865.46 323.23 853.21 323.43 840 323.62 826.05 323.82 811.6 324.02 796.9 324.22 782.2 324.42 767.75 324.62 753.8 324.82 740.59 325.01 728.34 325.21 717.26 325.41 707.55 325.61 699.36 325.81 692.85 326.01 688.11 326.21 685.24 326.41 684.27 326.6 685.24 326.8 688.11 327 692.85 327.2 699.36 327.4 707.55 327.6 717.26 327.8 728.34 327.99 740.59 328.19 753.8 328.39 767.75 328.59 782.2 328.79 796.9 328.99 811.6 329.19 826.05 329.39 840 329.58 853.21 329.78 865.46 329.98 876.54 330.18 886.25 330.38 894.44 330.58 900.95 330.78 905.69 330.97 908.56 331.17 909.53 331.37 908.56 331.57 905.69 331.77 900.95 331.97 894.44 332.17 886.25 332.36 876.54 332.56 865.46 332.76 853.21 332.96 840 333.16 826.05 333.36 811.6 333.56 796.9 333.76 782.2 333.95 767.75 334.15 753.8 334.35 740.59 334.55 728.34 334.75 717.26 334.95 707.55 335.15 699.36 335.34 692.85 335.54 688.11 335.74 685.24 335.94 684.27 336.14 685.24 336.34 688.11 336.54 692.85 336.73 699.36 336.93 707.55 337.13 717.26 337.33 728.34 337.53 740.59 337.73 753.8 337.93 767.75 338.13 782.2 338.32 796.9 338.52 811.6 338.72 826.05 338.92 840 339.12 853.21 339.32 865.46 339.52 876.54 339.71 886.25 339.91 894.44 340.11 900.95 340.31 905.69 340.51 908.56 340.71 909.53 340.91 908.56 341.1 905.69 341.3 900.95 341.5 894.44 341.7 886.25 341.9 876.54 342.1 865.46 342.3 853.21 342.5 840 342.69 826.05 342.89 811.6 343.09 796.9 343.29 782.2 343.49 767.75 343.69 753.8 343.89 740.59 344.08 728.34 344.28 717.26 344.48 707.55 344.68 699.36 344.88 692.85 345.08 688.11 345.28 685.24 345.47 684.27 345.67 685.24 345.87 688.11 346.07 692.85 346.27 699.36 346.47 707.55 346.67 717.26 346.87 728.34 347.06 740.59 347.26 753.8 347.46 767.75 347.66 782.2 347.86 796.9 348.06 811.6 348.26 826.05 348.45 840 348.65 853.21 348.85 865.46 349.05 876.54 349.25 886.25 349.45 894.44 349.65 900.95 349.84 905.69 350.04 908.56 350.24 909.53 350.44 908.56 350.64 905.69 350.84 900.95 351.04 894.44 351.24 886.25 351.43 876.54 351.63 865.46 351.83 853.21 352.03 840 352.23 826.05 352.43 811.6 352.63 796.9 352.82 782.2 353.02 767.75 353.22 753.8 353.42 740.59 353.62 728.34 353.82 717.26 354.02 707.55 354.22 699.36 354.41 692.85 354.61 688.11 354.81 685.24 355.01 684.27 355.21 685.24 355.41 688.11 355.61 692.85 355.8 699.36 356 707.55 356.2 717.26 356.4 728.34 356.6 740.59 356.8 753.8 357 767.75 357.19 782.2 357.39 796.9 357.59 811.6 357.79 826.05 357.99 840 358.19 853.21 358.39 865.46 358.59 876.54 358.78 886.25 358.98 894.44 359.18 900.95 359.38 905.69 359.58 908.56 359.78 909.53 359.98 908.56 360.17 905.69 360.37 900.95 360.57 894.44 360.77 886.25 360.97 876.54 361.17 865.46 361.37 853.21 361.56 840 361.76 826.05 361.96 811.6 362.16 796.9 362.36 782.2 362.56 767.75 362.76 753.8 362.96 740.59 363.15 728.34 363.35 717.26 363.55 707.55 363.75 699.36 363.95 692.85 364.15 688.11 364.35 685.24 364.54 684.27 364.74 685.24 364.94 688.11 365.14 692.85 365.34 699.36 365.54 707.55 365.74 717.26 365.93 728.34 366.13 740.59 366.33 753.8 366.53 767.75 366.73 782.2 366.93 796.9 367.13 811.6 367.33 826.05 367.52 840 367.72 853.21 367.92 865.46 368.12 876.54 368.32 886.25 368.52 894.44 368.72 900.95 368.91 905.69 369.11 908.56 369.31 909.53 369.51 908.56 369.71 905.69 369.91 900.95 370.11 894.44 370.3 886.25 370.5 876.54 370.7 865.46 370.9 853.21 371.1 840 371.3 826.05 371.5 811.6 371.7 796.9 371.89 782.2 372.09 767.75 372.29 753.8 372.49 740.59 372.69 728.34 372.89 717.26 373.09 707.55 373.28 699.36 373.48 692.85 373.68 688.11 373.88 685.24 374.08 684.27 374.28 685.24 374.48 688.11 374.67 692.85 374.87 699.36 375.07 707.55 375.27 717.26 375.47 728.34 375.67 740.59 375.87 753.8 376.07 767.75 376.26 782.2 376.46 796.9 376.66 811.6 376.86 826.05 377.06 840 377.26 853.21 377.46 865.46 377.65 876.54 377.85 886.25 378.05 894.44 378.25 900.95 378.45 905.69 378.65 908.56 378.85 909.53 379.05 908.56 379.24 905.69 379.44 900.95 379.64 894.44 379.84 886.25 380.04 876.54 380.24 865.46 380.44 853.21 380.63 840 380.83 826.05 381.03 811.6 381.23 796.9 381.43 782.2 381.63 767.75 381.83 753.8 382.02 740.59 382.22 728.34 382.42 717.26 382.62 707.55 382.82 699.36 383.02 692.85 383.22 688.11 383.42 685.24 383.61 684.27 383.81 685.24 384.01 688.11 384.21 692.85 384.41 699.36 384.61 707.55 384.81 717.26 385 728.34 385.2 740.59 385.4 753.8 385.6 767.75 385.8 782.2 386 796.9 386.2 811.6 386.39 826.05 386.59 840 386.79 853.21 386.99 865.46 387.19 876.54 387.39 886.25 387.59 894.44 387.79 900.95 387.98 905.69 388.18 908.56 388.38 909.53 388.58 908.56 388.78 905.69 388.98 900.95 389.18 894.44 389.37 886.25 389.57 876.54 389.77 865.46 389.97 853.21 390.17 840 390.37 826.05 390.57 811.6 390.76 796.9 390.96 782.2 391.16 767.75 391.36 753.8 391.56 740.59 391.76 728.34 391.96 717.26 392.16 707.55 392.35 699.36 392.55 692.85 392.75 688.11 392.95 685.24 393.15 684.27 393.35 685.24 393.55 688.11 393.74 692.85 393.94 699.36 394.14 707.55 394.34 717.26 394.54 728.34 394.74 740.59 394.94 753.8 395.13 767.75 395.33 782.2 395.53 796.9 395.73 811.6 395.93 826.05 396.13 840 396.33 853.21 396.53 865.46 396.72 876.54 396.92 886.25 397.12 894.44 397.32 900.95 397.52 905.69 397.72 908.56 397.92 909.53 398.11 908.56 398.31 905.69 398.51 900.95 398.71 894.44 398.91 886.25 399.11 876.54 399.31 865.46 399.5 853.21 399.7 840 399.9 826.05 400.1 811.6 400.3 796.9 400.5 782.2 400.7 767.75 400.9 753.8 401.09 740.59 401.29 728.34 401.49 717.26 401.69 707.55 401.89 699.36 402.09 692.85 402.29 688.11 402.48 685.24 402.68 684.27 402.88 685.24 403.08 688.11 403.28 692.85 403.48 699.36 403.68 707.55 403.88 717.26 404.07 728.34 404.27 740.59 404.47 753.8 404.67 767.75 404.87 782.2 405.07 796.9 405.27 811.6 405.46 826.05 405.66 840 405.86 853.21 406.06 865.46 406.26 876.54 406.46 886.25 406.66 894.44 406.85 900.95 407.05 905.69 407.25 908.56 407.45 909.53 407.65 908.56 407.85 905.69 408.05 900.95 408.25 894.44 408.44 886.25 408.64 876.54 408.84 865.46 409.04 853.21 409.24 840 409.44 826.05 409.64 811.6 409.83 796.9 410.03 782.2 410.23 767.75 410.43 753.8 410.63 740.59 410.83 728.34 411.03 717.26 411.22 707.55 411.42 699.36 411.62 692.85 411.82 688.11 412.02 685.24 412.22 684.27 412.42 685.24 412.62 688.11 412.81 692.85 413.01 699.36 413.21 707.55 413.41 717.26 413.61 728.34 413.81 740.59 414.01 753.8 414.2 767.75 414.4 782.2 414.6 796.9 414.8 811.6 415 826.05 415.2 840 415.4 853.21 415.59 865.46 415.79 876.54 415.99 886.25 416.19 894.44 416.39 900.95 416.59 905.69 416.79 908.56 416.99 909.53 417.18 908.56 417.38 905.69 417.58 900.95 417.78 894.44 417.98 886.25 418.18 876.54 418.38 865.46 418.57 853.21 418.77 840 418.97 826.05 419.17 811.6 419.37 796.9 419.57 782.2 419.77 767.75 419.96 753.8 420.16 740.59 420.36 728.34 420.56 717.26 420.76 707.55 420.96 699.36 421.16 692.85 421.36 688.11 421.55 685.24 421.75 684.27 421.95 685.24 422.15 688.11 422.35 692.85 422.55 699.36 422.75 707.55 422.94 717.26 423.14 728.34 423.34 740.59 423.54 753.8 423.74 767.75 423.94 782.2 424.14 796.9 424.33 811.6 424.53 826.05 424.73 840 424.93 853.21 425.13 865.46 425.33 876.54 425.53 886.25 425.73 894.44 425.92 900.95 426.12 905.69 426.32 908.56 426.52 909.53 426.72 908.56 426.92 905.69 427.12 900.95 427.31 894.44 427.51 886.25 427.71 876.54 427.91 865.46 428.11 853.21 428.31 840 428.51 826.05 428.71 811.6 428.9 796.9 429.1 782.2 429.3 767.75 429.5 753.8 429.7 740.59 429.9 728.34 430.1 717.26 430.29 707.55 430.49 699.36 430.69 692.85 430.89 688.11 431.09 685.24 431.29 684.27 431.49 685.24 431.68 688.11 431.88 692.85 432.08 699.36 432.28 707.55 432.48 717.26 432.68 728.34 432.88 740.59 433.08 753.8 433.27 767.75 433.47 782.2 433.67 796.9 433.87 811.6 434.07 826.05 434.27 840 434.47 853.21 434.66 865.46 434.86 876.54 435.06 886.25 435.26 894.44 435.46 900.95 435.66 905.69 435.86 908.56 436.05 909.53 436.25 908.56 436.45 905.69 436.65 900.95 436.85 894.44 437.05 886.25 437.25 876.54 437.45 865.46 437.64 853.21 437.84 840 438.04 826.05 438.24 811.6 438.44 796.9 438.64 782.2 438.84 767.75 439.03 753.8 439.23 740.59 439.43 728.34 439.63 717.26 439.83 707.55 440.03 699.36 440.23 692.85 440.42 688.11 440.62 685.24 440.82 684.27 441.02 685.24 441.22 688.11 441.42 692.85 441.62 699.36 441.82 707.55 442.01 717.26 442.21 728.34 442.41 740.59 442.61 753.8 442.81 767.75 443.01 782.2 443.21 796.9 443.4 811.6 443.6 826.05 443.8 840 444 853.21 444.2 865.46 444.4 876.54 444.6 886.25 444.79 894.44 444.99 900.95 445.19 905.69 445.39 908.56 445.59 909.53 445.79 908.56 445.99 905.69 446.19 900.95 446.38 894.44 446.58 886.25 446.78 876.54 446.98 865.46 447.18 853.21 447.38 840 447.58 826.05 447.77 811.6 447.97 796.9 448.17 782.2 448.37 767.75 448.57 753.8 448.77 740.59 448.97 728.34 449.16 717.26 449.36 707.55 449.56 699.36 449.76 692.85 449.96 688.11 450.16 685.24 450.36 684.27 450.56 685.24 450.75 688.11 450.95 692.85 451.15 699.36 451.35 707.55 451.55 717.26 451.75 728.34 451.95 740.59 452.14 753.8 452.34 767.75 452.54 782.2 452.74 796.9 452.94 811.6 453.14 826.05 453.34 840 453.54 853.21 453.73 865.46 453.93 876.54 454.13 886.25 454.33 894.44 454.53 900.95 454.73 905.69 454.93 908.56 455.12 909.53 455.32 908.56 455.52 905.69 455.72 900.95 455.92 894.44 456.12 886.25 456.32 876.54 456.51 865.46 456.71 853.21 456.91 840 457.11 826.05 457.31 811.6 457.51 796.9 457.71 782.2 457.91 767.75 458.1 753.8 458.3 740.59 458.5 728.34 458.7 717.26 458.9 707.55 459.1 699.36 459.3 692.85 459.49 688.11 459.69 685.24 459.89 684.27 460.09 685.24 460.29 688.11 460.49 692.85 460.69 699.36 460.88 707.55 461.08 717.26 461.28 728.34 461.48 740.59 461.68 753.8 461.88 767.75 462.08 782.2 462.28 796.9 462.47 811.6 462.67 826.05 462.87 840 463.07 853.21 463.27 865.46 463.47 876.54 463.67 886.25 463.86 894.44 464.06 900.95 464.26 905.69 464.46 908.56 464.66 909.53 464.86 908.56 465.06 905.69 465.25 900.95 465.45 894.44 465.65 886.25 465.85 876.54 466.05 865.46 466.25 853.21 466.45 840 466.65 826.05 466.84 811.6 467.04 796.9 467.24 782.2 467.44 767.75 467.64 753.8 467.84 740.59 468.04 728.34 468.23 717.26 468.43 707.55 468.63 699.36 468.83 692.85 469.03 688.11 469.23 685.24 469.43 684.27 469.62 685.24 469.82 688.11 470.02 692.85 470.22 699.36 470.42 707.55 470.62 717.26 470.82 728.34 471.02 740.59 471.21 753.8 471.41 767.75 471.61 782.2 471.81 796.9 472.01 811.6 472.21 826.05 472.41 840 472.6 853.21 472.8 865.46 473 876.54 473.2 886.25 473.4 894.44 473.6 900.95 473.8 905.69 473.99 908.56 474.19 909.53 474.39 908.56 474.59 905.69 474.79 900.95 474.99 894.44 475.19 886.25 475.39 876.54 475.58 865.46 475.78 853.21 475.98 840 476.18 826.05 476.38 811.6 476.58 796.9 476.78 782.2 476.97 767.75 477.17 753.8 477.37 740.59 477.57 728.34 477.77 717.26 477.97 707.55 478.17 699.36 478.37 692.85 478.56 688.11 478.76 685.24 478.96 684.27 479.16 685.24 479.36 688.11 479.56 692.85 479.76 699.36 479.95 707.55 480.15 717.26 480.35 728.34 480.55 740.59 480.75 753.8 480.95 767.75 481.15 782.2 481.34 796.9 481.54 811.6 481.74 826.05 481.94 840 482.14 853.21 482.34 865.46 482.54 876.54 482.74 886.25 482.93 894.44 483.13 900.95 483.33 905.69 483.53 908.56 483.73 909.53 483.93 908.56 484.13 905.69 484.32 900.95 484.52 894.44 484.72 886.25 484.92 876.54 485.12 865.46 485.32 853.21 485.52 840 485.71 826.05 485.91 811.6 486.11 796.9 486.31 782.2 486.51 767.75 486.71 753.8 486.91 740.59 487.11 728.34 487.3 717.26 487.5 707.55 487.7 699.36 487.9 692.85 488.1 688.11 488.3 685.24 488.5 684.27 488.69 685.24 488.89 688.11 489.09 692.85 489.29 699.36 489.49 707.55 489.69 717.26 489.89 728.34 490.08 740.59 490.28 753.8 490.48 767.75 490.68 782.2 490.88 796.9 491.08 811.6 491.28 826.05 491.48 840 491.67 853.21 491.87 865.46 492.07 876.54 492.27 886.25 492.47 894.44 492.67 900.95 492.87 905.69 493.06 908.56 493.26 909.53 493.46 908.56 493.66 905.69 493.86 900.95 494.06 894.44 494.26 886.25 494.45 876.54 494.65 865.46 494.85 853.21 495.05 840 495.25 826.05 495.45 811.6 495.65 796.9 495.85 782.2 496.04 767.75 496.24 753.8 496.44 740.59 496.64 728.34 496.84 717.26 497.04 707.55 497.24 699.36 497.43 692.85 497.63 688.11 497.83 685.24 498.03 684.27 498.23 685.24 498.43 688.11 498.63 692.85 498.82 699.36 499.02 707.55 499.22 717.26 499.42 728.34 499.62 740.59 499.82 753.8 500.02 767.75 500.22 782.2 500.41 796.9 500.61 811.6 500.81 826.05 501.01 840 501.21 853.21 501.41 865.46 501.61 876.54 501.8 886.25 502 894.44 502.2 900.95 502.4 905.69 502.6 908.56 502.8 909.53 503 908.56 503.2 905.69 503.39 900.95 503.59 894.44 503.79 886.25 503.99 876.54 504.19 865.46 504.39 853.21 504.59 840 504.78 826.05 504.98 811.6 505.18 796.9 505.38 782.2 505.58 767.75 505.78 753.8 505.98 740.59 506.17 728.34 506.37 717.26 506.57 707.55 506.77 699.36 506.97 692.85 507.17 688.11 507.37 685.24 507.57 684.27 507.76 685.24 507.96 688.11 508.16 692.85 508.36 699.36 508.56 707.55 508.76 717.26 508.96 728.34 509.15 740.59 509.35 753.8 509.55 767.75 509.75 782.2 509.95 796.9 510.15 811.6 510.35 826.05 510.54 840 510.74 853.21 510.94 865.46 511.14 876.54 511.34 886.25 511.54 894.44 511.74 900.95 511.94 905.69 512.13 908.56 512.33 909.53 512.53 908.56 512.73 905.69 512.93 900.95 513.13 894.44 513.33 886.25 513.52 876.54 513.72 865.46 513.92 853.21 514.12 840 514.32 826.05 514.52 811.6 514.72 796.9 514.91 782.2 515.11 767.75 515.31 753.8 515.51 740.59 515.71 728.34 515.91 717.26 516.11 707.55 516.31 699.36 516.5 692.85 516.7 688.11 516.9 685.24 517.1 684.27 517.3 685.24 517.5 688.11 517.7 692.85 517.89 699.36 518.09 707.55 518.29 717.26 518.49 728.34 518.69 740.59 518.89 753.8 519.09 767.75 519.28 782.2 519.48 796.9 519.68 811.6 519.88 826.05 520.08 840 520.28 853.21 520.48 865.46 520.68 876.54 520.87 886.25 521.07 894.44 521.27 900.95 521.47 905.69 521.67 908.56 521.87 909.53 522.07 908.56 522.26 905.69 522.46 900.95 522.66 894.44 522.86 886.25 523.06 876.54 523.26 865.46 523.46 853.21 523.65 840 523.85 826.05 524.05 811.6 524.25 796.9 524.45 782.2 524.65 767.75 524.85 753.8 525.05 740.59 525.24 728.34 525.44 717.26 525.64 707.55 525.84 699.36 526.04 692.85 526.24 688.11 526.44 685.24 526.63 684.27 526.83 685.24 527.03 688.11 527.23 692.85 527.43 699.36 527.63 707.55 527.83 717.26 528.03 728.34 528.22 740.59 528.42 753.8 528.62 767.75 528.82 782.2 529.02 796.9 529.22 811.6 529.42 826.05 529.61 840 529.81 853.21 530.01 865.46 530.21 876.54 530.41 886.25 530.61 894.44 530.81 900.95 531 905.69 531.2 908.56 531.4 909.53 531.6 908.56 531.8 905.69 532 900.95 532.2 894.44 532.4 886.25 532.59 876.54 532.79 865.46 532.99 853.21 533.19 840 533.39 826.05 533.59 811.6 533.79 796.9 533.98 782.2 534.18 767.75 534.38 753.8 534.58 740.59 534.78 728.34 534.98 717.26 535.18 707.55 535.37 699.36 535.57 692.85 535.77 688.11 535.97 685.24 536.17 684.27 536.37 685.24 536.57 688.11 536.77 692.85 536.96 699.36 537.16 707.55 537.36 717.26 537.56 728.34 537.76 740.59 537.96 753.8 538.16 767.75 538.35 782.2 538.55 796.9 538.75 811.6 538.95 826.05 539.15 840 539.35 853.21 539.55 865.46 539.74 876.54 539.94 886.25 540.14 894.44 540.34 900.95 540.54 905.69 540.74 908.56 540.94 909.53 541.14 908.56 541.33 905.69 541.53 900.95 541.73 894.44 541.93 886.25 542.13 876.54 542.33 865.46 542.53 853.21 542.72 840 542.92 826.05 543.12 811.6 543.32 796.9 543.52 782.2 543.72 767.75 543.92 753.8 544.11 740.59 544.31 728.34 544.51 717.26 544.71 707.55 544.91 699.36 545.11 692.85 545.31 688.11 545.51 685.24 545.7 684.27 545.9 685.24 546.1 688.11 546.3 692.85 546.5 699.36 546.7 707.55 546.9 717.26 547.09 728.34 547.29 740.59 547.49 753.8 547.69 767.75 547.89 782.2 548.09 796.9 548.29 811.6 548.48 826.05 548.68 840 548.88 853.21 549.08 865.46 549.28 876.54 549.48 886.25 549.68 894.44 549.88 900.95 550.07 905.69 550.27 908.56 550.47 909.53 550.67 908.56 550.87 905.69 551.07 900.95 551.27 894.44 551.46 886.25 551.66 876.54 551.86 865.46 552.06 853.21 552.26 840 552.46 826.05 552.66 811.6 552.86 796.9 553.05 782.2 553.25 767.75 553.45 753.8 553.65 740.59 553.85 728.34 554.05 717.26 554.25 707.55 554.44 699.36 554.64 692.85 554.84 688.11 555.04 685.24 555.24 684.27 555.44 685.24 555.64 688.11 555.83 692.85 556.03 699.36 556.23 707.55 556.43 717.26 556.63 728.34 556.83 740.59 557.03 753.8 557.23 767.75 557.42 782.2 557.62 796.9 557.82 811.6 558.02 826.05 558.22 840 558.42 853.21 558.62 865.46 558.81 876.54 559.01 886.25 559.21 894.44 559.41 900.95 559.61 905.69 559.81 908.56 560.01 909.53 560.2 908.56 560.4 905.69 560.6 900.95 560.8 894.44 561 886.25 561.2 876.54 561.4 865.46 561.6 853.21 561.79 840 561.99 826.05 562.19 811.6 562.39 796.9 562.59 782.2 562.79 767.75 562.99 753.8 563.18 740.59 563.38 728.34 563.58 717.26 563.78 707.55 563.98 699.36 564.18 692.85 564.38 688.11 564.57 685.24 564.77 684.27 564.97 685.24 565.17 688.11 565.37 692.85 565.57 699.36 565.77 707.55 565.97 717.26 566.16 728.34 566.36 740.59 566.56 753.8 566.76 767.75 566.96 782.2 567.16 796.9 567.36 811.6 567.55 826.05 567.75 840 567.95 853.21 568.15 865.46 568.35 876.54 568.55 886.25 568.75 894.44 568.94 900.95 569.14 905.69 569.34 908.56 569.54 909.53 569.74 908.56 569.94 905.69 570.14 900.95 570.34 894.44 570.53 886.25 570.73 876.54 570.93 865.46 571.13 853.21 571.33 840 571.53 826.05 571.73 811.6 571.92 796.9 572.12 782.2 572.32 767.75 572.52 753.8 572.72 740.59 572.92 728.34 573.12 717.26 573.31 707.55 573.51 699.36 573.71 692.85 573.91 688.11 574.11 685.24 574.31 684.27 574.51 685.24 574.71 688.11 574.9 692.85 575.1 699.36 575.3 707.55 575.5 717.26 575.7 728.34 575.9 740.59 576.1 753.8 576.29 767.75 576.49 782.2 576.69 796.9 576.89 811.6 577.09 826.05 577.29 840 577.49 853.21 577.69 865.46 577.88 876.54 578.08 886.25 578.28 894.44 578.48 900.95 578.68 905.69 578.88 908.56 579.08 909.53 579.27 908.56 579.47 905.69 579.67 900.95 579.87 894.44 580.07 886.25 580.27 876.54 580.47 865.46 580.66 853.21 580.86 840 581.06 826.05 581.26 811.6 581.46 796.9 581.66 782.2 581.86 767.75 582.06 753.8 582.25 740.59 582.45 728.34 582.65 717.26 582.85 707.55 583.05 699.36 583.25 692.85 583.45 688.11 583.64 685.24 583.84 684.27 584.04 685.24 584.24 688.11 584.44 692.85 584.64 699.36 584.84 707.55 585.03 717.26 585.23 728.34 585.43 740.59 585.63 753.8 585.83 767.75 586.03 782.2 586.23 796.9 586.43 811.6 586.62 826.05 586.82 840 587.02 853.21 587.22 865.46 587.42 876.54 587.62 886.25 587.82 894.44 588.01 900.95 588.21 905.69 588.41 908.56 588.61 909.53 588.81 908.56 589.01 905.69 589.21 900.95 589.4 894.44 589.6 886.25 589.8 876.54 590 865.46 590.2 853.21 590.4 840 590.6 826.05 590.8 811.6 590.99 796.9 591.19 782.2 591.39 767.75 591.59 753.8 591.79 740.59 591.99 728.34 592.19 717.26 592.38 707.55 592.58 699.36 592.78 692.85 592.98 688.11 593.18 685.24 593.38 684.27 593.58 685.24 593.77 688.11 593.97 692.85 594.17 699.36 594.37 707.55 594.57 717.26 594.77 728.34 594.97 740.59 595.17 753.8 595.36 767.75 595.56 782.2 595.76 796.9 595.96 811.6 596.16 826.05 596.36 840 596.56 853.21 596.75 865.46 596.95 876.54 597.15 886.25 597.35 894.44 597.55 900.95 597.75 905.69 597.95 908.56 598.14 909.53 598.34 908.56 598.54 905.69 598.74 900.95 598.94 894.44 599.14 886.25 599.34 876.54 599.54 865.46 599.73 853.21 599.93 840 600.13 826.05 600.33 811.6 600.53 796.9 600.73 782.2 600.93 767.75 601.12 753.8 601.32 740.59 601.52 728.34 601.72 717.26 601.92 707.55 602.12 699.36 602.32 692.85 602.52 688.11 602.71 685.24 602.91 684.27 603.11 685.24 603.31 688.11 603.51 692.85 603.71 699.36 603.91 707.55 604.1 717.26 604.3 728.34 604.5 740.59 604.7 753.8 604.9 767.75 605.1 782.2 605.3 796.9 605.49 811.6 605.69 826.05 605.89 840 606.09 853.21 606.29 865.46 606.49 876.54 606.69 886.25 606.89 894.44 607.08 900.95 607.28 905.69 607.48 908.56 607.68 909.53 607.88 908.56 608.08 905.69 608.28 900.95 608.47 894.44 608.67 886.25 608.87 876.54 609.07 865.46 609.27 853.21 609.47 840 609.67 826.05 609.86 811.6 610.06 796.9 610.26 782.2 610.46 767.75 610.66 753.8 610.86 740.59 611.06 728.34 611.26 717.26 611.45 707.55 611.65 699.36 611.85 692.85 612.05 688.11 612.25 685.24 612.45 684.27 612.65 685.24 612.84 688.11 613.04 692.85 613.24 699.36 613.44 707.55 613.64 717.26 613.84 728.34 614.04 740.59 614.23 753.8 614.43 767.75 614.63 782.2 614.83 796.9 615.03 811.6 615.23 826.05 615.43 840 615.63 853.21 615.82 865.46 616.02 876.54 616.22 886.25 616.42 894.44 616.62 900.95 616.82 905.69 617.02 908.56 617.21 909.53 617.41 908.56 617.61 905.69 617.81 900.95 618.01 894.44 618.21 886.25 618.41 876.54 618.6 865.46 618.8 853.21 619 840 619.2 826.05 619.4 811.6 619.6 796.9 619.8 782.2 620 767.75 620.19 753.8 620.39 740.59 620.59 728.34 620.79 717.26 620.99 707.55 621.19 699.36 621.39 692.85 621.58 688.11 621.78 685.24 621.98 684.27 622.18 685.24 622.38 688.11 622.58 692.85 622.78 699.36 622.97 707.55 623.17 717.26 623.37 728.34 623.57 740.59 623.77 753.8 623.97 767.75 624.17 782.2 624.37 796.9 624.56 811.6 624.76 826.05 624.96 840 625.16 853.21 625.36 865.46 625.56 876.54 625.76 886.25 625.95 894.44 626.15 900.95 626.35 905.69 626.55 908.56 626.75 909.53 626.95 908.56 627.15 905.69 627.35 900.95 627.54 894.44 627.74 886.25 627.94 876.54 628.14 865.46 628.34 853.21 628.54 840 628.74 826.05 628.93 811.6 629.13 796.9 629.33 782.2 629.53 767.75 629.73 753.8 629.93 740.59 630.13 728.34 630.32 717.26" fill="none" stroke="#2ca02c" stroke-width="2.3" stroke-linejoin="round" /><path d="M78.9 767.75 79.1 753.8 79.3 740.59 79.5 728.34 79.69 717.26 79.89 707.55 80.09 699.36 80.29 692.85 80.49 688.11 80.69 685.24 80.89 684.27 81.09 685.24 81.28 688.11 81.48 692.85 81.68 699.36 81.88 707.55 82.08 717.26 82.28 728.34 82.48 740.59 82.67 753.8 82.87 767.75 83.07 782.2 83.27 796.9 83.47 811.6 83.67 826.05 83.87 840 84.06 853.21 84.26 865.46 84.46 876.54 84.66 886.25 84.86 894.44 85.06 900.95 85.26 905.69 85.46 908.56 85.65 909.53 85.85 908.56 86.05 905.69 86.25 900.95 86.45 894.44 86.65 886.25 86.85 876.54 87.04 865.46 87.24 853.21 87.44 840 87.64 826.05 87.84 811.6 88.04 796.9 88.24 782.2 88.43 767.75 88.63 753.8 88.83 740.59 89.03 728.34 89.23 717.26 89.43 707.55 89.63 699.36 89.83 692.85 90.02 688.11 90.22 685.24 90.42 684.27 90.62 685.24 90.82 688.11 91.02 692.85 91.22 699.36 91.41 707.55 91.61 717.26 91.81 728.34 92.01 740.59 92.21 753.8 92.41 767.75 92.61 782.2 92.8 796.9 93 811.6 93.2 826.05 93.4 840 93.6 853.21 93.8 865.46 94 876.54 94.2 886.25 94.39 894.44 94.59 900.95 94.79 905.69 94.99 908.56 95.19 909.53 95.39 908.56 95.59 905.69 95.78 900.95 95.98 894.44 96.18 886.25 96.38 876.54 96.58 865.46 96.78 853.21 96.98 840 97.17 826.05 97.37 811.6 97.57 796.9 97.77 782.2 97.97 767.75 98.17 753.8 98.37 740.59 98.57 728.34 98.76 717.26 98.96 707.55 99.16 699.36 99.36 692.85 99.56 688.11 99.76 685.24 99.96 684.27 100.15 685.24 100.35 688.11 100.55 692.85 100.75 699.36 100.95 707.55 101.15 717.26 101.35 728.34 101.54 740.59 101.74 753.8 101.94 767.75 102.14 782.2 102.34 796.9 102.54 811.6 102.74 826.05 102.94 840 103.13 853.21 103.33 865.46 103.53 876.54 103.73 886.25 103.93 894.44 104.13 900.95 104.33 905.69 104.52 908.56 104.72 909.53 104.92 908.56 105.12 905.69 105.32 900.95 105.52 894.44 105.72 886.25 105.92 876.54 106.11 865.46 106.31 853.21 106.51 840 106.71 826.05 106.91 811.6 107.11 796.9 107.31 782.2 107.5 767.75 107.7 753.8 107.9 740.59 108.1 728.34 108.3 717.26 108.5 707.55 108.7 699.36 108.89 692.85 109.09 688.11 109.29 685.24 109.49 684.27 109.69 685.24 109.89 688.11 110.09 692.85 110.29 699.36 110.48 707.55 110.68 717.26 110.88 728.34 111.08 740.59 111.28 753.8 111.48 767.75 111.68 782.2 111.87 796.9 112.07 811.6 112.27 826.05 112.47 840 112.67 853.21 112.87 865.46 113.07 876.54 113.26 886.25 113.46 894.44 113.66 900.95 113.86 905.69 114.06 908.56 114.26 909.53 114.46 908.56 114.66 905.69 114.85 900.95 115.05 894.44 115.25 886.25 115.45 876.54 115.65 865.46 115.85 853.21 116.05 840 116.24 826.05 116.44 811.6 116.64 796.9 116.84 782.2 117.04 767.75 117.24 753.8 117.44 740.59 117.63 728.34 117.83 717.26 118.03 707.55 118.23 699.36 118.43 692.85 118.63 688.11 118.83 685.24 119.03 684.27 119.22 685.24 119.42 688.11 119.62 692.85 119.82 699.36 120.02 707.55 120.22 717.26 120.42 728.34 120.61 740.59 120.81 753.8 121.01 767.75 121.21 782.2 121.41 796.9 121.61 811.6 121.81 826.05 122 840 122.2 853.21 122.4 865.46 122.6 876.54 122.8 886.25 123 894.44 123.2 900.95 123.4 905.69 123.59 908.56 123.79 909.53 123.99 908.56 124.19 905.69 124.39 900.95 124.59 894.44 124.79 886.25 124.98 876.54 125.18 865.46 125.38 853.21 125.58 840 125.78 826.05 125.98 811.6 126.18 796.9 126.37 782.2 126.57 767.75 126.77 753.8 126.97 740.59 127.17 728.34 127.37 717.26 127.57 707.55 127.77 699.36 127.96 692.85 128.16 688.11 128.36 685.24 128.56 684.27 128.76 685.24 128.96 688.11 129.16 692.85 129.35 699.36 129.55 707.55 129.75 717.26 129.95 728.34 130.15 740.59 130.35 753.8 130.55 767.75 130.75 782.2 130.94 796.9 131.14 811.6 131.34 826.05 131.54 840 131.74 853.21 131.94 865.46 132.14 876.54 132.33 886.25 132.53 894.44 132.73 900.95 132.93 905.69 133.13 908.56 133.33 909.53 133.53 908.56 133.72 905.69 133.92 900.95 134.12 894.44 134.32 886.25 134.52 876.54 134.72 865.46 134.92 853.21 135.12 840 135.31 826.05 135.51 811.6 135.71 796.9 135.91 782.2 136.11 767.75 136.31 753.8 136.51 740.59 136.7 728.34 136.9 717.26 137.1 707.55 137.3 699.36 137.5 692.85 137.7 688.11 137.9 685.24 138.09 684.27 138.29 685.24 138.49 688.11 138.69 692.85 138.89 699.36 139.09 707.55 139.29 717.26 139.49 728.34 139.68 740.59 139.88 753.8 140.08 767.75 140.28 782.2 140.48 796.9 140.68 811.6 140.88 826.05 141.07 840 141.27 853.21 141.47 865.46 141.67 876.54 141.87 886.25 142.07 894.44 142.27 900.95 142.46 905.69 142.66 908.56 142.86 909.53 143.06 908.56 143.26 905.69 143.46 900.95 143.66 894.44 143.86 886.25 144.05 876.54 144.25 865.46 144.45 853.21 144.65 840 144.85 826.05 145.05 811.6 145.25 796.9 145.44 782.2 145.64 767.75 145.84 753.8 146.04 740.59 146.24 728.34 146.44 717.26 146.64 707.55 146.83 699.36 147.03 692.85 147.23 688.11 147.43 685.24 147.63 684.27 147.83 685.24 148.03 688.11 148.23 692.85 148.42 699.36 148.62 707.55 148.82 717.26 149.02 728.34 149.22 740.59 149.42 753.8 149.62 767.75 149.81 782.2 150.01 796.9 150.21 811.6 150.41 826.05 150.61 840 150.81 853.21 151.01 865.46 151.2 876.54 151.4 886.25 151.6 894.44 151.8 900.95 152 905.69 152.2 908.56 152.4 909.53 152.6 908.56 152.79 905.69 152.99 900.95 153.19 894.44 153.39 886.25 153.59 876.54 153.79 865.46 153.99 853.21 154.18 840 154.38 826.05 154.58 811.6 154.78 796.9 154.98 782.2 155.18 767.75 155.38 753.8 155.58 740.59 155.77 728.34 155.97 717.26 156.17 707.55 156.37 699.36 156.57 692.85 156.77 688.11 156.97 685.24 157.16 684.27 157.36 685.24 157.56 688.11 157.76 692.85 157.96 699.36 158.16 707.55 158.36 717.26 158.55 728.34 158.75 740.59 158.95 753.8 159.15 767.75 159.35 782.2 159.55 796.9 159.75 811.6 159.95 826.05 160.14 840 160.34 853.21 160.54 865.46 160.74 876.54 160.94 886.25 161.14 894.44 161.34 900.95 161.53 905.69 161.73 908.56 161.93 909.53 162.13 908.56 162.33 905.69 162.53 900.95 162.73 894.44 162.92 886.25 163.12 876.54 163.32 865.46 163.52 853.21 163.72 840 163.92 826.05 164.12 811.6 164.32 796.9 164.51 782.2 164.71 767.75 164.91 753.8 165.11 740.59 165.31 728.34 165.51 717.26 165.71 707.55 165.9 699.36 166.1 692.85 166.3 688.11 166.5 685.24 166.7 684.27 166.9 685.24 167.1 688.11 167.29 692.85 167.49 699.36 167.69 707.55 167.89 717.26 168.09 728.34 168.29 740.59 168.49 753.8 168.69 767.75 168.88 782.2 169.08 796.9 169.28 811.6 169.48 826.05 169.68 840 169.88 853.21 170.08 865.46 170.27 876.54 170.47 886.25 170.67 894.44 170.87 900.95 171.07 905.69 171.27 908.56 171.47 909.53 171.66 908.56 171.86 905.69 172.06 900.95 172.26 894.44 172.46 886.25 172.66 876.54 172.86 865.46 173.06 853.21 173.25 840 173.45 826.05 173.65 811.6 173.85 796.9 174.05 782.2 174.25 767.75 174.45 753.8 174.64 740.59 174.84 728.34 175.04 717.26 175.24 707.55 175.44 699.36 175.64 692.85 175.84 688.11 176.03 685.24 176.23 684.27 176.43 685.24 176.63 688.11 176.83 692.85 177.03 699.36 177.23 707.55 177.43 717.26 177.62 728.34 177.82 740.59 178.02 753.8 178.22 767.75 178.42 782.2 178.62 796.9 178.82 811.6 179.01 826.05 179.21 840 179.41 853.21 179.61 865.46 179.81 876.54 180.01 886.25 180.21 894.44 180.41 900.95 180.6 905.69 180.8 908.56 181 909.53 181.2 908.56 181.4 905.69 181.6 900.95 181.8 894.44 181.99 886.25 182.19 876.54 182.39 865.46 182.59 853.21 182.79 840 182.99 826.05 183.19 811.6 183.38 796.9 183.58 782.2 183.78 767.75 183.98 753.8 184.18 740.59 184.38 728.34 184.58 717.26 184.78 707.55 184.97 699.36 185.17 692.85 185.37 688.11 185.57 685.24 185.77 684.27 185.97 685.24 186.17 688.11 186.36 692.85 186.56 699.36 186.76 707.55 186.96 717.26 187.16 728.34 187.36 740.59 187.56 753.8 187.75 767.75 187.95 782.2 188.15 796.9 188.35 811.6 188.55 826.05 188.75 840 188.95 853.21 189.15 865.46 189.34 876.54 189.54 886.25 189.74 894.44 189.94 900.95 190.14 905.69 190.34 908.56 190.54 909.53 190.73 908.56 190.93 905.69 191.13 900.95 191.33 894.44 191.53 886.25 191.73 876.54 191.93 865.46 192.12 853.21 192.32 840 192.52 826.05 192.72 811.6 192.92 796.9 193.12 782.2 193.32 767.75 193.52 753.8 193.71 740.59 193.91 728.34 194.11 717.26 194.31 707.55 194.51 699.36 194.71 692.85 194.91 688.11 195.1 685.24 195.3 684.27 195.5 685.24 195.7 688.11 195.9 692.85 196.1 699.36 196.3 707.55 196.49 717.26 196.69 728.34 196.89 740.59 197.09 753.8 197.29 767.75 197.49 782.2 197.69 796.9 197.89 811.6 198.08 826.05 198.28 840 198.48 853.21 198.68 865.46 198.88 876.54 199.08 886.25 199.28 894.44 199.47 900.95 199.67 905.69 199.87 908.56 200.07 909.53 200.27 908.56 200.47 905.69 200.67 900.95 200.86 894.44 201.06 886.25 201.26 876.54 201.46 865.46 201.66 853.21 201.86 840 202.06 826.05 202.26 811.6 202.45 796.9 202.65 782.2 202.85 767.75 203.05 753.8 203.25 740.59 203.45 728.34 203.65 717.26 203.84 707.55 204.04 699.36 204.24 692.85 204.44 688.11 204.64 685.24 204.84 684.27 205.04 685.24 205.24 688.11 205.43 692.85 205.63 699.36 205.83 707.55 206.03 717.26 206.23 728.34 206.43 740.59 206.63 753.8 206.82 767.75 207.02 782.2 207.22 796.9 207.42 811.6 207.62 826.05 207.82 840 208.02 853.21 208.21 865.46 208.41 876.54 208.61 886.25 208.81 894.44 209.01 900.95 209.21 905.69 209.41 908.56 209.61 909.53 209.8 908.56 210 905.69 210.2 900.95 210.4 894.44 210.6 886.25 210.8 876.54 211 865.46 211.19 853.21 211.39 840 211.59 826.05 211.79 811.6 211.99 796.9 212.19 782.2 212.39 767.75 212.58 753.8 212.78 740.59 212.98 728.34 213.18 717.26 213.38 707.55 213.58 699.36 213.78 692.85 213.98 688.11 214.17 685.24 214.37 684.27 214.57 685.24 214.77 688.11 214.97 692.85 215.17 699.36 215.37 707.55 215.56 717.26 215.76 728.34 215.96 740.59 216.16 753.8 216.36 767.75 216.56 782.2 216.76 796.9 216.95 811.6 217.15 826.05 217.35 840 217.55 853.21 217.75 865.46 217.95 876.54 218.15 886.25 218.35 894.44 218.54 900.95 218.74 905.69 218.94 908.56 219.14 909.53 219.34 908.56 219.54 905.69 219.74 900.95 219.93 894.44 220.13 886.25 220.33 876.54 220.53 865.46 220.73 853.21 220.93 840 221.13 826.05 221.32 811.6 221.52 796.9 221.72 782.2 221.92 767.75 222.12 753.8 222.32 740.59 222.52 728.34 222.72 717.26 222.91 707.55 223.11 699.36 223.31 692.85 223.51 688.11 223.71 685.24 223.91 684.27 224.11 685.24 224.3 688.11 224.5 692.85 224.7 699.36 224.9 707.55 225.1 717.26 225.3 728.34 225.5 740.59 225.69 753.8 225.89 767.75 226.09 782.2 226.29 796.9 226.49 811.6 226.69 826.05 226.89 840 227.09 853.21 227.28 865.46 227.48 876.54 227.68 886.25 227.88 894.44 228.08 900.95 228.28 905.69 228.48 908.56 228.67 909.53 228.87 908.56 229.07 905.69 229.27 900.95 229.47 894.44 229.67 886.25 229.87 876.54 230.07 865.46 230.26 853.21 230.46 840 230.66 826.05 230.86 811.6 231.06 796.9 231.26 782.2 231.46 767.75 231.65 753.8 231.85 740.59 232.05 728.34 232.25 717.26 232.45 707.55 232.65 699.36 232.85 692.85 233.04 688.11 233.24 685.24 233.44 684.27 233.64 685.24 233.84 688.11 234.04 692.85 234.24 699.36 234.44 707.55 234.63 717.26 234.83 728.34 235.03 740.59 235.23 753.8 235.43 767.75 235.63 782.2 235.83 796.9 236.02 811.6 236.22 826.05 236.42 840 236.62 853.21 236.82 865.46 237.02 876.54 237.22 886.25 237.41 894.44 237.61 900.95 237.81 905.69 238.01 908.56 238.21 909.53 238.41 908.56 238.61 905.69 238.81 900.95 239 894.44 239.2 886.25 239.4 876.54 239.6 865.46 239.8 853.21 240 840 240.2 826.05 240.39 811.6 240.59 796.9 240.79 782.2 240.99 767.75 241.19 753.8 241.39 740.59 241.59 728.34 241.78 717.26 241.98 707.55 242.18 699.36 242.38 692.85 242.58 688.11 242.78 685.24 242.98 684.27 243.18 685.24 243.37 688.11 243.57 692.85 243.77 699.36 243.97 707.55 244.17 717.26 244.37 728.34 244.57 740.59 244.76 753.8 244.96 767.75 245.16 782.2 245.36 796.9 245.56 811.6 245.76 826.05 245.96 840 246.15 853.21 246.35 865.46 246.55 876.54 246.75 886.25 246.95 894.44 247.15 900.95 247.35 905.69 247.55 908.56 247.74 909.53 247.94 908.56 248.14 905.69 248.34 900.95 248.54 894.44 248.74 886.25 248.94 876.54 249.13 865.46 249.33 853.21 249.53 840 249.73 826.05 249.93 811.6 250.13 796.9 250.33 782.2 250.52 767.75 250.72 753.8 250.92 740.59 251.12 728.34 251.32 717.26 251.52 707.55 251.72 699.36 251.92 692.85 252.11 688.11 252.31 685.24 252.51 684.27 252.71 685.24 252.91 688.11 253.11 692.85 253.31 699.36 253.5 707.55 253.7 717.26 253.9 728.34 254.1 740.59 254.3 753.8 254.5 767.75 254.7 782.2 254.9 796.9 255.09 811.6 255.29 826.05 255.49 840 255.69 853.21 255.89 865.46 256.09 876.54 256.29 886.25 256.48 894.44 256.68 900.95 256.88 905.69 257.08 908.56 257.28 909.53 257.48 908.56 257.68 905.69 257.87 900.95 258.07 894.44 258.27 886.25 258.47 876.54 258.67 865.46 258.87 853.21 259.07 840 259.27 826.05 259.46 811.6 259.66 796.9 259.86 782.2 260.06 767.75 260.26 753.8 260.46 740.59 260.66 728.34 260.85 717.26 261.05 707.55 261.25 699.36 261.45 692.85 261.65 688.11 261.85 685.24 262.05 684.27 262.24 685.24 262.44 688.11 262.64 692.85 262.84 699.36 263.04 707.55 263.24 717.26 263.44 728.34 263.64 740.59 263.83 753.8 264.03 767.75 264.23 782.2 264.43 796.9 264.63 811.6 264.83 826.05 265.03 840 265.22 853.21 265.42 865.46 265.62 876.54 265.82 886.25 266.02 894.44 266.22 900.95 266.42 905.69 266.61 908.56 266.81 909.53 267.01 908.56 267.21 905.69 267.41 900.95 267.61 894.44 267.81 886.25 268.01 876.54 268.2 865.46 268.4 853.21 268.6 840 268.8 826.05 269 811.6 269.2 796.9 269.4 782.2 269.59 767.75 269.79 753.8 269.99 740.59 270.19 728.34 270.39 717.26 270.59 707.55 270.79 699.36 270.98 692.85 271.18 688.11 271.38 685.24 271.58 684.27 271.78 685.24 271.98 688.11 272.18 692.85 272.38 699.36 272.57 707.55 272.77 717.26 272.97 728.34 273.17 740.59 273.37 753.8 273.57 767.75 273.77 782.2 273.96 796.9 274.16 811.6 274.36 826.05 274.56 840 274.76 853.21 274.96 865.46 275.16 876.54 275.35 886.25 275.55 894.44 275.75 900.95 275.95 905.69 276.15 908.56 276.35 909.53 276.55 908.56 276.75 905.69 276.94 900.95 277.14 894.44 277.34 886.25 277.54 876.54 277.74 865.46 277.94 853.21 278.14 840 278.33 826.05 278.53 811.6 278.73 796.9 278.93 782.2 279.13 767.75 279.33 753.8 279.53 740.59 279.73 728.34 279.92 717.26 280.12 707.55 280.32 699.36 280.52 692.85 280.72 688.11 280.92 685.24 281.12 684.27 281.31 685.24 281.51 688.11 281.71 692.85 281.91 699.36 282.11 707.55 282.31 717.26 282.51 728.34 282.7 740.59 282.9 753.8 283.1 767.75 283.3 782.2 283.5 796.9 283.7 811.6 283.9 826.05 284.1 840 284.29 853.21 284.49 865.46 284.69 876.54 284.89 886.25 285.09 894.44 285.29 900.95 285.49 905.69 285.68 908.56 285.88 909.53 286.08 908.56 286.28 905.69 286.48 900.95 286.68 894.44 286.88 886.25 287.07 876.54 287.27 865.46 287.47 853.21 287.67 840 287.87 826.05 288.07 811.6 288.27 796.9 288.47 782.2 288.66 767.75 288.86 753.8 289.06 740.59 289.26 728.34 289.46 717.26 289.66 707.55 289.86 699.36 290.05 692.85 290.25 688.11 290.45 685.24 290.65 684.27 290.85 685.24 291.05 688.11 291.25 692.85 291.44 699.36 291.64 707.55 291.84 717.26 292.04 728.34 292.24 740.59 292.44 753.8 292.64 767.75 292.84 782.2 293.03 796.9 293.23 811.6 293.43 826.05 293.63 840 293.83 853.21 294.03 865.46 294.23 876.54 294.42 886.25 294.62 894.44 294.82 900.95 295.02 905.69 295.22 908.56 295.42 909.53 295.62 908.56 295.81 905.69 296.01 900.95 296.21 894.44 296.41 886.25 296.61 876.54 296.81 865.46 297.01 853.21 297.21 840 297.4 826.05 297.6 811.6 297.8 796.9 298 782.2 298.2 767.75 298.4 753.8 298.6 740.59 298.79 728.34 298.99 717.26 299.19 707.55 299.39 699.36 299.59 692.85 299.79 688.11 299.99 685.24 300.18 684.27 300.38 685.24 300.58 688.11 300.78 692.85 300.98 699.36 301.18 707.55 301.38 717.26 301.58 728.34 301.77 740.59 301.97 753.8 302.17 767.75 302.37 782.2 302.57 796.9 302.77 811.6 302.97 826.05 303.16 840 303.36 853.21 303.56 865.46 303.76 876.54 303.96 886.25 304.16 894.44 304.36 900.95 304.56 905.69 304.75 908.56 304.95 909.53 305.15 908.56 305.35 905.69 305.55 900.95 305.75 894.44 305.95 886.25 306.14 876.54 306.34 865.46 306.54 853.21 306.74 840 306.94 826.05 307.14 811.6 307.34 796.9 307.53 782.2 307.73 767.75 307.93 753.8 308.13 740.59 308.33 728.34 308.53 717.26 308.73 707.55 308.93 699.36 309.12 692.85 309.32 688.11 309.52 685.24 309.72 684.27 309.92 685.24 310.12 688.11 310.32 692.85 310.51 699.36 310.71 707.55 310.91 717.26 311.11 728.34 311.31 740.59 311.51 753.8 311.71 767.75 311.9 782.2 312.1 796.9 312.3 811.6 312.5 826.05 312.7 840 312.9 853.21 313.1 865.46 313.3 876.54 313.49 886.25 313.69 894.44 313.89 900.95 314.09 905.69 314.29 908.56 314.49 909.53 314.69 908.56 314.88 905.69 315.08 900.95 315.28 894.44 315.48 886.25 315.68 876.54 315.88 865.46 316.08 853.21 316.27 840 316.47 826.05 316.67 811.6 316.87 796.9 317.07 782.2 317.27 767.75 317.47 753.8 317.67 740.59 317.86 728.34 318.06 717.26 318.26 707.55 318.46 699.36 318.66 692.85 318.86 688.11 319.06 685.24 319.25 684.27 319.45 685.24 319.65 688.11 319.85 692.85 320.05 699.36 320.25 707.55 320.45 717.26 320.64 728.34 320.84 740.59 321.04 753.8 321.24 767.75 321.44 782.2 321.64 796.9 321.84 811.6 322.04 826.05 322.23 840 322.43 853.21 322.63 865.46 322.83 876.54 323.03 886.25 323.23 894.44 323.43 900.95 323.62 905.69 323.82 908.56 324.02 909.53 324.22 908.56 324.42 905.69 324.62 900.95 324.82 894.44 325.01 886.25 325.21 876.54 325.41 865.46 325.61 853.21 325.81 840 326.01 826.05 326.21 811.6 326.41 796.9 326.6 782.2 326.8 767.75 327 753.8 327.2 740.59 327.4 728.34 327.6 717.26 327.8 707.55 327.99 699.36 328.19 692.85 328.39 688.11 328.59 685.24 328.79 684.27 328.99 685.24 329.19 688.11 329.39 692.85 329.58 699.36 329.78 707.55 329.98 717.26 330.18 728.34 330.38 740.59 330.58 753.8 330.78 767.75 330.97 782.2 331.17 796.9 331.37 811.6 331.57 826.05 331.77 840 331.97 853.21 332.17 865.46 332.36 876.54 332.56 886.25 332.76 894.44 332.96 900.95 333.16 905.69 333.36 908.56 333.56 909.53 333.76 908.56 333.95 905.69 334.15 900.95 334.35 894.44 334.55 886.25 334.75 876.54 334.95 865.46 335.15 853.21 335.34 840 335.54 826.05 335.74 811.6 335.94 796.9 336.14 782.2 336.34 767.75 336.54 753.8 336.73 740.59 336.93 728.34 337.13 717.26 337.33 707.55 337.53 699.36 337.73 692.85 337.93 688.11 338.13 685.24 338.32 684.27 338.52 685.24 338.72 688.11 338.92 692.85 339.12 699.36 339.32 707.55 339.52 717.26 339.71 728.34 339.91 740.59 340.11 753.8 340.31 767.75 340.51 782.2 340.71 796.9 340.91 811.6 341.1 826.05 341.3 840 341.5 853.21 341.7 865.46 341.9 876.54 342.1 886.25 342.3 894.44 342.5 900.95 342.69 905.69 342.89 908.56 343.09 909.53 343.29 908.56 343.49 905.69 343.69 900.95 343.89 894.44 344.08 886.25 344.28 876.54 344.48 865.46 344.68 853.21 344.88 840 345.08 826.05 345.28 811.6 345.47 796.9 345.67 782.2 345.87 767.75 346.07 753.8 346.27 740.59 346.47 728.34 346.67 717.26 346.87 707.55 347.06 699.36 347.26 692.85 347.46 688.11 347.66 685.24 347.86 684.27 348.06 685.24 348.26 688.11 348.45 692.85 348.65 699.36 348.85 707.55 349.05 717.26 349.25 728.34 349.45 740.59 349.65 753.8 349.84 767.75 350.04 782.2 350.24 796.9 350.44 811.6 350.64 826.05 350.84 840 351.04 853.21 351.24 865.46 351.43 876.54 351.63 886.25 351.83 894.44 352.03 900.95 352.23 905.69 352.43 908.56 352.63 909.53 352.82 908.56 353.02 905.69 353.22 900.95 353.42 894.44 353.62 886.25 353.82 876.54 354.02 865.46 354.22 853.21 354.41 840 354.61 826.05 354.81 811.6 355.01 796.9 355.21 782.2 355.41 767.75 355.61 753.8 355.8 740.59 356 728.34 356.2 717.26 356.4 707.55 356.6 699.36 356.8 692.85 357 688.11 357.19 685.24 357.39 684.27 357.59 685.24 357.79 688.11 357.99 692.85 358.19 699.36 358.39 707.55 358.59 717.26 358.78 728.34 358.98 740.59 359.18 753.8 359.38 767.75 359.58 782.2 359.78 796.9 359.98 811.6 360.17 826.05 360.37 840 360.57 853.21 360.77 865.46 360.97 876.54 361.17 886.25 361.37 894.44 361.56 900.95 361.76 905.69 361.96 908.56 362.16 909.53 362.36 908.56 362.56 905.69 362.76 900.95 362.96 894.44 363.15 886.25 363.35 876.54 363.55 865.46 363.75 853.21 363.95 840 364.15 826.05 364.35 811.6 364.54 796.9 364.74 782.2 364.94 767.75 365.14 753.8 365.34 740.59 365.54 728.34 365.74 717.26 365.93 707.55 366.13 699.36 366.33 692.85 366.53 688.11 366.73 685.24 366.93 684.27 367.13 685.24 367.33 688.11 367.52 692.85 367.72 699.36 367.92 707.55 368.12 717.26 368.32 728.34 368.52 740.59 368.72 753.8 368.91 767.75 369.11 782.2 369.31 796.9 369.51 811.6 369.71 826.05 369.91 840 370.11 853.21 370.3 865.46 370.5 876.54 370.7 886.25 370.9 894.44 371.1 900.95 371.3 905.69 371.5 908.56 371.7 909.53 371.89 908.56 372.09 905.69 372.29 900.95 372.49 894.44 372.69 886.25 372.89 876.54 373.09 865.46 373.28 853.21 373.48 840 373.68 826.05 373.88 811.6 374.08 796.9 374.28 782.2 374.48 767.75 374.67 753.8 374.87 740.59 375.07 728.34 375.27 717.26 375.47 707.55 375.67 699.36 375.87 692.85 376.07 688.11 376.26 685.24 376.46 684.27 376.66 685.24 376.86 688.11 377.06 692.85 377.26 699.36 377.46 707.55 377.65 717.26 377.85 728.34 378.05 740.59 378.25 753.8 378.45 767.75 378.65 782.2 378.85 796.9 379.05 811.6 379.24 826.05 379.44 840 379.64 853.21 379.84 865.46 380.04 876.54 380.24 886.25 380.44 894.44 380.63 900.95 380.83 905.69 381.03 908.56 381.23 909.53 381.43 908.56 381.63 905.69 381.83 900.95 382.02 894.44 382.22 886.25 382.42 876.54 382.62 865.46 382.82 853.21 383.02 840 383.22 826.05 383.42 811.6 383.61 796.9 383.81 782.2 384.01 767.75 384.21 753.8 384.41 740.59 384.61 728.34 384.81 717.26 385 707.55 385.2 699.36 385.4 692.85 385.6 688.11 385.8 685.24 386 684.27 386.2 685.24 386.39 688.11 386.59 692.85 386.79 699.36 386.99 707.55 387.19 717.26 387.39 728.34 387.59 740.59 387.79 753.8 387.98 767.75 388.18 782.2 388.38 796.9 388.58 811.6 388.78 826.05 388.98 840 389.18 853.21 389.37 865.46 389.57 876.54 389.77 886.25 389.97 894.44 390.17 900.95 390.37 905.69 390.57 908.56 390.76 909.53 390.96 908.56 391.16 905.69 391.36 900.95 391.56 894.44 391.76 886.25 391.96 876.54 392.16 865.46 392.35 853.21 392.55 840 392.75 826.05 392.95 811.6 393.15 796.9 393.35 782.2 393.55 767.75 393.74 753.8 393.94 740.59 394.14 728.34 394.34 717.26 394.54 707.55 394.74 699.36 394.94 692.85 395.13 688.11 395.33 685.24 395.53 684.27 395.73 685.24 395.93 688.11 396.13 692.85 396.33 699.36 396.53 707.55 396.72 717.26 396.92 728.34 397.12 740.59 397.32 753.8 397.52 767.75 397.72 782.2 397.92 796.9 398.11 811.6 398.31 826.05 398.51 840 398.71 853.21 398.91 865.46 399.11 876.54 399.31 886.25 399.5 894.44 399.7 900.95 399.9 905.69 400.1 908.56 400.3 909.53 400.5 908.56 400.7 905.69 400.9 900.95 401.09 894.44 401.29 886.25 401.49 876.54 401.69 865.46 401.89 853.21 402.09 840 402.29 826.05 402.48 811.6 402.68 796.9 402.88 782.2 403.08 767.75 403.28 753.8 403.48 740.59 403.68 728.34 403.88 717.26 404.07 707.55 404.27 699.36 404.47 692.85 404.67 688.11 404.87 685.24 405.07 684.27 405.27 685.24 405.46 688.11 405.66 692.85 405.86 699.36 406.06 707.55 406.26 717.26 406.46 728.34 406.66 740.59 406.85 753.8 407.05 767.75 407.25 782.2 407.45 796.9 407.65 811.6 407.85 826.05 408.05 840 408.25 853.21 408.44 865.46 408.64 876.54 408.84 886.25 409.04 894.44 409.24 900.95 409.44 905.69 409.64 908.56 409.83 909.53 410.03 908.56 410.23 905.69 410.43 900.95 410.63 894.44 410.83 886.25 411.03 876.54 411.22 865.46 411.42 853.21 411.62 840 411.82 826.05 412.02 811.6 412.22 796.9 412.42 782.2 412.62 767.75 412.81 753.8 413.01 740.59 413.21 728.34 413.41 717.26 413.61 707.55 413.81 699.36 414.01 692.85 414.2 688.11 414.4 685.24 414.6 684.27 414.8 685.24 415 688.11 415.2 692.85 415.4 699.36 415.59 707.55 415.79 717.26 415.99 728.34 416.19 740.59 416.39 753.8 416.59 767.75 416.79 782.2 416.99 796.9 417.18 811.6 417.38 826.05 417.58 840 417.78 853.21 417.98 865.46 418.18 876.54 418.38 886.25 418.57 894.44 418.77 900.95 418.97 905.69 419.17 908.56 419.37 909.53 419.57 908.56 419.77 905.69 419.96 900.95 420.16 894.44 420.36 886.25 420.56 876.54 420.76 865.46 420.96 853.21 421.16 840 421.36 826.05 421.55 811.6 421.75 796.9 421.95 782.2 422.15 767.75 422.35 753.8 422.55 740.59 422.75 728.34 422.94 717.26 423.14 707.55 423.34 699.36 423.54 692.85 423.74 688.11 423.94 685.24 424.14 684.27 424.33 685.24 424.53 688.11 424.73 692.85 424.93 699.36 425.13 707.55 425.33 717.26 425.53 728.34 425.73 740.59 425.92 753.8 426.12 767.75 426.32 782.2 426.52 796.9 426.72 811.6 426.92 826.05 427.12 840 427.31 853.21 427.51 865.46 427.71 876.54 427.91 886.25 428.11 894.44 428.31 900.95 428.51 905.69 428.71 908.56 428.9 909.53 429.1 908.56 429.3 905.69 429.5 900.95 429.7 894.44 429.9 886.25 430.1 876.54 430.29 865.46 430.49 853.21 430.69 840 430.89 826.05 431.09 811.6 431.29 796.9 431.49 782.2 431.68 767.75 431.88 753.8 432.08 740.59 432.28 728.34 432.48 717.26 432.68 707.55 432.88 699.36 433.08 692.85 433.27 688.11 433.47 685.24 433.67 684.27 433.87 685.24 434.07 688.11 434.27 692.85 434.47 699.36 434.66 707.55 434.86 717.26 435.06 728.34 435.26 740.59 435.46 753.8 435.66 767.75 435.86 782.2 436.05 796.9 436.25 811.6 436.45 826.05 436.65 840 436.85 853.21 437.05 865.46 437.25 876.54 437.45 886.25 437.64 894.44 437.84 900.95 438.04 905.69 438.24 908.56 438.44 909.53 438.64 908.56 438.84 905.69 439.03 900.95 439.23 894.44 439.43 886.25 439.63 876.54 439.83 865.46 440.03 853.21 440.23 840 440.42 826.05 440.62 811.6 440.82 796.9 441.02 782.2 441.22 767.75 441.42 753.8 441.62 740.59 441.82 728.34 442.01 717.26 442.21 707.55 442.41 699.36 442.61 692.85 442.81 688.11 443.01 685.24 443.21 684.27 443.4 685.24 443.6 688.11 443.8 692.85 444 699.36 444.2 707.55 444.4 717.26 444.6 728.34 444.79 740.59 444.99 753.8 445.19 767.75 445.39 782.2 445.59 796.9 445.79 811.6 445.99 826.05 446.19 840 446.38 853.21 446.58 865.46 446.78 876.54 446.98 886.25 447.18 894.44 447.38 900.95 447.58 905.69 447.77 908.56 447.97 909.53 448.17 908.56 448.37 905.69 448.57 900.95 448.77 894.44 448.97 886.25 449.16 876.54 449.36 865.46 449.56 853.21 449.76 840 449.96 826.05 450.16 811.6 450.36 796.9 450.56 782.2 450.75 767.75 450.95 753.8 451.15 740.59 451.35 728.34 451.55 717.26 451.75 707.55 451.95 699.36 452.14 692.85 452.34 688.11 452.54 685.24 452.74 684.27 452.94 685.24 453.14 688.11 453.34 692.85 453.54 699.36 453.73 707.55 453.93 717.26 454.13 728.34 454.33 740.59 454.53 753.8 454.73 767.75 454.93 782.2 455.12 796.9 455.32 811.6 455.52 826.05 455.72 840 455.92 853.21 456.12 865.46 456.32 876.54 456.51 886.25 456.71 894.44 456.91 900.95 457.11 905.69 457.31 908.56 457.51 909.53 457.71 908.56 457.91 905.69 458.1 900.95 458.3 894.44 458.5 886.25 458.7 876.54 458.9 865.46 459.1 853.21 459.3 840 459.49 826.05 459.69 811.6 459.89 796.9 460.09 782.2 460.29 767.75 460.49 753.8 460.69 740.59 460.88 728.34 461.08 717.26 461.28 707.55 461.48 699.36 461.68 692.85 461.88 688.11 462.08 685.24 462.28 684.27 462.47 685.24 462.67 688.11 462.87 692.85 463.07 699.36 463.27 707.55 463.47 717.26 463.67 728.34 463.86 740.59 464.06 753.8 464.26 767.75 464.46 782.2 464.66 796.9 464.86 811.6 465.06 826.05 465.25 840 465.45 853.21 465.65 865.46 465.85 876.54 466.05 886.25 466.25 894.44 466.45 900.95 466.65 905.69 466.84 908.56 467.04 909.53 467.24 908.56 467.44 905.69 467.64 900.95 467.84 894.44 468.04 886.25 468.23 876.54 468.43 865.46 468.63 853.21 468.83 840 469.03 826.05 469.23 811.6 469.43 796.9 469.62 782.2 469.82 767.75 470.02 753.8 470.22 740.59 470.42 728.34 470.62 717.26 470.82 707.55 471.02 699.36 471.21 692.85 471.41 688.11 471.61 685.24 471.81 684.27 472.01 685.24 472.21 688.11 472.41 692.85 472.6 699.36 472.8 707.55 473 717.26 473.2 728.34 473.4 740.59 473.6 753.8 473.8 767.75 473.99 782.2 474.19 796.9 474.39 811.6 474.59 826.05 474.79 840 474.99 853.21 475.19 865.46 475.39 876.54 475.58 886.25 475.78 894.44 475.98 900.95 476.18 905.69 476.38 908.56 476.58 909.53 476.78 908.56 476.97 905.69 477.17 900.95 477.37 894.44 477.57 886.25 477.77 876.54 477.97 865.46 478.17 853.21 478.37 840 478.56 826.05 478.76 811.6 478.96 796.9 479.16 782.2 479.36 767.75 479.56 753.8 479.76 740.59 479.95 728.34 480.15 717.26 480.35 707.55 480.55 699.36 480.75 692.85 480.95 688.11 481.15 685.24 481.34 684.27 481.54 685.24 481.74 688.11 481.94 692.85 482.14 699.36 482.34 707.55 482.54 717.26 482.74 728.34 482.93 740.59 483.13 753.8 483.33 767.75 483.53 782.2 483.73 796.9 483.93 811.6 484.13 826.05 484.32 840 484.52 853.21 484.72 865.46 484.92 876.54 485.12 886.25 485.32 894.44 485.52 900.95 485.71 905.69 485.91 908.56 486.11 909.53 486.31 908.56 486.51 905.69 486.71 900.95 486.91 894.44 487.11 886.25 487.3 876.54 487.5 865.46 487.7 853.21 487.9 840 488.1 826.05 488.3 811.6 488.5 796.9 488.69 782.2 488.89 767.75 489.09 753.8 489.29 740.59 489.49 728.34 489.69 717.26 489.89 707.55 490.08 699.36 490.28 692.85 490.48 688.11 490.68 685.24 490.88 684.27 491.08 685.24 491.28 688.11 491.48 692.85 491.67 699.36 491.87 707.55 492.07 717.26 492.27 728.34 492.47 740.59 492.67 753.8 492.87 767.75 493.06 782.2 493.26 796.9 493.46 811.6 493.66 826.05 493.86 840 494.06 853.21 494.26 865.46 494.45 876.54 494.65 886.25 494.85 894.44 495.05 900.95 495.25 905.69 495.45 908.56 495.65 909.53 495.85 908.56 496.04 905.69 496.24 900.95 496.44 894.44 496.64 886.25 496.84 876.54 497.04 865.46 497.24 853.21 497.43 840 497.63 826.05 497.83 811.6 498.03 796.9 498.23 782.2 498.43 767.75 498.63 753.8 498.82 740.59 499.02 728.34 499.22 717.26 499.42 707.55 499.62 699.36 499.82 692.85 500.02 688.11 500.22 685.24 500.41 684.27 500.61 685.24 500.81 688.11 501.01 692.85 501.21 699.36 501.41 707.55 501.61 717.26 501.8 728.34 502 740.59 502.2 753.8 502.4 767.75 502.6 782.2 502.8 796.9 503 811.6 503.2 826.05 503.39 840 503.59 853.21 503.79 865.46 503.99 876.54 504.19 886.25 504.39 894.44 504.59 900.95 504.78 905.69 504.98 908.56 505.18 909.53 505.38 908.56 505.58 905.69 505.78 900.95 505.98 894.44 506.17 886.25 506.37 876.54 506.57 865.46 506.77 853.21 506.97 840 507.17 826.05 507.37 811.6 507.57 796.9 507.76 782.2 507.96 767.75 508.16 753.8 508.36 740.59 508.56 728.34 508.76 717.26 508.96 707.55 509.15 699.36 509.35 692.85 509.55 688.11 509.75 685.24 509.95 684.27 510.15 685.24 510.35 688.11 510.54 692.85 510.74 699.36 510.94 707.55 511.14 717.26 511.34 728.34 511.54 740.59 511.74 753.8 511.94 767.75 512.13 782.2 512.33 796.9 512.53 811.6 512.73 826.05 512.93 840 513.13 853.21 513.33 865.46 513.52 876.54 513.72 886.25 513.92 894.44 514.12 900.95 514.32 905.69 514.52 908.56 514.72 909.53 514.91 908.56 515.11 905.69 515.31 900.95 515.51 894.44 515.71 886.25 515.91 876.54 516.11 865.46 516.31 853.21 516.5 840 516.7 826.05 516.9 811.6 517.1 796.9 517.3 782.2 517.5 767.75 517.7 753.8 517.89 740.59 518.09 728.34 518.29 717.26 518.49 707.55 518.69 699.36 518.89 692.85 519.09 688.11 519.28 685.24 519.48 684.27 519.68 685.24 519.88 688.11 520.08 692.85 520.28 699.36 520.48 707.55 520.68 717.26 520.87 728.34 521.07 740.59 521.27 753.8 521.47 767.75 521.67 782.2 521.87 796.9 522.07 811.6 522.26 826.05 522.46 840 522.66 853.21 522.86 865.46 523.06 876.54 523.26 886.25 523.46 894.44 523.65 900.95 523.85 905.69 524.05 908.56 524.25 909.53 524.45 908.56 524.65 905.69 524.85 900.95 525.05 894.44 525.24 886.25 525.44 876.54 525.64 865.46 525.84 853.21 526.04 840 526.24 826.05 526.44 811.6 526.63 796.9 526.83 782.2 527.03 767.75 527.23 753.8 527.43 740.59 527.63 728.34 527.83 717.26 528.03 707.55 528.22 699.36 528.42 692.85 528.62 688.11 528.82 685.24 529.02 684.27 529.22 685.24 529.42 688.11 529.61 692.85 529.81 699.36 530.01 707.55 530.21 717.26 530.41 728.34 530.61 740.59 530.81 753.8 531 767.75 531.2 782.2 531.4 796.9 531.6 811.6 531.8 826.05 532 840 532.2 853.21 532.4 865.46 532.59 876.54 532.79 886.25 532.99 894.44 533.19 900.95 533.39 905.69 533.59 908.56 533.79 909.53 533.98 908.56 534.18 905.69 534.38 900.95 534.58 894.44 534.78 886.25 534.98 876.54 535.18 865.46 535.37 853.21 535.57 840 535.77 826.05 535.97 811.6 536.17 796.9 536.37 782.2 536.57 767.75 536.77 753.8 536.96 740.59 537.16 728.34 537.36 717.26 537.56 707.55 537.76 699.36 537.96 692.85 538.16 688.11 538.35 685.24 538.55 684.27 538.75 685.24 538.95 688.11 539.15 692.85 539.35 699.36 539.55 707.55 539.74 717.26 539.94 728.34 540.14 740.59 540.34 753.8 540.54 767.75 540.74 782.2 540.94 796.9 541.14 811.6 541.33 826.05 541.53 840 541.73 853.21 541.93 865.46 542.13 876.54 542.33 886.25 542.53 894.44 542.72 900.95 542.92 905.69 543.12 908.56 543.32 909.53 543.52 908.56 543.72 905.69 543.92 900.95 544.11 894.44 544.31 886.25 544.51 876.54 544.71 865.46 544.91 853.21 545.11 840 545.31 826.05 545.51 811.6 545.7 796.9 545.9 782.2 546.1 767.75 546.3 753.8 546.5 740.59 546.7 728.34 546.9 717.26 547.09 707.55 547.29 699.36 547.49 692.85 547.69 688.11 547.89 685.24 548.09 684.27 548.29 685.24 548.48 688.11 548.68 692.85 548.88 699.36 549.08 707.55 549.28 717.26 549.48 728.34 549.68 740.59 549.88 753.8 550.07 767.75 550.27 782.2 550.47 796.9 550.67 811.6 550.87 826.05 551.07 840 551.27 853.21 551.46 865.46 551.66 876.54 551.86 886.25 552.06 894.44 552.26 900.95 552.46 905.69 552.66 908.56 552.86 909.53 553.05 908.56 553.25 905.69 553.45 900.95 553.65 894.44 553.85 886.25 554.05 876.54 554.25 865.46 554.44 853.21 554.64 840 554.84 826.05 555.04 811.6 555.24 796.9 555.44 782.2 555.64 767.75 555.83 753.8 556.03 740.59 556.23 728.34 556.43 717.26 556.63 707.55 556.83 699.36 557.03 692.85 557.23 688.11 557.42 685.24 557.62 684.27 557.82 685.24 558.02 688.11 558.22 692.85 558.42 699.36 558.62 707.55 558.81 717.26 559.01 728.34 559.21 740.59 559.41 753.8 559.61 767.75 559.81 782.2 560.01 796.9 560.2 811.6 560.4 826.05 560.6 840 560.8 853.21 561 865.46 561.2 876.54 561.4 886.25 561.6 894.44 561.79 900.95 561.99 905.69 562.19 908.56 562.39 909.53 562.59 908.56 562.79 905.69 562.99 900.95 563.18 894.44 563.38 886.25 563.58 876.54 563.78 865.46 563.98 853.21 564.18 840 564.38 826.05 564.57 811.6 564.77 796.9 564.97 782.2 565.17 767.75 565.37 753.8 565.57 740.59 565.77 728.34 565.97 717.26 566.16 707.55 566.36 699.36 566.56 692.85 566.76 688.11 566.96 685.24 567.16 684.27 567.36 685.24 567.55 688.11 567.75 692.85 567.95 699.36 568.15 707.55 568.35 717.26 568.55 728.34 568.75 740.59 568.94 753.8 569.14 767.75 569.34 782.2 569.54 796.9 569.74 811.6 569.94 826.05 570.14 840 570.34 853.21 570.53 865.46 570.73 876.54 570.93 886.25 571.13 894.44 571.33 900.95 571.53 905.69 571.73 908.56 571.92 909.53 572.12 908.56 572.32 905.69 572.52 900.95 572.72 894.44 572.92 886.25 573.12 876.54 573.31 865.46 573.51 853.21 573.71 840 573.91 826.05 574.11 811.6 574.31 796.9 574.51 782.2 574.71 767.75 574.9 753.8 575.1 740.59 575.3 728.34 575.5 717.26 575.7 707.55 575.9 699.36 576.1 692.85 576.29 688.11 576.49 685.24 576.69 684.27 576.89 685.24 577.09 688.11 577.29 692.85 577.49 699.36 577.69 707.55 577.88 717.26 578.08 728.34 578.28 740.59 578.48 753.8 578.68 767.75 578.88 782.2 579.08 796.9 579.27 811.6 579.47 826.05 579.67 840 579.87 853.21 580.07 865.46 580.27 876.54 580.47 886.25 580.66 894.44 580.86 900.95 581.06 905.69 581.26 908.56 581.46 909.53 581.66 908.56 581.86 905.69 582.06 900.95 582.25 894.44 582.45 886.25 582.65 876.54 582.85 865.46 583.05 853.21 583.25 840 583.45 826.05 583.64 811.6 583.84 796.9 584.04 782.2 584.24 767.75 584.44 753.8 584.64 740.59 584.84 728.34 585.03 717.26 585.23 707.55 585.43 699.36 585.63 692.85 585.83 688.11 586.03 685.24 586.23 684.27 586.43 685.24 586.62 688.11 586.82 692.85 587.02 699.36 587.22 707.55 587.42 717.26 587.62 728.34 587.82 740.59 588.01 753.8 588.21 767.75 588.41 782.2 588.61 796.9 588.81 811.6 589.01 826.05 589.21 840 589.4 853.21 589.6 865.46 589.8 876.54 590 886.25 590.2 894.44 590.4 900.95 590.6 905.69 590.8 908.56 590.99 909.53 591.19 908.56 591.39 905.69 591.59 900.95 591.79 894.44 591.99 886.25 592.19 876.54 592.38 865.46 592.58 853.21 592.78 840 592.98 826.05 593.18 811.6 593.38 796.9 593.58 782.2 593.77 767.75 593.97 753.8 594.17 740.59 594.37 728.34 594.57 717.26 594.77 707.55 594.97 699.36 595.17 692.85 595.36 688.11 595.56 685.24 595.76 684.27 595.96 685.24 596.16 688.11 596.36 692.85 596.56 699.36 596.75 707.55 596.95 717.26 597.15 728.34 597.35 740.59 597.55 753.8 597.75 767.75 597.95 782.2 598.14 796.9 598.34 811.6 598.54 826.05 598.74 840 598.94 853.21 599.14 865.46 599.34 876.54 599.54 886.25 599.73 894.44 599.93 900.95 600.13 905.69 600.33 908.56 600.53 909.53 600.73 908.56 600.93 905.69 601.12 900.95 601.32 894.44 601.52 886.25 601.72 876.54 601.92 865.46 602.12 853.21 602.32 840 602.52 826.05 602.71 811.6 602.91 796.9 603.11 782.2 603.31 767.75 603.51 753.8 603.71 740.59 603.91 728.34 604.1 717.26 604.3 707.55 604.5 699.36 604.7 692.85 604.9 688.11 605.1 685.24 605.3 684.27 605.49 685.24 605.69 688.11 605.89 692.85 606.09 699.36 606.29 707.55 606.49 717.26 606.69 728.34 606.89 740.59 607.08 753.8 607.28 767.75 607.48 782.2 607.68 796.9 607.88 811.6 608.08 826.05 608.28 840 608.47 853.21 608.67 865.46 608.87 876.54 609.07 886.25 609.27 894.44 609.47 900.95 609.67 905.69 609.86 908.56 610.06 909.53 610.26 908.56 610.46 905.69 610.66 900.95 610.86 894.44 611.06 886.25 611.26 876.54 611.45 865.46 611.65 853.21 611.85 840 612.05 826.05 612.25 811.6 612.45 796.9 612.65 782.2 612.84 767.75 613.04 753.8 613.24 740.59 613.44 728.34 613.64 717.26 613.84 707.55 614.04 699.36 614.23 692.85 614.43 688.11 614.63 685.24 614.83 684.27 615.03 685.24 615.23 688.11 615.43 692.85 615.63 699.36 615.82 707.55 616.02 717.26 616.22 728.34 616.42 740.59 616.62 753.8 616.82 767.75 617.02 782.2 617.21 796.9 617.41 811.6 617.61 826.05 617.81 840 618.01 853.21 618.21 865.46 618.41 876.54 618.6 886.25 618.8 894.44 619 900.95 619.2 905.69 619.4 908.56 619.6 909.53 619.8 908.56 620 905.69 620.19 900.95 620.39 894.44 620.59 886.25 620.79 876.54 620.99 865.46 621.19 853.21 621.39 840 621.58 826.05 621.78 811.6 621.98 796.9 622.18 782.2 622.38 767.75 622.58 753.8 622.78 740.59 622.97 728.34 623.17 717.26 623.37 707.55 623.57 699.36 623.77 692.85 623.97 688.11 624.17 685.24 624.37 684.27 624.56 685.24 624.76 688.11 624.96 692.85 625.16 699.36 625.36 707.55 625.56 717.26 625.76 728.34 625.95 740.59 626.15 753.8 626.35 767.75 626.55 782.2 626.75 796.9 626.95 811.6 627.15 826.05 627.35 840 627.54 853.21 627.74 865.46 627.94 876.54 628.14 886.25 628.34 894.44 628.54 900.95 628.74 905.69 628.93 908.56 629.13 909.53 629.33 908.56 629.53 905.69 629.73 900.95 629.93 894.44 630.13 886.25 630.32 876.54" fill="none" stroke="#2ca02c" stroke-width="2.3" stroke-linejoin="round" stroke-dasharray="8.5 3.7"/></g>
<line x1="79" y1="672.6" x2="79" y2="921.5" stroke="#c8c8c8" stroke-width="1.2" />
<line x1="78.4" y1="672.6" x2="631.2" y2="672.6" stroke="#000" stroke-width="1.2" />
<line x1="78.4" y1="921.5" x2="631.2" y2="921.5" stroke="#000" stroke-width="1.2" />
<line x1="630.6" y1="672.6" x2="630.6" y2="921.5" stroke="#000" stroke-width="1.2" />
<g><line x1="78.9" y1="921.5" x2="78.9" y2="925.1" stroke="#c8c8c8" stroke-width="1.1" /><line x1="178.22" y1="921.5" x2="178.22" y2="925.1" stroke="#c8c8c8" stroke-width="1.1" /><line x1="277.54" y1="921.5" x2="277.54" y2="925.1" stroke="#000" stroke-width="1.1" /><line x1="376.86" y1="921.5" x2="376.86" y2="925.1" stroke="#000" stroke-width="1.1" /><line x1="476.18" y1="921.5" x2="476.18" y2="925.1" stroke="#000" stroke-width="1.1" /><line x1="575.5" y1="921.5" x2="575.5" y2="925.1" stroke="#000" stroke-width="1.1" /><line x1="75.4" y1="712.5" x2="79" y2="712.5" stroke="#c8c8c8" stroke-width="1.1" /><line x1="75.4" y1="754.5" x2="79" y2="754.5" stroke="#000" stroke-width="1.1" /><line x1="75.4" y1="796.5" x2="79" y2="796.5" stroke="#000" stroke-width="1.1" /><line x1="75.4" y1="838.5" x2="79" y2="838.5" stroke="#000" stroke-width="1.1" /><line x1="75.4" y1="880.5" x2="79" y2="880.5" stroke="#000" stroke-width="1.1" /></g>
<rect x="532.75" y="737.5" width="90.35" height="120" rx="3" ry="3" fill="#fff" fill-opacity="0.8" stroke="#d0d0d0" stroke-width="1.1"/>
<line x1="537.8" y1="750.5" x2="571.6" y2="750.5" stroke="#1f77b4" stroke-width="2" />
<line x1="537.8" y1="773.2" x2="571.6" y2="773.2" stroke="#ff7f0e" stroke-width="2" />
<line x1="538.7" y1="795.9" x2="570.9" y2="795.9" stroke="#ff7f0e" stroke-width="2" stroke-dasharray="8.2 3.7"/>
<line x1="537.8" y1="818.6" x2="571.6" y2="818.6" stroke="#2ca02c" stroke-width="2" />
<line x1="538.7" y1="841.3" x2="570.9" y2="841.3" stroke="#2ca02c" stroke-width="2" stroke-dasharray="8.2 3.7"/>
<g><g transform="translate(105.08,14.5) scale(1.2297,1)"><text x="0" y="0" style="font-size:19.3px">(A), Singular values, eigenvalues and DFT spectrum</text></g><g transform="translate(234.58,340.3) scale(1.2319,1)"><text x="0" y="0" style="font-size:19.3px">(B), Left singular vectors</text></g><g transform="translate(227.58,665.6) scale(1.2356,1)"><text x="0" y="0" style="font-size:19.3px">(C), Right singular vectors</text></g><g transform="translate(325.43,309.3) scale(1.1294,1)"><text x="0" y="0" style="font-size:17.6px">Index <tspan style="font-family:'Liberation Sans', sans-serif;font-style:italic;font-size:15.49px">n</tspan></text></g><g transform="translate(330.97,634.5) scale(1.1085,1)"><text x="0" y="0" style="font-size:17.6px">L axis</text></g><g transform="translate(331.01,960.2) scale(1.0569,1)"><text x="0" y="0" style="font-size:17.6px">K axis</text></g><g transform="translate(36.1,189.16) rotate(-90) scale(1.1338,1)"><text x="0" y="0" style="font-size:17.6px">Magnitude</text></g><g transform="translate(14.2,561.35) rotate(-90) scale(1.1372,1)"><text x="0" y="0" style="font-size:17.6px">Left singular vectors <tspan style="font-family:'Liberation Sans', sans-serif;font-style:italic">u</tspan></text></g><g transform="translate(14.2,892.74) rotate(-90) scale(1.1365,1)"><text x="0" y="0" style="font-size:17.6px">Right singular vectors <tspan style="font-family:'Liberation Sans', sans-serif;font-style:italic">v</tspan></text></g><g transform="translate(74.16,289.3) scale(1.1351,1)"><text x="0" y="0" style="font-size:17.6px">0</text></g><g transform="translate(135.54,289.3) scale(1.1351,1)"><text x="0" y="0" style="font-size:17.6px">2</text></g><g transform="translate(196.66,289.3) scale(1.1351,1)"><text x="0" y="0" style="font-size:17.6px">4</text></g><g transform="translate(257.78,289.3) scale(1.1351,1)"><text x="0" y="0" style="font-size:17.6px">6</text></g><g transform="translate(319.21,289.3) scale(1.1351,1)"><text x="0" y="0" style="font-size:17.6px">8</text></g><g transform="translate(375.01,289.3) scale(1.1351,1)"><text x="0" y="0" style="font-size:17.6px">10</text></g><g transform="translate(436.42,289.3) scale(1.1351,1)"><text x="0" y="0" style="font-size:17.6px">12</text></g><g transform="translate(497.37,289.3) scale(1.1351,1)"><text x="0" y="0" style="font-size:17.6px">14</text></g><g transform="translate(558.66,289.3) scale(1.1351,1)"><text x="0" y="0" style="font-size:17.6px">16</text></g><g transform="translate(620.06,289.3) scale(1.1351,1)"><text x="0" y="0" style="font-size:17.6px">18</text></g><g transform="translate(43.56,237.29) scale(1.1766,1)"><text x="0" y="0" style="font-size:17.6px">10<tspan style="font-size:12.32px" dy="-6.2">2</tspan></text></g><g transform="translate(43.58,184.91) scale(1.1630,1)"><text x="0" y="0" style="font-size:17.6px">10<tspan style="font-size:12.32px" dy="-6.2">3</tspan></text></g><g transform="translate(43.6,132.53) scale(1.1495,1)"><text x="0" y="0" style="font-size:17.6px">10<tspan style="font-size:12.32px" dy="-6.2">4</tspan></text></g><g transform="translate(43.58,80.15) scale(1.1630,1)"><text x="0" y="0" style="font-size:17.6px">10<tspan style="font-size:12.32px" dy="-6.2">5</tspan></text></g><g transform="translate(74.1,615.5) scale(1.1351,1)"><text x="0" y="0" style="font-size:17.6px">0</text></g><g transform="translate(182.86,615.5) scale(1.1351,1)"><text x="0" y="0" style="font-size:17.6px">20</text></g><g transform="translate(296.89,615.5) scale(1.1351,1)"><text x="0" y="0" style="font-size:17.6px">40</text></g><g transform="translate(410.36,615.5) scale(1.1351,1)"><text x="0" y="0" style="font-size:17.6px">60</text></g><g transform="translate(524.12,615.5) scale(1.1351,1)"><text x="0" y="0" style="font-size:17.6px">80</text></g><g transform="translate(35.85,359.1) scale(1.1197,1)"><text x="0" y="0" style="font-size:17.6px">0.15</text></g><g transform="translate(35.85,398.15) scale(1.1197,1)"><text x="0" y="0" style="font-size:17.6px">0.10</text></g><g transform="translate(35.85,437.2) scale(1.1197,1)"><text x="0" y="0" style="font-size:17.6px">0.05</text></g><g transform="translate(35.85,476.25) scale(1.1197,1)"><text x="0" y="0" style="font-size:17.6px">0.00</text></g><g transform="translate(23.02,515.3) scale(1.1678,1)"><text x="0" y="0" style="font-size:17.6px">−0.05</text></g><g transform="translate(23.02,554.35) scale(1.1678,1)"><text x="0" y="0" style="font-size:17.6px">−0.10</text></g><g transform="translate(23.02,593.4) scale(1.1678,1)"><text x="0" y="0" style="font-size:17.6px">−0.15</text></g><g transform="translate(73.91,941.6) scale(1.1351,1)"><text x="0" y="0" style="font-size:17.6px">0</text></g><g transform="translate(163.06,941.6) scale(1.1351,1)"><text x="0" y="0" style="font-size:17.6px">500</text></g><g transform="translate(257.07,941.6) scale(1.1351,1)"><text x="0" y="0" style="font-size:17.6px">1000</text></g><g transform="translate(356.38,941.6) scale(1.1351,1)"><text x="0" y="0" style="font-size:17.6px">1500</text></g><g transform="translate(456.22,941.6) scale(1.1351,1)"><text x="0" y="0" style="font-size:17.6px">2000</text></g><g transform="translate(555.52,941.6) scale(1.1351,1)"><text x="0" y="0" style="font-size:17.6px">2500</text></g><g transform="translate(36.04,718) scale(1.1219,1)"><text x="0" y="0" style="font-size:17.6px">0.02</text></g><g transform="translate(36.03,760) scale(1.1404,1)"><text x="0" y="0" style="font-size:17.6px">0.01</text></g><g transform="translate(36.05,802) scale(1.1122,1)"><text x="0" y="0" style="font-size:17.6px">0.00</text></g><g transform="translate(22.89,844) scale(1.1843,1)"><text x="0" y="0" style="font-size:17.6px">−0.01</text></g><g transform="translate(22.9,886) scale(1.1754,1)"><text x="0" y="0" style="font-size:17.6px">−0.02</text></g><g transform="translate(392.9,47.9) scale(1.1220,1)"><text x="0" y="0" style="font-size:17.6px">Singular values, <tspan style="font-family:'Liberation Sans', sans-serif;font-style:italic">σ</tspan><tspan style="font-family:'Liberation Sans', sans-serif;font-style:italic;font-size:12.32px" dy="2.5">n</tspan></text></g><g transform="translate(393.95,72.9) scale(1.1405,1)"><text x="0" y="0" style="font-size:17.6px">Eigenvalue magnitudes, |<tspan style="font-family:'Liberation Sans', sans-serif;font-style:italic">λ</tspan><tspan style="font-family:'Liberation Sans', sans-serif;font-style:italic;font-size:12.32px" dy="2.5">n</tspan><tspan dy="-2.5">|</tspan></text></g><g transform="translate(393.47,97.2) scale(1.1202,1)"><text x="0" y="0" style="font-size:17.6px">DFT spectrum (scaled by 4)</text></g><g transform="translate(582.77,372.85) scale(1.2212,1)"><text x="0" y="0" style="font-size:17.6px">n=0</text></g><g transform="translate(582.77,395.5) scale(1.2212,1)"><text x="0" y="0" style="font-size:17.6px">n=1</text></g><g transform="translate(582.77,418.2) scale(1.2212,1)"><text x="0" y="0" style="font-size:17.6px">n=2</text></g><g transform="translate(582.77,440.9) scale(1.2212,1)"><text x="0" y="0" style="font-size:17.6px">n=3</text></g><g transform="translate(582.77,463.6) scale(1.2212,1)"><text x="0" y="0" style="font-size:17.6px">n=4</text></g><g transform="translate(582.77,756.1) scale(1.2212,1)"><text x="0" y="0" style="font-size:17.6px">n=0</text></g><g transform="translate(582.77,778.8) scale(1.2212,1)"><text x="0" y="0" style="font-size:17.6px">n=1</text></g><g transform="translate(582.77,801.5) scale(1.2212,1)"><text x="0" y="0" style="font-size:17.6px">n=2</text></g><g transform="translate(582.77,824.2) scale(1.2212,1)"><text x="0" y="0" style="font-size:17.6px">n=3</text></g><g transform="translate(582.77,846.9) scale(1.2212,1)"><text x="0" y="0" style="font-size:17.6px">n=4</text></g></g>
<path d="M1.6 388 L1.6 381.5 M0.2 383.5 L1.6 381.3 L3 383.5" fill="none" stroke="#000" stroke-width="1"/>
<path d="M1.6 708.6 L1.6 701.8 M0.2 703.8 L1.6 701.6 L3 703.8" fill="none" stroke="#000" stroke-width="1"/>
</svg></body></html>
